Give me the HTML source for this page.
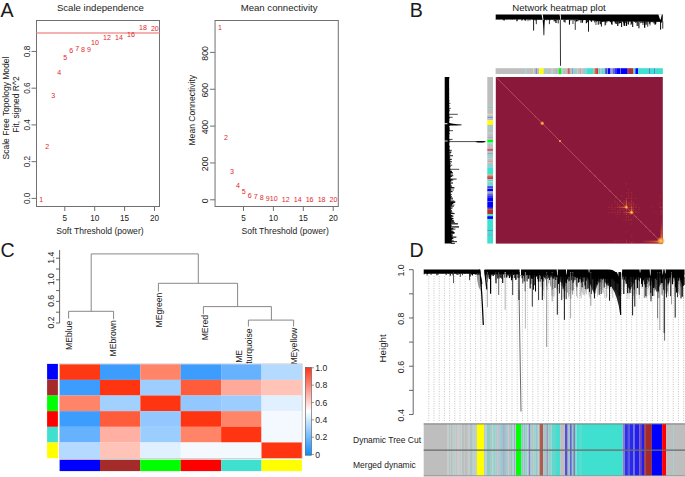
<!DOCTYPE html>
<html><head><meta charset="utf-8"><style>
html,body{margin:0;padding:0;background:#fff;width:685px;height:477px;overflow:hidden}
svg{display:block}
text{font-family:"Liberation Sans",sans-serif}
</style></head><body>
<svg width="685" height="477" viewBox="0 0 685 477">
<rect x="0" y="0" width="685" height="477" fill="#fff"/>
<text x="0.40" y="256.90" font-size="19.6" text-anchor="start" fill="#1a1a1a" >C</text>
<text x="0.40" y="17.00" font-size="19.6" text-anchor="start" fill="#1a1a1a" >A</text>
<text x="409.60" y="257.30" font-size="19.6" text-anchor="start" fill="#1a1a1a" >D</text>
<text x="409.70" y="17.00" font-size="19.6" text-anchor="start" fill="#1a1a1a" >B</text>
<rect x="36.5" y="20.5" width="123.0" height="186.0" fill="none" stroke="#707070" stroke-width="1"/>
<line x1="36.50" y1="33.00" x2="159.50" y2="33.00" stroke="#f09898" stroke-width="1.4" />
<text x="100.40" y="11.10" font-size="9.6" text-anchor="middle" fill="#222" >Scale independence</text>
<line x1="64.80" y1="206.50" x2="64.80" y2="211.00" stroke="#707070" stroke-width="1" />
<text x="64.80" y="220.60" font-size="8.2" text-anchor="middle" fill="#222" >5</text>
<line x1="94.70" y1="206.50" x2="94.70" y2="211.00" stroke="#707070" stroke-width="1" />
<text x="94.70" y="220.60" font-size="8.2" text-anchor="middle" fill="#222" >10</text>
<line x1="124.60" y1="206.50" x2="124.60" y2="211.00" stroke="#707070" stroke-width="1" />
<text x="124.60" y="220.60" font-size="8.2" text-anchor="middle" fill="#222" >15</text>
<line x1="154.50" y1="206.50" x2="154.50" y2="211.00" stroke="#707070" stroke-width="1" />
<text x="154.50" y="220.60" font-size="8.2" text-anchor="middle" fill="#222" >20</text>
<line x1="31.50" y1="198.40" x2="36.50" y2="198.40" stroke="#707070" stroke-width="1" />
<text transform="translate(30.20,198.40) rotate(-90)" font-size="8.2" text-anchor="middle" fill="#222" >0.0</text>
<line x1="31.50" y1="161.66" x2="36.50" y2="161.66" stroke="#707070" stroke-width="1" />
<text transform="translate(30.20,161.66) rotate(-90)" font-size="8.2" text-anchor="middle" fill="#222" >0.2</text>
<line x1="31.50" y1="124.92" x2="36.50" y2="124.92" stroke="#707070" stroke-width="1" />
<text transform="translate(30.20,124.92) rotate(-90)" font-size="8.2" text-anchor="middle" fill="#222" >0.4</text>
<line x1="31.50" y1="88.18" x2="36.50" y2="88.18" stroke="#707070" stroke-width="1" />
<text transform="translate(30.20,88.18) rotate(-90)" font-size="8.2" text-anchor="middle" fill="#222" >0.6</text>
<line x1="31.50" y1="51.44" x2="36.50" y2="51.44" stroke="#707070" stroke-width="1" />
<text transform="translate(30.20,51.44) rotate(-90)" font-size="8.2" text-anchor="middle" fill="#222" >0.8</text>
<text x="100.00" y="233.50" font-size="8.6" text-anchor="middle" fill="#222" >Soft Threshold (power)</text>
<text transform="translate(8.60,108.00) rotate(-90)" font-size="8.5" text-anchor="middle" fill="#222" >Scale Free Topology Model</text>
<text transform="translate(18.90,104.50) rotate(-90)" font-size="8.5" text-anchor="middle" fill="#222" >Fit, signed R^2</text>
<text x="41.23" y="202.20" font-size="7.1" text-anchor="middle" fill="#e0282d" >1</text>
<text x="47.21" y="149.10" font-size="7.1" text-anchor="middle" fill="#e0282d" >2</text>
<text x="53.19" y="98.00" font-size="7.1" text-anchor="middle" fill="#e0282d" >3</text>
<text x="59.17" y="74.70" font-size="7.1" text-anchor="middle" fill="#e0282d" >4</text>
<text x="65.15" y="59.80" font-size="7.1" text-anchor="middle" fill="#e0282d" >5</text>
<text x="71.13" y="53.00" font-size="7.1" text-anchor="middle" fill="#e0282d" >6</text>
<text x="77.11" y="51.00" font-size="7.1" text-anchor="middle" fill="#e0282d" >7</text>
<text x="83.09" y="51.50" font-size="7.1" text-anchor="middle" fill="#e0282d" >8</text>
<text x="89.07" y="51.50" font-size="7.1" text-anchor="middle" fill="#e0282d" >9</text>
<text x="95.05" y="44.50" font-size="7.1" text-anchor="middle" fill="#e0282d" >10</text>
<text x="107.01" y="39.90" font-size="7.1" text-anchor="middle" fill="#e0282d" >12</text>
<text x="118.97" y="40.10" font-size="7.1" text-anchor="middle" fill="#e0282d" >14</text>
<text x="130.93" y="36.80" font-size="7.1" text-anchor="middle" fill="#e0282d" >16</text>
<text x="142.89" y="30.30" font-size="7.1" text-anchor="middle" fill="#e0282d" >18</text>
<text x="154.85" y="30.50" font-size="7.1" text-anchor="middle" fill="#e0282d" >20</text>
<rect x="215.05" y="20.5" width="123.25" height="186.0" fill="none" stroke="#707070" stroke-width="1"/>
<text x="279.10" y="11.10" font-size="9.6" text-anchor="middle" fill="#222" >Mean connectivity</text>
<line x1="243.50" y1="206.50" x2="243.50" y2="211.00" stroke="#707070" stroke-width="1" />
<text x="243.50" y="220.60" font-size="8.2" text-anchor="middle" fill="#222" >5</text>
<line x1="273.40" y1="206.50" x2="273.40" y2="211.00" stroke="#707070" stroke-width="1" />
<text x="273.40" y="220.60" font-size="8.2" text-anchor="middle" fill="#222" >10</text>
<line x1="303.30" y1="206.50" x2="303.30" y2="211.00" stroke="#707070" stroke-width="1" />
<text x="303.30" y="220.60" font-size="8.2" text-anchor="middle" fill="#222" >15</text>
<line x1="333.20" y1="206.50" x2="333.20" y2="211.00" stroke="#707070" stroke-width="1" />
<text x="333.20" y="220.60" font-size="8.2" text-anchor="middle" fill="#222" >20</text>
<line x1="210.05" y1="199.80" x2="215.05" y2="199.80" stroke="#707070" stroke-width="1" />
<text transform="translate(207.70,200.80) rotate(-90)" font-size="8.7" text-anchor="middle" fill="#222" >0</text>
<line x1="210.05" y1="162.95" x2="215.05" y2="162.95" stroke="#707070" stroke-width="1" />
<text transform="translate(207.70,163.95) rotate(-90)" font-size="8.7" text-anchor="middle" fill="#222" >200</text>
<line x1="210.05" y1="126.10" x2="215.05" y2="126.10" stroke="#707070" stroke-width="1" />
<text transform="translate(207.70,127.10) rotate(-90)" font-size="8.7" text-anchor="middle" fill="#222" >400</text>
<line x1="210.05" y1="89.25" x2="215.05" y2="89.25" stroke="#707070" stroke-width="1" />
<text transform="translate(207.70,90.25) rotate(-90)" font-size="8.7" text-anchor="middle" fill="#222" >600</text>
<line x1="210.05" y1="52.40" x2="215.05" y2="52.40" stroke="#707070" stroke-width="1" />
<text transform="translate(207.70,53.40) rotate(-90)" font-size="8.7" text-anchor="middle" fill="#222" >800</text>
<text x="285.20" y="233.50" font-size="8.6" text-anchor="middle" fill="#222" >Soft Threshold (power)</text>
<text transform="translate(194.80,110.20) rotate(-90)" font-size="8.6" text-anchor="middle" fill="#222" >Mean Connectivity</text>
<text x="219.93" y="30.30" font-size="7.1" text-anchor="middle" fill="#e0282d" >1</text>
<text x="225.91" y="139.70" font-size="7.1" text-anchor="middle" fill="#e0282d" >2</text>
<text x="231.89" y="174.10" font-size="7.1" text-anchor="middle" fill="#e0282d" >3</text>
<text x="237.87" y="188.00" font-size="7.1" text-anchor="middle" fill="#e0282d" >4</text>
<text x="243.85" y="194.20" font-size="7.1" text-anchor="middle" fill="#e0282d" >5</text>
<text x="249.83" y="197.80" font-size="7.1" text-anchor="middle" fill="#e0282d" >6</text>
<text x="255.81" y="199.10" font-size="7.1" text-anchor="middle" fill="#e0282d" >7</text>
<text x="261.79" y="200.20" font-size="7.1" text-anchor="middle" fill="#e0282d" >8</text>
<text x="267.77" y="200.80" font-size="7.1" text-anchor="middle" fill="#e0282d" >9</text>
<text x="273.75" y="201.30" font-size="7.1" text-anchor="middle" fill="#e0282d" >10</text>
<text x="285.71" y="201.90" font-size="7.1" text-anchor="middle" fill="#e0282d" >12</text>
<text x="297.67" y="201.90" font-size="7.1" text-anchor="middle" fill="#e0282d" >14</text>
<text x="309.63" y="201.90" font-size="7.1" text-anchor="middle" fill="#e0282d" >16</text>
<text x="321.59" y="201.90" font-size="7.1" text-anchor="middle" fill="#e0282d" >18</text>
<text x="333.55" y="201.90" font-size="7.1" text-anchor="middle" fill="#e0282d" >20</text>
<rect x="495.60" y="68.20" width="30.05" height="5.80" fill="#bebebe" />
<rect x="525.60" y="68.20" width="1.25" height="5.80" fill="#7fcfc8" />
<rect x="526.80" y="68.20" width="6.25" height="5.80" fill="#bebebe" />
<rect x="533.00" y="68.20" width="0.85" height="5.80" fill="#d8d890" />
<rect x="533.80" y="68.20" width="1.75" height="5.80" fill="#bebebe" />
<rect x="535.50" y="68.20" width="1.55" height="5.80" fill="#8888d0" />
<rect x="537.00" y="68.20" width="2.25" height="5.80" fill="#bebebe" />
<rect x="539.20" y="68.20" width="4.45" height="5.80" fill="#ffff00" />
<rect x="543.60" y="68.20" width="1.45" height="5.80" fill="#bebebe" />
<rect x="545.00" y="68.20" width="0.85" height="5.80" fill="#80d0c8" />
<rect x="545.80" y="68.20" width="1.25" height="5.80" fill="#bebebe" />
<rect x="547.00" y="68.20" width="0.85" height="5.80" fill="#80d0c8" />
<rect x="547.80" y="68.20" width="3.75" height="5.80" fill="#bebebe" />
<rect x="551.50" y="68.20" width="0.95" height="5.80" fill="#90c8c8" />
<rect x="552.40" y="68.20" width="3.65" height="5.80" fill="#bebebe" />
<rect x="556.00" y="68.20" width="0.85" height="5.80" fill="#9a9ad0" />
<rect x="556.80" y="68.20" width="1.95" height="5.80" fill="#bebebe" />
<rect x="558.70" y="68.20" width="2.55" height="5.80" fill="#00ff00" />
<rect x="561.20" y="68.20" width="1.45" height="5.80" fill="#7ed6cc" />
<rect x="562.60" y="68.20" width="5.05" height="5.80" fill="#bebebe" />
<rect x="567.60" y="68.20" width="2.25" height="5.80" fill="#c06060" />
<rect x="569.80" y="68.20" width="2.45" height="5.80" fill="#bebebe" />
<rect x="572.20" y="68.20" width="1.25" height="5.80" fill="#8080d0" />
<rect x="573.40" y="68.20" width="1.65" height="5.80" fill="#80d8cc" />
<rect x="575.00" y="68.20" width="2.65" height="5.80" fill="#a8c8c4" />
<rect x="577.60" y="68.20" width="2.45" height="5.80" fill="#bebebe" />
<rect x="580.00" y="68.20" width="1.55" height="5.80" fill="#c4a4a4" />
<rect x="581.50" y="68.20" width="2.75" height="5.80" fill="#bebebe" />
<rect x="584.20" y="68.20" width="1.35" height="5.80" fill="#40e0d0" />
<rect x="585.50" y="68.20" width="0.85" height="5.80" fill="#a0a0d8" />
<rect x="586.30" y="68.20" width="7.15" height="5.80" fill="#40e0d0" />
<rect x="593.40" y="68.20" width="2.05" height="5.80" fill="#c8a080" />
<rect x="595.40" y="68.20" width="1.35" height="5.80" fill="#a52a2a" />
<rect x="596.70" y="68.20" width="1.35" height="5.80" fill="#e03030" />
<rect x="598.00" y="68.20" width="0.85" height="5.80" fill="#bebebe" />
<rect x="598.80" y="68.20" width="1.75" height="5.80" fill="#40e0d0" />
<rect x="600.50" y="68.20" width="1.55" height="5.80" fill="#a8c8c8" />
<rect x="602.00" y="68.20" width="3.25" height="5.80" fill="#70d8d0" />
<rect x="605.20" y="68.20" width="2.05" height="5.80" fill="#4040e0" />
<rect x="607.20" y="68.20" width="0.65" height="5.80" fill="#9090c8" />
<rect x="607.80" y="68.20" width="2.75" height="5.80" fill="#0000ff" />
<rect x="610.50" y="68.20" width="2.05" height="5.80" fill="#a0a0c8" />
<rect x="612.50" y="68.20" width="1.95" height="5.80" fill="#6060d0" />
<rect x="614.40" y="68.20" width="2.65" height="5.80" fill="#3030f0" />
<rect x="617.00" y="68.20" width="3.35" height="5.80" fill="#0000ff" />
<rect x="620.30" y="68.20" width="0.75" height="5.80" fill="#5050f0" />
<rect x="621.00" y="68.20" width="6.05" height="5.80" fill="#0000ff" />
<rect x="627.00" y="68.20" width="1.95" height="5.80" fill="#804080" />
<rect x="628.90" y="68.20" width="4.65" height="5.80" fill="#b03030" />
<rect x="633.50" y="68.20" width="1.95" height="5.80" fill="#40e0d0" />
<rect x="635.40" y="68.20" width="2.75" height="5.80" fill="#0000ff" />
<rect x="638.10" y="68.20" width="11.15" height="5.80" fill="#40e0d0" />
<rect x="649.20" y="68.20" width="0.85" height="5.80" fill="#4060d0" />
<rect x="650.00" y="68.20" width="4.05" height="5.80" fill="#40e0d0" />
<rect x="654.00" y="68.20" width="0.85" height="5.80" fill="#4060d0" />
<rect x="654.80" y="68.20" width="8.05" height="5.80" fill="#40e0d0" />
<rect x="487.30" y="77.00" width="5.70" height="29.92" fill="#bebebe" />
<rect x="487.30" y="106.87" width="5.70" height="1.24" fill="#7fcfc8" />
<rect x="487.30" y="108.07" width="5.70" height="6.22" fill="#bebebe" />
<rect x="487.30" y="114.24" width="5.70" height="0.85" fill="#d8d890" />
<rect x="487.30" y="115.04" width="5.70" height="1.74" fill="#bebebe" />
<rect x="487.30" y="116.73" width="5.70" height="1.54" fill="#8888d0" />
<rect x="487.30" y="118.23" width="5.70" height="2.24" fill="#bebebe" />
<rect x="487.30" y="120.42" width="5.70" height="4.43" fill="#ffff00" />
<rect x="487.30" y="124.80" width="5.70" height="1.44" fill="#bebebe" />
<rect x="487.30" y="126.19" width="5.70" height="0.85" fill="#80d0c8" />
<rect x="487.30" y="126.99" width="5.70" height="1.24" fill="#bebebe" />
<rect x="487.30" y="128.18" width="5.70" height="0.85" fill="#80d0c8" />
<rect x="487.30" y="128.98" width="5.70" height="3.73" fill="#bebebe" />
<rect x="487.30" y="132.67" width="5.70" height="0.95" fill="#90c8c8" />
<rect x="487.30" y="133.56" width="5.70" height="3.63" fill="#bebebe" />
<rect x="487.30" y="137.15" width="5.70" height="0.85" fill="#9a9ad0" />
<rect x="487.30" y="137.94" width="5.70" height="1.94" fill="#bebebe" />
<rect x="487.30" y="139.84" width="5.70" height="2.54" fill="#00ff00" />
<rect x="487.30" y="142.33" width="5.70" height="1.44" fill="#7ed6cc" />
<rect x="487.30" y="143.72" width="5.70" height="5.03" fill="#bebebe" />
<rect x="487.30" y="148.70" width="5.70" height="2.24" fill="#c06060" />
<rect x="487.30" y="150.89" width="5.70" height="2.44" fill="#bebebe" />
<rect x="487.30" y="153.28" width="5.70" height="1.24" fill="#8080d0" />
<rect x="487.30" y="154.47" width="5.70" height="1.64" fill="#80d8cc" />
<rect x="487.30" y="156.07" width="5.70" height="2.64" fill="#a8c8c4" />
<rect x="487.30" y="158.66" width="5.70" height="2.44" fill="#bebebe" />
<rect x="487.30" y="161.05" width="5.70" height="1.54" fill="#c4a4a4" />
<rect x="487.30" y="162.54" width="5.70" height="2.74" fill="#bebebe" />
<rect x="487.30" y="165.23" width="5.70" height="1.34" fill="#40e0d0" />
<rect x="487.30" y="166.52" width="5.70" height="0.85" fill="#a0a0d8" />
<rect x="487.30" y="167.32" width="5.70" height="7.12" fill="#40e0d0" />
<rect x="487.30" y="174.39" width="5.70" height="2.04" fill="#c8a080" />
<rect x="487.30" y="176.38" width="5.70" height="1.34" fill="#a52a2a" />
<rect x="487.30" y="177.68" width="5.70" height="1.34" fill="#e03030" />
<rect x="487.30" y="178.97" width="5.70" height="0.85" fill="#bebebe" />
<rect x="487.30" y="179.77" width="5.70" height="1.74" fill="#40e0d0" />
<rect x="487.30" y="181.46" width="5.70" height="1.54" fill="#a8c8c8" />
<rect x="487.30" y="182.95" width="5.70" height="3.24" fill="#70d8d0" />
<rect x="487.30" y="186.14" width="5.70" height="2.04" fill="#4040e0" />
<rect x="487.30" y="188.13" width="5.70" height="0.65" fill="#9090c8" />
<rect x="487.30" y="188.73" width="5.70" height="2.74" fill="#0000ff" />
<rect x="487.30" y="191.42" width="5.70" height="2.04" fill="#a0a0c8" />
<rect x="487.30" y="193.41" width="5.70" height="1.94" fill="#6060d0" />
<rect x="487.30" y="195.30" width="5.70" height="2.64" fill="#3030f0" />
<rect x="487.30" y="197.89" width="5.70" height="3.34" fill="#0000ff" />
<rect x="487.30" y="201.18" width="5.70" height="0.75" fill="#5050f0" />
<rect x="487.30" y="201.87" width="5.70" height="6.02" fill="#0000ff" />
<rect x="487.30" y="207.85" width="5.70" height="1.94" fill="#804080" />
<rect x="487.30" y="209.74" width="5.70" height="4.63" fill="#b03030" />
<rect x="487.30" y="214.32" width="5.70" height="1.94" fill="#40e0d0" />
<rect x="487.30" y="216.21" width="5.70" height="2.74" fill="#0000ff" />
<rect x="487.30" y="218.90" width="5.70" height="11.10" fill="#40e0d0" />
<rect x="487.30" y="229.96" width="5.70" height="0.85" fill="#4060d0" />
<rect x="487.30" y="230.75" width="5.70" height="4.03" fill="#40e0d0" />
<rect x="487.30" y="234.74" width="5.70" height="0.85" fill="#4060d0" />
<rect x="487.30" y="235.53" width="5.70" height="8.02" fill="#40e0d0" />
<rect x="495.80" y="77.00" width="167.00" height="166.60" fill="#8a183b" />
<text x="559.00" y="11.30" font-size="9.6" text-anchor="middle" fill="#222" >Network heatmap plot</text>
<line x1="496.10" y1="77.30" x2="662.50" y2="243.30" stroke="#e8b0a8" stroke-width="0.5" opacity="0.7"/>
<rect x="608.40" y="206.69" width="1.20" height="1.20" fill="#e8682a" opacity="0.30"/>
<rect x="608.40" y="211.87" width="1.20" height="1.20" fill="#e8682a" opacity="0.25"/>
<rect x="611.40" y="204.29" width="1.20" height="1.20" fill="#e8682a" opacity="0.26"/>
<rect x="611.40" y="206.69" width="1.20" height="1.20" fill="#e8682a" opacity="0.28"/>
<rect x="611.40" y="208.78" width="1.20" height="1.20" fill="#e8682a" opacity="0.28"/>
<rect x="611.40" y="211.87" width="1.20" height="1.20" fill="#e8682a" opacity="0.31"/>
<rect x="614.40" y="200.30" width="1.20" height="1.20" fill="#e8682a" opacity="0.25"/>
<rect x="614.40" y="202.30" width="1.20" height="1.20" fill="#e8682a" opacity="0.26"/>
<rect x="614.40" y="206.69" width="1.20" height="1.20" fill="#e8682a" opacity="0.26"/>
<rect x="614.40" y="208.78" width="1.20" height="1.20" fill="#e8682a" opacity="0.26"/>
<rect x="614.40" y="211.87" width="1.20" height="1.20" fill="#e8682a" opacity="0.28"/>
<rect x="616.90" y="202.30" width="1.20" height="1.20" fill="#e8682a" opacity="0.29"/>
<rect x="616.90" y="204.29" width="1.20" height="1.20" fill="#e8682a" opacity="0.32"/>
<rect x="616.90" y="206.69" width="1.20" height="1.20" fill="#e8682a" opacity="0.41"/>
<rect x="616.90" y="210.28" width="1.20" height="1.20" fill="#e8682a" opacity="0.25"/>
<rect x="616.90" y="211.87" width="1.20" height="1.20" fill="#e8682a" opacity="0.28"/>
<rect x="616.90" y="213.77" width="1.20" height="1.20" fill="#e8682a" opacity="0.29"/>
<rect x="616.90" y="216.26" width="1.20" height="1.20" fill="#e8682a" opacity="0.24"/>
<rect x="619.40" y="204.29" width="1.20" height="1.20" fill="#e8682a" opacity="0.27"/>
<rect x="619.40" y="206.69" width="1.20" height="1.20" fill="#e8682a" opacity="0.44"/>
<rect x="619.40" y="208.78" width="1.20" height="1.20" fill="#e8682a" opacity="0.29"/>
<rect x="619.40" y="210.28" width="1.20" height="1.20" fill="#e8682a" opacity="0.27"/>
<rect x="619.40" y="211.87" width="1.20" height="1.20" fill="#e8682a" opacity="0.35"/>
<rect x="619.40" y="213.77" width="1.20" height="1.20" fill="#e8682a" opacity="0.25"/>
<rect x="621.40" y="195.31" width="1.20" height="1.20" fill="#e8682a" opacity="0.23"/>
<rect x="621.40" y="206.69" width="1.20" height="1.20" fill="#e8682a" opacity="0.26"/>
<rect x="621.40" y="208.78" width="1.20" height="1.20" fill="#e8682a" opacity="0.25"/>
<rect x="623.40" y="200.30" width="1.20" height="1.20" fill="#e8682a" opacity="0.33"/>
<rect x="623.40" y="202.30" width="1.20" height="1.20" fill="#e8682a" opacity="0.42"/>
<rect x="623.40" y="206.69" width="1.20" height="1.20" fill="#e8682a" opacity="0.41"/>
<rect x="623.40" y="208.78" width="1.20" height="1.20" fill="#e8682a" opacity="0.33"/>
<rect x="623.40" y="210.28" width="1.20" height="1.20" fill="#e8682a" opacity="0.23"/>
<rect x="623.40" y="211.87" width="1.20" height="1.20" fill="#e8682a" opacity="0.28"/>
<rect x="623.40" y="213.77" width="1.20" height="1.20" fill="#e8682a" opacity="0.25"/>
<rect x="623.40" y="219.26" width="1.20" height="1.20" fill="#e8682a" opacity="0.24"/>
<rect x="625.80" y="183.34" width="1.20" height="1.20" fill="#e8682a" opacity="0.25"/>
<rect x="625.80" y="192.32" width="1.20" height="1.20" fill="#e8682a" opacity="0.27"/>
<rect x="625.80" y="197.81" width="1.20" height="1.20" fill="#e8682a" opacity="0.32"/>
<rect x="625.80" y="200.30" width="1.20" height="1.20" fill="#e8682a" opacity="0.44"/>
<rect x="625.80" y="202.30" width="1.20" height="1.20" fill="#e8682a" opacity="0.48"/>
<rect x="625.80" y="204.29" width="1.20" height="1.20" fill="#e8682a" opacity="0.49"/>
<rect x="625.80" y="208.78" width="1.20" height="1.20" fill="#e8682a" opacity="0.33"/>
<rect x="625.80" y="210.28" width="1.20" height="1.20" fill="#e8682a" opacity="0.40"/>
<rect x="625.80" y="211.87" width="1.20" height="1.20" fill="#e8682a" opacity="0.38"/>
<rect x="625.80" y="213.77" width="1.20" height="1.20" fill="#e8682a" opacity="0.45"/>
<rect x="625.80" y="216.26" width="1.20" height="1.20" fill="#e8682a" opacity="0.30"/>
<rect x="625.80" y="219.26" width="1.20" height="1.20" fill="#e8682a" opacity="0.29"/>
<rect x="627.90" y="189.33" width="1.20" height="1.20" fill="#e8682a" opacity="0.25"/>
<rect x="627.90" y="192.32" width="1.20" height="1.20" fill="#e8682a" opacity="0.27"/>
<rect x="627.90" y="195.31" width="1.20" height="1.20" fill="#e8682a" opacity="0.29"/>
<rect x="627.90" y="197.81" width="1.20" height="1.20" fill="#e8682a" opacity="0.30"/>
<rect x="627.90" y="202.30" width="1.20" height="1.20" fill="#e8682a" opacity="0.30"/>
<rect x="627.90" y="204.29" width="1.20" height="1.20" fill="#e8682a" opacity="0.29"/>
<rect x="627.90" y="206.69" width="1.20" height="1.20" fill="#e8682a" opacity="0.25"/>
<rect x="627.90" y="211.87" width="1.20" height="1.20" fill="#e8682a" opacity="0.34"/>
<rect x="627.90" y="213.77" width="1.20" height="1.20" fill="#e8682a" opacity="0.23"/>
<rect x="627.90" y="216.26" width="1.20" height="1.20" fill="#e8682a" opacity="0.27"/>
<rect x="627.90" y="219.26" width="1.20" height="1.20" fill="#e8682a" opacity="0.26"/>
<rect x="629.40" y="202.30" width="1.20" height="1.20" fill="#e8682a" opacity="0.35"/>
<rect x="629.40" y="204.29" width="1.20" height="1.20" fill="#e8682a" opacity="0.48"/>
<rect x="629.40" y="206.69" width="1.20" height="1.20" fill="#e8682a" opacity="0.58"/>
<rect x="629.40" y="208.78" width="1.20" height="1.20" fill="#e8682a" opacity="0.35"/>
<rect x="629.40" y="211.87" width="1.20" height="1.20" fill="#e8682a" opacity="0.50"/>
<rect x="629.40" y="213.77" width="1.20" height="1.20" fill="#e8682a" opacity="0.39"/>
<rect x="629.40" y="219.26" width="1.20" height="1.20" fill="#e8682a" opacity="0.23"/>
<rect x="631.00" y="192.32" width="1.20" height="1.20" fill="#e8682a" opacity="0.33"/>
<rect x="631.00" y="195.31" width="1.20" height="1.20" fill="#e8682a" opacity="0.25"/>
<rect x="631.00" y="197.81" width="1.20" height="1.20" fill="#e8682a" opacity="0.40"/>
<rect x="631.00" y="200.30" width="1.20" height="1.20" fill="#e8682a" opacity="0.44"/>
<rect x="631.00" y="202.30" width="1.20" height="1.20" fill="#e8682a" opacity="0.33"/>
<rect x="631.00" y="204.29" width="1.20" height="1.20" fill="#e8682a" opacity="0.38"/>
<rect x="631.00" y="206.69" width="1.20" height="1.20" fill="#e8682a" opacity="0.73"/>
<rect x="631.00" y="208.78" width="1.20" height="1.20" fill="#e8682a" opacity="0.50"/>
<rect x="631.00" y="210.28" width="1.20" height="1.20" fill="#e8682a" opacity="0.32"/>
<rect x="631.00" y="213.77" width="1.20" height="1.20" fill="#e8682a" opacity="0.25"/>
<rect x="631.00" y="219.26" width="1.20" height="1.20" fill="#e8682a" opacity="0.32"/>
<rect x="631.00" y="223.25" width="1.20" height="1.20" fill="#e8682a" opacity="0.23"/>
<rect x="632.90" y="202.30" width="1.20" height="1.20" fill="#e8682a" opacity="0.36"/>
<rect x="632.90" y="204.29" width="1.20" height="1.20" fill="#e8682a" opacity="0.33"/>
<rect x="632.90" y="206.69" width="1.20" height="1.20" fill="#e8682a" opacity="0.38"/>
<rect x="632.90" y="208.78" width="1.20" height="1.20" fill="#e8682a" opacity="0.40"/>
<rect x="632.90" y="210.28" width="1.20" height="1.20" fill="#e8682a" opacity="0.29"/>
<rect x="632.90" y="211.87" width="1.20" height="1.20" fill="#e8682a" opacity="0.48"/>
<rect x="632.90" y="216.26" width="1.20" height="1.20" fill="#e8682a" opacity="0.26"/>
<rect x="635.40" y="197.81" width="1.20" height="1.20" fill="#e8682a" opacity="0.23"/>
<rect x="635.40" y="204.29" width="1.20" height="1.20" fill="#e8682a" opacity="0.25"/>
<rect x="635.40" y="206.69" width="1.20" height="1.20" fill="#e8682a" opacity="0.39"/>
<rect x="635.40" y="210.28" width="1.20" height="1.20" fill="#e8682a" opacity="0.33"/>
<rect x="635.40" y="211.87" width="1.20" height="1.20" fill="#e8682a" opacity="0.29"/>
<rect x="638.40" y="206.69" width="1.20" height="1.20" fill="#e8682a" opacity="0.25"/>
<rect x="638.40" y="208.78" width="1.20" height="1.20" fill="#e8682a" opacity="0.24"/>
<rect x="638.40" y="211.87" width="1.20" height="1.20" fill="#e8682a" opacity="0.25"/>
<rect x="650.40" y="242.00" width="1.20" height="1.20" fill="#e8682a" opacity="0.29"/>
<rect x="653.40" y="240.81" width="1.20" height="1.20" fill="#e8682a" opacity="0.36"/>
<rect x="653.40" y="242.00" width="1.20" height="1.20" fill="#e8682a" opacity="0.26"/>
<rect x="655.40" y="240.81" width="1.20" height="1.20" fill="#e8682a" opacity="0.30"/>
<rect x="655.40" y="242.00" width="1.20" height="1.20" fill="#e8682a" opacity="0.35"/>
<rect x="657.40" y="240.81" width="1.20" height="1.20" fill="#e8682a" opacity="0.25"/>
<rect x="657.40" y="242.00" width="1.20" height="1.20" fill="#e8682a" opacity="0.26"/>
<rect x="658.90" y="240.81" width="1.20" height="1.20" fill="#e8682a" opacity="0.35"/>
<rect x="658.90" y="242.00" width="1.20" height="1.20" fill="#e8682a" opacity="0.23"/>
<rect x="660.00" y="231.23" width="1.20" height="1.20" fill="#e8682a" opacity="0.23"/>
<rect x="660.00" y="234.22" width="1.20" height="1.20" fill="#e8682a" opacity="0.36"/>
<rect x="660.00" y="238.21" width="1.20" height="1.20" fill="#e8682a" opacity="0.43"/>
<rect x="660.00" y="239.71" width="1.20" height="1.20" fill="#e8682a" opacity="0.42"/>
<rect x="660.00" y="242.00" width="1.20" height="1.20" fill="#e8682a" opacity="0.47"/>
<rect x="661.20" y="231.23" width="1.20" height="1.20" fill="#e8682a" opacity="0.25"/>
<rect x="661.20" y="234.22" width="1.20" height="1.20" fill="#e8682a" opacity="0.33"/>
<rect x="661.20" y="238.21" width="1.20" height="1.20" fill="#e8682a" opacity="0.39"/>
<rect x="661.20" y="239.71" width="1.20" height="1.20" fill="#e8682a" opacity="0.47"/>
<rect x="661.20" y="240.81" width="1.20" height="1.20" fill="#e8682a" opacity="0.53"/>
<rect x="614.40" y="240.81" width="1.20" height="1.20" fill="#e0602a" opacity="0.23"/>
<rect x="660.00" y="195.31" width="1.20" height="1.20" fill="#e0602a" opacity="0.23"/>
<rect x="616.90" y="239.71" width="1.20" height="1.20" fill="#e0602a" opacity="0.17"/>
<rect x="658.90" y="197.81" width="1.20" height="1.20" fill="#e0602a" opacity="0.17"/>
<rect x="619.40" y="239.71" width="1.20" height="1.20" fill="#e0602a" opacity="0.15"/>
<rect x="658.90" y="200.30" width="1.20" height="1.20" fill="#e0602a" opacity="0.15"/>
<rect x="621.40" y="239.71" width="1.20" height="1.20" fill="#e0602a" opacity="0.17"/>
<rect x="658.90" y="202.30" width="1.20" height="1.20" fill="#e0602a" opacity="0.17"/>
<rect x="621.40" y="240.81" width="1.20" height="1.20" fill="#e0602a" opacity="0.14"/>
<rect x="660.00" y="202.30" width="1.20" height="1.20" fill="#e0602a" opacity="0.14"/>
<rect x="623.40" y="238.21" width="1.20" height="1.20" fill="#e0602a" opacity="0.16"/>
<rect x="657.40" y="204.29" width="1.20" height="1.20" fill="#e0602a" opacity="0.16"/>
<rect x="625.80" y="231.23" width="1.20" height="1.20" fill="#e0602a" opacity="0.18"/>
<rect x="650.40" y="206.69" width="1.20" height="1.20" fill="#e0602a" opacity="0.18"/>
<rect x="625.80" y="239.71" width="1.20" height="1.20" fill="#e0602a" opacity="0.24"/>
<rect x="658.90" y="206.69" width="1.20" height="1.20" fill="#e0602a" opacity="0.24"/>
<rect x="625.80" y="240.81" width="1.20" height="1.20" fill="#e0602a" opacity="0.32"/>
<rect x="660.00" y="206.69" width="1.20" height="1.20" fill="#e0602a" opacity="0.32"/>
<rect x="625.80" y="242.00" width="1.20" height="1.20" fill="#e0602a" opacity="0.23"/>
<rect x="661.20" y="206.69" width="1.20" height="1.20" fill="#e0602a" opacity="0.23"/>
<rect x="629.40" y="240.81" width="1.20" height="1.20" fill="#e0602a" opacity="0.32"/>
<rect x="660.00" y="210.28" width="1.20" height="1.20" fill="#e0602a" opacity="0.32"/>
<rect x="631.00" y="234.22" width="1.20" height="1.20" fill="#e0602a" opacity="0.17"/>
<rect x="653.40" y="211.87" width="1.20" height="1.20" fill="#e0602a" opacity="0.17"/>
<rect x="631.00" y="236.22" width="1.20" height="1.20" fill="#e0602a" opacity="0.22"/>
<rect x="655.40" y="211.87" width="1.20" height="1.20" fill="#e0602a" opacity="0.22"/>
<rect x="631.00" y="242.00" width="1.20" height="1.20" fill="#e0602a" opacity="0.36"/>
<rect x="661.20" y="211.87" width="1.20" height="1.20" fill="#e0602a" opacity="0.36"/>
<rect x="632.90" y="234.22" width="1.20" height="1.20" fill="#e0602a" opacity="0.14"/>
<rect x="653.40" y="213.77" width="1.20" height="1.20" fill="#e0602a" opacity="0.14"/>
<rect x="632.90" y="238.21" width="1.20" height="1.20" fill="#e0602a" opacity="0.16"/>
<rect x="657.40" y="213.77" width="1.20" height="1.20" fill="#e0602a" opacity="0.16"/>
<rect x="632.90" y="240.81" width="1.20" height="1.20" fill="#e0602a" opacity="0.26"/>
<rect x="660.00" y="213.77" width="1.20" height="1.20" fill="#e0602a" opacity="0.26"/>
<rect x="632.90" y="242.00" width="1.20" height="1.20" fill="#e0602a" opacity="0.19"/>
<rect x="661.20" y="213.77" width="1.20" height="1.20" fill="#e0602a" opacity="0.19"/>
<rect x="638.40" y="240.81" width="1.20" height="1.20" fill="#e0602a" opacity="0.17"/>
<rect x="660.00" y="219.26" width="1.20" height="1.20" fill="#e0602a" opacity="0.17"/>
<defs><linearGradient id="gh" x1="0" y1="0" x2="1" y2="0"><stop offset="0" stop-color="#f07028" stop-opacity="0"/><stop offset="0.6" stop-color="#f07028" stop-opacity="0.55"/><stop offset="1" stop-color="#ffb040" stop-opacity="0.95"/></linearGradient><linearGradient id="gv" x1="0" y1="0" x2="0" y2="1"><stop offset="0" stop-color="#f07028" stop-opacity="0"/><stop offset="0.6" stop-color="#f07028" stop-opacity="0.55"/><stop offset="1" stop-color="#ffb040" stop-opacity="0.95"/></linearGradient><radialGradient id="gr"><stop offset="0" stop-color="#ffe060" stop-opacity="1"/><stop offset="0.5" stop-color="#f8a030" stop-opacity="0.8"/><stop offset="1" stop-color="#f07028" stop-opacity="0"/></radialGradient></defs>
<rect x="641.00" y="240.60" width="21.80" height="1.80" fill="url(#gh)" />
<rect x="660.60" y="221.00" width="1.80" height="21.60" fill="url(#gv)" />
<circle cx="660.8" cy="240.8" r="4.2" fill="url(#gr)"/>
<rect x="616.40" y="206.59" width="10.00" height="1.40" fill="url(#gh)" opacity="0.8"/>
<rect x="625.70" y="197.29" width="1.40" height="10.00" fill="url(#gv)" opacity="0.8"/>
<circle cx="626.4" cy="207.29" r="2.0" fill="url(#gr)"/>
<rect x="622.60" y="211.77" width="9.00" height="1.40" fill="url(#gh)" opacity="0.8"/>
<rect x="630.90" y="203.47" width="1.40" height="9.00" fill="url(#gv)" opacity="0.8"/>
<circle cx="631.6" cy="212.47" r="2.2" fill="url(#gr)"/>
<circle cx="542.2" cy="123.29" r="2.3" fill="url(#gr)"/>
<circle cx="560.0" cy="141.05" r="1.6" fill="url(#gr)"/>
<rect x="534.90" y="116.00" width="1.20" height="1.20" fill="#e07030" opacity="0.60"/>
<rect x="538.00" y="119.10" width="1.00" height="1.00" fill="#e07030" opacity="0.50"/>
<rect x="550.00" y="131.07" width="1.00" height="1.00" fill="#e07030" opacity="0.50"/>
<rect x="589.50" y="170.47" width="1.00" height="1.00" fill="#f09040" opacity="0.55"/>
<rect x="594.50" y="175.46" width="1.00" height="1.00" fill="#f09040" opacity="0.55"/>
<rect x="599.50" y="180.45" width="1.00" height="1.00" fill="#f09040" opacity="0.55"/>
<rect x="604.50" y="185.44" width="1.00" height="1.00" fill="#f09040" opacity="0.55"/>
<rect x="609.50" y="190.43" width="1.00" height="1.00" fill="#f09040" opacity="0.55"/>
<rect x="615.50" y="196.41" width="1.00" height="1.00" fill="#f09040" opacity="0.55"/>
<rect x="619.50" y="200.40" width="1.00" height="1.00" fill="#f09040" opacity="0.55"/>
<rect x="635.50" y="216.36" width="1.00" height="1.00" fill="#f09040" opacity="0.55"/>
<rect x="640.50" y="221.35" width="1.00" height="1.00" fill="#f09040" opacity="0.55"/>
<rect x="645.50" y="226.34" width="1.00" height="1.00" fill="#f09040" opacity="0.55"/>
<rect x="649.50" y="230.33" width="1.00" height="1.00" fill="#f09040" opacity="0.55"/>
<rect x="653.50" y="234.32" width="1.00" height="1.00" fill="#f09040" opacity="0.55"/>
<polygon points="495.70,14.50 495.70,19.40 496.20,19.40 496.70,19.40 497.20,19.40 497.70,19.40 498.20,19.40 498.70,19.40 499.20,19.40 499.70,19.40 500.20,19.40 500.70,19.40 501.20,19.40 501.70,19.40 502.20,19.40 502.70,19.40 503.20,19.40 503.70,19.40 504.20,19.40 504.70,19.40 505.20,19.40 505.70,19.40 506.20,19.40 506.70,19.40 507.20,19.40 507.70,19.40 508.20,19.40 508.70,19.40 509.20,19.40 509.70,19.40 510.20,19.40 510.70,19.40 511.20,19.40 511.70,19.40 512.20,19.40 512.70,19.40 513.20,19.40 513.70,19.40 514.20,19.40 514.70,19.40 515.20,19.40 515.70,19.40 516.20,19.40 516.70,19.40 517.20,19.40 517.70,19.40 518.20,19.40 518.70,19.40 519.20,19.40 519.70,19.40 520.20,19.40 520.70,19.40 521.20,19.40 521.70,19.40 522.20,19.40 522.70,19.40 523.20,19.40 523.70,19.40 524.20,19.40 524.70,19.40 525.20,19.40 525.70,19.40 526.20,19.40 526.70,19.40 527.20,19.40 527.70,19.40 528.20,19.40 528.70,19.40 529.20,19.40 529.70,19.40 530.20,19.42 530.70,19.47 531.20,19.52 531.70,19.57 532.20,19.62 532.70,19.67 533.20,19.70 533.70,19.70 534.20,19.70 534.70,19.71 535.20,19.71 535.70,19.71 536.20,19.71 536.70,19.71 537.20,19.72 537.70,19.72 538.20,19.72 538.70,19.72 539.20,19.72 539.70,19.73 540.20,19.73 540.70,19.73 541.20,19.73 541.70,19.73 542.20,19.74 542.70,19.74 543.20,19.74 543.70,19.74 544.20,19.74 544.70,19.75 545.20,19.75 545.70,19.75 546.20,19.75 546.70,19.75 547.20,19.75 547.70,19.76 548.20,19.76 548.70,19.76 549.20,19.76 549.70,19.76 550.20,19.77 550.70,19.77 551.20,19.77 551.70,19.77 552.20,19.77 552.70,19.78 553.20,19.78 553.70,19.78 554.20,19.78 554.70,19.78 555.20,19.79 555.70,19.79 556.20,19.79 556.70,19.79 557.20,19.79 557.70,19.80 558.20,19.80 558.70,19.80 559.20,19.80 559.70,19.80 560.20,19.80 560.70,19.81 561.20,19.81 561.70,19.81 562.20,19.81 562.70,19.81 563.20,19.82 563.70,19.82 564.20,19.82 564.70,19.82 565.20,19.82 565.70,19.83 566.20,19.83 566.70,19.83 567.20,19.83 567.70,19.83 568.20,19.84 568.70,19.84 569.20,19.84 569.70,19.84 570.20,19.84 570.70,19.84 571.20,19.85 571.70,19.85 572.20,19.85 572.70,19.85 573.20,19.85 573.70,19.86 574.20,19.86 574.70,19.86 575.20,19.86 575.70,19.86 576.20,19.87 576.70,19.87 577.20,19.87 577.70,19.87 578.20,19.87 578.70,19.88 579.20,19.88 579.70,19.88 580.20,19.88 580.70,19.88 581.20,19.89 581.70,19.89 582.20,19.89 582.70,19.89 583.20,19.89 583.70,19.89 584.20,19.90 584.70,19.90 585.20,19.92 585.70,19.96 586.20,20.00 586.70,20.04 587.20,20.08 587.70,20.12 588.20,20.16 588.70,20.20 589.20,20.24 589.70,20.28 590.20,20.32 590.70,20.36 591.20,20.40 591.70,20.44 592.20,20.48 592.70,20.52 593.20,20.56 593.70,20.60 594.20,20.64 594.70,20.68 595.20,20.72 595.70,20.76 596.20,20.80 596.70,20.84 597.20,20.88 597.70,20.92 598.20,20.96 598.70,21.00 599.20,21.04 599.70,21.08 600.20,21.10 600.70,21.11 601.20,21.12 601.70,21.13 602.20,21.14 602.70,21.15 603.20,21.16 603.70,21.17 604.20,21.18 604.70,21.19 605.20,21.20 605.70,21.21 606.20,21.22 606.70,21.23 607.20,21.24 607.70,21.25 608.20,21.26 608.70,21.27 609.20,21.28 609.70,21.29 610.20,21.30 610.70,21.31 611.20,21.32 611.70,21.33 612.20,21.34 612.70,21.35 613.20,21.36 613.70,21.37 614.20,21.38 614.70,21.39 615.20,21.40 615.70,21.41 616.20,21.42 616.70,21.43 617.20,21.44 617.70,21.45 618.20,21.46 618.70,21.47 619.20,21.48 619.70,21.49 620.20,21.50 620.70,21.50 621.20,21.51 621.70,21.51 622.20,21.51 622.70,21.51 623.20,21.51 623.70,21.52 624.20,21.52 624.70,21.52 625.20,21.52 625.70,21.53 626.20,21.53 626.70,21.53 627.20,21.53 627.70,21.54 628.20,21.54 628.70,21.54 629.20,21.54 629.70,21.55 630.20,21.55 630.70,21.55 631.20,21.55 631.70,21.55 632.20,21.56 632.70,21.56 633.20,21.56 633.70,21.56 634.20,21.57 634.70,21.57 635.20,21.57 635.70,21.57 636.20,21.58 636.70,21.58 637.20,21.58 637.70,21.58 638.20,21.59 638.70,21.59 639.20,21.59 639.70,21.59 640.20,21.59 640.70,21.60 641.20,21.60 641.70,21.60 642.20,21.60 642.70,21.61 643.20,21.61 643.70,21.61 644.20,21.61 644.70,21.62 645.20,21.62 645.70,21.62 646.20,21.62 646.70,21.62 647.20,21.63 647.70,21.63 648.20,21.63 648.70,21.63 649.20,21.64 649.70,21.64 650.20,21.64 650.70,21.64 651.20,21.65 651.70,21.65 652.20,21.65 652.70,21.65 653.20,21.66 653.70,21.66 654.20,21.66 654.70,21.66 655.20,21.66 655.70,21.67 656.20,21.67 656.70,21.67 657.20,21.67 657.70,21.68 658.20,21.68 658.70,21.68 659.20,21.68 659.70,21.69 660.20,21.69 660.70,21.69 661.20,21.69 661.70,21.69 662.20,21.70 662.70,21.70 662.80,14.50" fill="#000"/>
<line x1="496.15" y1="19.10" x2="496.15" y2="19.35" stroke="#000" stroke-width="1.26"/>
<line x1="498.08" y1="19.10" x2="498.08" y2="19.32" stroke="#000" stroke-width="1.07"/>
<line x1="499.43" y1="19.10" x2="499.43" y2="19.33" stroke="#000" stroke-width="1.10"/>
<line x1="501.96" y1="19.10" x2="501.96" y2="19.13" stroke="#000" stroke-width="0.92"/>
<line x1="503.10" y1="19.10" x2="503.10" y2="19.65" stroke="#000" stroke-width="1.13"/>
<line x1="504.13" y1="19.10" x2="504.13" y2="20.45" stroke="#000" stroke-width="1.28"/>
<line x1="506.33" y1="19.10" x2="506.33" y2="19.43" stroke="#000" stroke-width="0.84"/>
<line x1="507.29" y1="19.10" x2="507.29" y2="19.36" stroke="#000" stroke-width="0.78"/>
<line x1="508.58" y1="19.10" x2="508.58" y2="19.20" stroke="#000" stroke-width="0.77"/>
<line x1="510.36" y1="19.10" x2="510.36" y2="19.31" stroke="#000" stroke-width="1.21"/>
<line x1="512.23" y1="19.10" x2="512.23" y2="19.48" stroke="#000" stroke-width="1.02"/>
<line x1="514.33" y1="19.10" x2="514.33" y2="19.33" stroke="#000" stroke-width="0.90"/>
<line x1="517.00" y1="19.10" x2="517.00" y2="21.21" stroke="#000" stroke-width="1.21"/>
<line x1="519.11" y1="19.10" x2="519.11" y2="19.25" stroke="#000" stroke-width="0.88"/>
<line x1="520.48" y1="19.10" x2="520.48" y2="19.13" stroke="#000" stroke-width="1.17"/>
<line x1="522.02" y1="19.10" x2="522.02" y2="20.04" stroke="#000" stroke-width="0.96"/>
<line x1="524.49" y1="19.10" x2="524.49" y2="20.27" stroke="#000" stroke-width="0.75"/>
<line x1="525.67" y1="19.10" x2="525.67" y2="20.75" stroke="#000" stroke-width="1.01"/>
<line x1="528.11" y1="19.10" x2="528.11" y2="19.51" stroke="#000" stroke-width="0.79"/>
<line x1="529.94" y1="19.10" x2="529.94" y2="20.45" stroke="#000" stroke-width="0.90"/>
<line x1="530.88" y1="19.19" x2="530.88" y2="19.56" stroke="#000" stroke-width="1.28"/>
<line x1="532.88" y1="19.39" x2="532.88" y2="19.51" stroke="#000" stroke-width="0.89"/>
<line x1="533.83" y1="19.40" x2="533.83" y2="19.46" stroke="#000" stroke-width="1.19"/>
<line x1="534.89" y1="19.41" x2="534.89" y2="20.18" stroke="#000" stroke-width="1.00"/>
<line x1="535.96" y1="19.41" x2="535.96" y2="20.67" stroke="#000" stroke-width="0.82"/>
<line x1="537.72" y1="19.42" x2="537.72" y2="19.54" stroke="#000" stroke-width="0.98"/>
<line x1="538.81" y1="19.42" x2="538.81" y2="19.73" stroke="#000" stroke-width="1.28"/>
<line x1="540.78" y1="19.43" x2="540.78" y2="19.80" stroke="#000" stroke-width="1.24"/>
<line x1="541.84" y1="19.43" x2="541.84" y2="19.94" stroke="#000" stroke-width="1.22"/>
<line x1="543.53" y1="19.44" x2="543.53" y2="19.55" stroke="#000" stroke-width="1.29"/>
<line x1="544.57" y1="19.44" x2="544.57" y2="19.76" stroke="#000" stroke-width="1.17"/>
<line x1="545.78" y1="19.45" x2="545.78" y2="19.82" stroke="#000" stroke-width="0.79"/>
<line x1="546.63" y1="19.45" x2="546.63" y2="20.38" stroke="#000" stroke-width="0.88"/>
<line x1="548.21" y1="19.46" x2="548.21" y2="19.96" stroke="#000" stroke-width="1.00"/>
<line x1="550.28" y1="19.47" x2="550.28" y2="20.20" stroke="#000" stroke-width="1.07"/>
<line x1="552.19" y1="19.47" x2="552.19" y2="19.70" stroke="#000" stroke-width="0.83"/>
<line x1="554.13" y1="19.48" x2="554.13" y2="21.42" stroke="#000" stroke-width="0.89"/>
<line x1="555.07" y1="19.48" x2="555.07" y2="21.03" stroke="#000" stroke-width="1.27"/>
<line x1="556.01" y1="19.49" x2="556.01" y2="22.97" stroke="#000" stroke-width="1.24"/>
<line x1="557.48" y1="19.49" x2="557.48" y2="20.14" stroke="#000" stroke-width="0.81"/>
<line x1="558.20" y1="19.50" x2="558.20" y2="23.38" stroke="#000" stroke-width="0.88"/>
<line x1="559.79" y1="19.50" x2="559.79" y2="19.86" stroke="#000" stroke-width="1.20"/>
<line x1="561.21" y1="19.51" x2="561.21" y2="19.93" stroke="#000" stroke-width="0.85"/>
<line x1="562.79" y1="19.51" x2="562.79" y2="19.60" stroke="#000" stroke-width="0.88"/>
<line x1="564.13" y1="19.52" x2="564.13" y2="21.89" stroke="#000" stroke-width="1.09"/>
<line x1="565.12" y1="19.52" x2="565.12" y2="22.64" stroke="#000" stroke-width="0.86"/>
<line x1="565.76" y1="19.53" x2="565.76" y2="19.92" stroke="#000" stroke-width="1.00"/>
<line x1="566.46" y1="19.53" x2="566.46" y2="19.77" stroke="#000" stroke-width="0.95"/>
<line x1="567.78" y1="19.53" x2="567.78" y2="19.71" stroke="#000" stroke-width="0.95"/>
<line x1="569.48" y1="19.54" x2="569.48" y2="24.64" stroke="#000" stroke-width="1.11"/>
<line x1="570.92" y1="19.55" x2="570.92" y2="20.70" stroke="#000" stroke-width="0.83"/>
<line x1="571.55" y1="19.55" x2="571.55" y2="19.57" stroke="#000" stroke-width="1.25"/>
<line x1="572.98" y1="19.55" x2="572.98" y2="24.03" stroke="#000" stroke-width="0.76"/>
<line x1="574.31" y1="19.56" x2="574.31" y2="20.47" stroke="#000" stroke-width="1.15"/>
<line x1="575.25" y1="19.56" x2="575.25" y2="29.89" stroke="#000" stroke-width="0.79"/>
<line x1="576.45" y1="19.57" x2="576.45" y2="21.48" stroke="#000" stroke-width="1.25"/>
<line x1="577.86" y1="19.57" x2="577.86" y2="21.34" stroke="#000" stroke-width="1.19"/>
<line x1="579.45" y1="19.58" x2="579.45" y2="20.22" stroke="#000" stroke-width="1.13"/>
<line x1="580.99" y1="19.58" x2="580.99" y2="22.70" stroke="#000" stroke-width="0.98"/>
<line x1="582.40" y1="19.59" x2="582.40" y2="22.67" stroke="#000" stroke-width="1.07"/>
<line x1="583.61" y1="19.59" x2="583.61" y2="20.35" stroke="#000" stroke-width="1.07"/>
<line x1="584.79" y1="19.60" x2="584.79" y2="19.73" stroke="#000" stroke-width="1.10"/>
<line x1="586.36" y1="19.71" x2="586.36" y2="23.19" stroke="#000" stroke-width="1.15"/>
<line x1="587.28" y1="19.78" x2="587.28" y2="22.00" stroke="#000" stroke-width="1.07"/>
<line x1="588.25" y1="19.86" x2="588.25" y2="22.95" stroke="#000" stroke-width="0.80"/>
<line x1="589.52" y1="19.96" x2="589.52" y2="20.01" stroke="#000" stroke-width="1.08"/>
<line x1="590.51" y1="20.04" x2="590.51" y2="20.50" stroke="#000" stroke-width="1.13"/>
<line x1="591.50" y1="20.12" x2="591.50" y2="21.83" stroke="#000" stroke-width="1.26"/>
<line x1="592.25" y1="20.18" x2="592.25" y2="20.20" stroke="#000" stroke-width="0.92"/>
<line x1="593.42" y1="20.27" x2="593.42" y2="20.69" stroke="#000" stroke-width="0.84"/>
<line x1="594.81" y1="20.38" x2="594.81" y2="22.43" stroke="#000" stroke-width="0.99"/>
<line x1="596.18" y1="20.49" x2="596.18" y2="21.25" stroke="#000" stroke-width="1.12"/>
<line x1="596.86" y1="20.55" x2="596.86" y2="21.62" stroke="#000" stroke-width="1.19"/>
<line x1="598.25" y1="20.66" x2="598.25" y2="24.71" stroke="#000" stroke-width="0.96"/>
<line x1="599.30" y1="20.74" x2="599.30" y2="21.47" stroke="#000" stroke-width="0.82"/>
<line x1="600.26" y1="20.81" x2="600.26" y2="24.28" stroke="#000" stroke-width="1.22"/>
<line x1="601.43" y1="20.83" x2="601.43" y2="26.58" stroke="#000" stroke-width="0.90"/>
<line x1="602.07" y1="20.84" x2="602.07" y2="21.99" stroke="#000" stroke-width="0.90"/>
<line x1="602.76" y1="20.86" x2="602.76" y2="21.88" stroke="#000" stroke-width="1.09"/>
<line x1="603.71" y1="20.87" x2="603.71" y2="21.60" stroke="#000" stroke-width="1.21"/>
<line x1="605.12" y1="20.90" x2="605.12" y2="22.06" stroke="#000" stroke-width="0.79"/>
<line x1="605.63" y1="20.91" x2="605.63" y2="24.90" stroke="#000" stroke-width="0.77"/>
<line x1="606.77" y1="20.94" x2="606.77" y2="22.57" stroke="#000" stroke-width="0.92"/>
<line x1="607.99" y1="20.96" x2="607.99" y2="21.00" stroke="#000" stroke-width="0.82"/>
<line x1="608.88" y1="20.98" x2="608.88" y2="21.03" stroke="#000" stroke-width="1.21"/>
<line x1="609.57" y1="20.99" x2="609.57" y2="21.29" stroke="#000" stroke-width="0.78"/>
<line x1="610.62" y1="21.01" x2="610.62" y2="22.16" stroke="#000" stroke-width="1.10"/>
<line x1="611.70" y1="21.03" x2="611.70" y2="24.24" stroke="#000" stroke-width="1.28"/>
<line x1="612.79" y1="21.06" x2="612.79" y2="21.49" stroke="#000" stroke-width="1.01"/>
<line x1="613.42" y1="21.07" x2="613.42" y2="21.09" stroke="#000" stroke-width="1.01"/>
<line x1="614.54" y1="21.09" x2="614.54" y2="21.48" stroke="#000" stroke-width="0.90"/>
<line x1="615.31" y1="21.11" x2="615.31" y2="23.45" stroke="#000" stroke-width="1.04"/>
<line x1="616.33" y1="21.13" x2="616.33" y2="23.90" stroke="#000" stroke-width="0.97"/>
<line x1="617.50" y1="21.15" x2="617.50" y2="25.80" stroke="#000" stroke-width="0.80"/>
<line x1="618.80" y1="21.18" x2="618.80" y2="23.70" stroke="#000" stroke-width="0.82"/>
<line x1="619.66" y1="21.19" x2="619.66" y2="23.13" stroke="#000" stroke-width="1.25"/>
<line x1="620.45" y1="21.20" x2="620.45" y2="22.86" stroke="#000" stroke-width="1.23"/>
<line x1="621.61" y1="21.21" x2="621.61" y2="26.92" stroke="#000" stroke-width="1.01"/>
<line x1="622.63" y1="21.21" x2="622.63" y2="21.67" stroke="#000" stroke-width="1.15"/>
<line x1="623.81" y1="21.22" x2="623.81" y2="23.25" stroke="#000" stroke-width="1.14"/>
<line x1="624.44" y1="21.22" x2="624.44" y2="25.80" stroke="#000" stroke-width="1.29"/>
<line x1="625.74" y1="21.23" x2="625.74" y2="22.76" stroke="#000" stroke-width="1.18"/>
<line x1="626.46" y1="21.23" x2="626.46" y2="26.03" stroke="#000" stroke-width="1.22"/>
<line x1="627.20" y1="21.23" x2="627.20" y2="21.41" stroke="#000" stroke-width="0.99"/>
<line x1="628.12" y1="21.24" x2="628.12" y2="24.16" stroke="#000" stroke-width="1.02"/>
<line x1="628.58" y1="21.24" x2="628.58" y2="24.55" stroke="#000" stroke-width="0.79"/>
<line x1="629.70" y1="21.25" x2="629.70" y2="21.63" stroke="#000" stroke-width="0.93"/>
<line x1="630.82" y1="21.25" x2="630.82" y2="21.55" stroke="#000" stroke-width="0.83"/>
<line x1="631.69" y1="21.25" x2="631.69" y2="23.84" stroke="#000" stroke-width="1.21"/>
<line x1="632.71" y1="21.26" x2="632.71" y2="27.12" stroke="#000" stroke-width="1.02"/>
<line x1="633.95" y1="21.27" x2="633.95" y2="21.45" stroke="#000" stroke-width="0.87"/>
<line x1="634.82" y1="21.27" x2="634.82" y2="21.96" stroke="#000" stroke-width="1.15"/>
<line x1="635.78" y1="21.27" x2="635.78" y2="22.77" stroke="#000" stroke-width="1.21"/>
<line x1="636.67" y1="21.28" x2="636.67" y2="22.03" stroke="#000" stroke-width="0.96"/>
<line x1="637.80" y1="21.28" x2="637.80" y2="25.96" stroke="#000" stroke-width="0.86"/>
<line x1="638.93" y1="21.29" x2="638.93" y2="28.30" stroke="#000" stroke-width="1.04"/>
<line x1="639.83" y1="21.29" x2="639.83" y2="21.75" stroke="#000" stroke-width="1.04"/>
<line x1="640.66" y1="21.30" x2="640.66" y2="23.19" stroke="#000" stroke-width="0.77"/>
<line x1="641.87" y1="21.30" x2="641.87" y2="22.78" stroke="#000" stroke-width="0.97"/>
<line x1="642.94" y1="21.31" x2="642.94" y2="23.00" stroke="#000" stroke-width="1.02"/>
<line x1="643.91" y1="21.31" x2="643.91" y2="21.45" stroke="#000" stroke-width="1.05"/>
<line x1="644.66" y1="21.32" x2="644.66" y2="27.75" stroke="#000" stroke-width="1.26"/>
<line x1="645.28" y1="21.32" x2="645.28" y2="22.63" stroke="#000" stroke-width="0.82"/>
<line x1="646.04" y1="21.32" x2="646.04" y2="24.79" stroke="#000" stroke-width="1.25"/>
<line x1="646.83" y1="21.33" x2="646.83" y2="22.11" stroke="#000" stroke-width="0.86"/>
<line x1="647.73" y1="21.33" x2="647.73" y2="26.66" stroke="#000" stroke-width="0.82"/>
<line x1="648.75" y1="21.33" x2="648.75" y2="21.38" stroke="#000" stroke-width="0.86"/>
<line x1="649.34" y1="21.34" x2="649.34" y2="23.73" stroke="#000" stroke-width="0.93"/>
<line x1="650.02" y1="21.34" x2="650.02" y2="23.33" stroke="#000" stroke-width="0.81"/>
<line x1="650.99" y1="21.34" x2="650.99" y2="21.62" stroke="#000" stroke-width="1.03"/>
<line x1="651.59" y1="21.35" x2="651.59" y2="21.80" stroke="#000" stroke-width="1.04"/>
<line x1="652.33" y1="21.35" x2="652.33" y2="22.33" stroke="#000" stroke-width="0.98"/>
<line x1="653.13" y1="21.35" x2="653.13" y2="21.72" stroke="#000" stroke-width="0.86"/>
<line x1="654.02" y1="21.36" x2="654.02" y2="23.47" stroke="#000" stroke-width="1.04"/>
<line x1="655.07" y1="21.36" x2="655.07" y2="23.33" stroke="#000" stroke-width="1.22"/>
<line x1="655.64" y1="21.37" x2="655.64" y2="24.17" stroke="#000" stroke-width="1.20"/>
<line x1="656.73" y1="21.37" x2="656.73" y2="22.16" stroke="#000" stroke-width="0.92"/>
<line x1="657.83" y1="21.38" x2="657.83" y2="21.89" stroke="#000" stroke-width="1.30"/>
<line x1="658.89" y1="21.38" x2="658.89" y2="21.68" stroke="#000" stroke-width="0.88"/>
<line x1="659.83" y1="21.39" x2="659.83" y2="22.01" stroke="#000" stroke-width="0.80"/>
<line x1="660.84" y1="21.39" x2="660.84" y2="22.54" stroke="#000" stroke-width="1.18"/>
<line x1="661.31" y1="21.39" x2="661.31" y2="22.47" stroke="#000" stroke-width="1.13"/>
<line x1="661.71" y1="21.39" x2="661.71" y2="21.87" stroke="#000" stroke-width="1.13"/>
<line x1="662.77" y1="21.40" x2="662.77" y2="28.65" stroke="#000" stroke-width="0.81"/>
<line x1="522.00" y1="19.00" x2="522.00" y2="21.00" stroke="#000" stroke-width="0.6" />
<line x1="528.00" y1="19.00" x2="528.00" y2="21.20" stroke="#000" stroke-width="0.6" />
<line x1="533.60" y1="19.00" x2="533.60" y2="30.60" stroke="#000" stroke-width="0.9" />
<line x1="536.30" y1="19.00" x2="536.30" y2="24.20" stroke="#000" stroke-width="0.8" />
<line x1="549.40" y1="19.00" x2="549.40" y2="24.20" stroke="#000" stroke-width="0.8" />
<line x1="588.50" y1="19.00" x2="588.50" y2="31.70" stroke="#000" stroke-width="0.9" />
<line x1="660.60" y1="19.00" x2="660.60" y2="29.70" stroke="#000" stroke-width="1.0" />
<line x1="596.00" y1="19.00" x2="596.00" y2="25.00" stroke="#000" stroke-width="0.7" />
<line x1="605.00" y1="19.00" x2="605.00" y2="25.50" stroke="#000" stroke-width="0.7" />
<line x1="612.00" y1="19.00" x2="612.00" y2="25.00" stroke="#000" stroke-width="0.7" />
<line x1="618.00" y1="19.00" x2="618.00" y2="26.00" stroke="#000" stroke-width="0.7" />
<line x1="624.00" y1="19.00" x2="624.00" y2="25.50" stroke="#000" stroke-width="0.7" />
<line x1="631.00" y1="19.00" x2="631.00" y2="25.00" stroke="#000" stroke-width="0.7" />
<line x1="637.00" y1="19.00" x2="637.00" y2="26.00" stroke="#000" stroke-width="0.7" />
<line x1="643.00" y1="19.00" x2="643.00" y2="25.00" stroke="#000" stroke-width="0.7" />
<line x1="650.00" y1="19.00" x2="650.00" y2="25.50" stroke="#000" stroke-width="0.7" />
<line x1="655.00" y1="19.00" x2="655.00" y2="25.00" stroke="#000" stroke-width="0.7" />
<path d="M542.2,16.5 Q543.3,23 543.5,35.2 L544.3,35.2 Q544.4,24 545.0,19 Z" fill="#000"/>
<polygon points="541.5,14.2 542.7,14.2 543.5,20.2 542.7,20.2" fill="#fff"/>
<line x1="560.30" y1="18.00" x2="560.50" y2="65.80" stroke="#000" stroke-width="0.8" />
<polygon points="559.5,14.2 560.6,14.2 561.1,20.0 560.5,20.0" fill="#fff"/>
<polygon points="658.3,14.2 661.9,14.2 660.7,19.6 660.1,19.6" fill="#fff"/>
<polygon points="444.70,77.00 449.10,77.00 449.10,77.50 449.10,78.00 449.10,78.50 449.11,79.00 449.11,79.50 449.11,80.00 449.11,80.50 449.11,81.00 449.11,81.50 449.11,82.00 449.12,82.50 449.12,83.00 449.12,83.50 449.12,84.00 449.12,84.50 449.12,85.00 449.12,85.50 449.12,86.00 449.13,86.50 449.13,87.00 449.13,87.50 449.13,88.00 449.13,88.50 449.13,89.00 449.13,89.50 449.14,90.00 449.14,90.50 449.14,91.00 449.14,91.50 449.14,92.00 449.14,92.50 449.14,93.00 449.15,93.50 449.15,94.00 449.15,94.50 449.15,95.00 449.15,95.50 449.15,96.00 449.15,96.50 449.15,97.00 449.16,97.50 449.16,98.00 449.16,98.50 449.16,99.00 449.16,99.50 449.16,100.00 449.16,100.50 449.17,101.00 449.17,101.50 449.17,102.00 449.17,102.50 449.17,103.00 449.17,103.50 449.17,104.00 449.18,104.50 449.18,105.00 449.18,105.50 449.18,106.00 449.18,106.50 449.18,107.00 449.18,107.50 449.18,108.00 449.19,108.50 449.19,109.00 449.19,109.50 449.19,110.00 449.19,110.50 449.19,111.00 449.19,111.50 449.20,112.00 449.20,112.50 449.20,113.00 449.20,113.50 449.20,114.00 449.20,114.50 449.20,115.00 449.21,115.50 449.21,116.00 449.21,116.50 449.21,117.00 449.21,117.50 449.21,118.00 449.21,118.50 449.22,119.00 449.22,119.50 449.22,120.00 449.22,120.50 449.22,121.00 449.22,121.50 449.22,122.00 449.22,122.50 449.23,123.00 449.23,123.50 449.23,124.00 449.23,124.50 449.23,125.00 449.23,125.50 449.23,126.00 449.24,126.50 449.24,127.00 449.24,127.50 449.24,128.00 449.24,128.50 449.24,129.00 449.24,129.50 449.25,130.00 449.25,130.50 449.25,131.00 449.25,131.50 449.25,132.00 449.25,132.50 449.25,133.00 449.25,133.50 449.26,134.00 449.26,134.50 449.26,135.00 449.26,135.50 449.26,136.00 449.26,136.50 449.26,137.00 449.27,137.50 449.27,138.00 449.27,138.50 449.27,139.00 449.27,139.50 449.27,140.00 449.27,140.50 449.28,141.00 449.28,141.50 449.28,142.00 449.28,142.50 449.28,143.00 449.28,143.50 449.28,144.00 449.28,144.50 449.29,145.00 449.29,145.50 449.29,146.00 449.29,146.50 449.29,147.00 449.29,147.50 449.29,148.00 449.30,148.50 449.30,149.00 449.30,149.50 449.30,150.00 449.32,150.50 449.35,151.00 449.38,151.50 449.40,152.00 449.43,152.50 449.45,153.00 449.47,153.50 449.50,154.00 449.52,154.50 449.55,155.00 449.57,155.50 449.60,156.00 449.62,156.50 449.65,157.00 449.68,157.50 449.70,158.00 449.72,158.50 449.75,159.00 449.77,159.50 449.80,160.00 449.82,160.50 449.85,161.00 449.88,161.50 449.90,162.00 449.93,162.50 449.95,163.00 449.97,163.50 450.00,164.00 450.02,164.50 450.05,165.00 450.07,165.50 450.10,166.00 450.12,166.50 450.15,167.00 450.18,167.50 450.20,168.00 450.22,168.50 450.25,169.00 450.27,169.50 450.30,170.00 450.31,170.50 450.31,171.00 450.32,171.50 450.33,172.00 450.33,172.50 450.34,173.00 450.35,173.50 450.35,174.00 450.36,174.50 450.37,175.00 450.37,175.50 450.38,176.00 450.39,176.50 450.40,177.00 450.40,177.50 450.41,178.00 450.42,178.50 450.42,179.00 450.43,179.50 450.44,180.00 450.44,180.50 450.45,181.00 450.46,181.50 450.46,182.00 450.47,182.50 450.48,183.00 450.48,183.50 450.49,184.00 450.50,184.50 450.50,185.00 450.51,185.50 450.52,186.00 450.52,186.50 450.53,187.00 450.54,187.50 450.54,188.00 450.55,188.50 450.56,189.00 450.56,189.50 450.57,190.00 450.58,190.50 450.59,191.00 450.59,191.50 450.60,192.00 450.61,192.50 450.61,193.00 450.62,193.50 450.63,194.00 450.63,194.50 450.64,195.00 450.65,195.50 450.65,196.00 450.66,196.50 450.67,197.00 450.67,197.50 450.68,198.00 450.69,198.50 450.69,199.00 450.70,199.50 450.71,200.00 450.71,200.50 450.72,201.00 450.73,201.50 450.73,202.00 450.74,202.50 450.75,203.00 450.76,203.50 450.76,204.00 450.77,204.50 450.78,205.00 450.78,205.50 450.79,206.00 450.80,206.50 450.80,207.00 450.81,207.50 450.82,208.00 450.82,208.50 450.83,209.00 450.84,209.50 450.84,210.00 450.85,210.50 450.86,211.00 450.86,211.50 450.87,212.00 450.88,212.50 450.88,213.00 450.89,213.50 450.90,214.00 450.90,214.50 450.91,215.00 450.92,215.50 450.93,216.00 450.93,216.50 450.94,217.00 450.95,217.50 450.95,218.00 450.96,218.50 450.97,219.00 450.97,219.50 450.98,220.00 450.99,220.50 450.99,221.00 451.00,221.50 451.01,222.00 451.01,222.50 451.02,223.00 451.03,223.50 451.03,224.00 451.04,224.50 451.05,225.00 451.05,225.50 451.06,226.00 451.07,226.50 451.07,227.00 451.08,227.50 451.09,228.00 451.09,228.50 451.10,229.00 451.11,229.50 451.12,230.00 451.12,230.50 451.13,231.00 451.14,231.50 451.14,232.00 451.15,232.50 451.16,233.00 451.16,233.50 451.17,234.00 451.18,234.50 451.18,235.00 451.19,235.50 451.20,236.00 451.20,236.50 451.21,237.00 451.22,237.50 451.22,238.00 451.23,238.50 451.24,239.00 451.24,239.50 451.25,240.00 451.26,240.50 451.26,241.00 451.27,241.50 451.28,242.00 451.29,242.50 451.29,243.00 451.30,243.50 444.70,243.60" fill="#000"/>
<line x1="448.80" y1="77.92" x2="449.41" y2="77.92" stroke="#000" stroke-width="1.24"/>
<line x1="448.81" y1="79.09" x2="448.99" y2="79.09" stroke="#000" stroke-width="0.98"/>
<line x1="448.81" y1="81.12" x2="448.84" y2="81.12" stroke="#000" stroke-width="0.86"/>
<line x1="448.82" y1="82.96" x2="448.87" y2="82.96" stroke="#000" stroke-width="1.00"/>
<line x1="448.82" y1="83.97" x2="448.84" y2="83.97" stroke="#000" stroke-width="1.14"/>
<line x1="448.82" y1="85.74" x2="448.99" y2="85.74" stroke="#000" stroke-width="1.15"/>
<line x1="448.83" y1="87.36" x2="448.84" y2="87.36" stroke="#000" stroke-width="1.18"/>
<line x1="448.83" y1="89.41" x2="449.11" y2="89.41" stroke="#000" stroke-width="1.09"/>
<line x1="448.84" y1="92.13" x2="448.96" y2="92.13" stroke="#000" stroke-width="1.17"/>
<line x1="448.85" y1="93.70" x2="449.08" y2="93.70" stroke="#000" stroke-width="1.11"/>
<line x1="448.85" y1="95.17" x2="448.87" y2="95.17" stroke="#000" stroke-width="1.01"/>
<line x1="448.86" y1="97.34" x2="449.11" y2="97.34" stroke="#000" stroke-width="1.00"/>
<line x1="448.86" y1="99.34" x2="448.92" y2="99.34" stroke="#000" stroke-width="0.85"/>
<line x1="448.87" y1="100.76" x2="449.38" y2="100.76" stroke="#000" stroke-width="0.86"/>
<line x1="448.87" y1="101.81" x2="448.90" y2="101.81" stroke="#000" stroke-width="0.77"/>
<line x1="448.87" y1="103.13" x2="449.13" y2="103.13" stroke="#000" stroke-width="1.20"/>
<line x1="448.88" y1="104.53" x2="449.02" y2="104.53" stroke="#000" stroke-width="0.91"/>
<line x1="448.88" y1="105.87" x2="449.35" y2="105.87" stroke="#000" stroke-width="1.05"/>
<line x1="448.88" y1="107.12" x2="448.92" y2="107.12" stroke="#000" stroke-width="1.18"/>
<line x1="448.89" y1="109.10" x2="449.46" y2="109.10" stroke="#000" stroke-width="0.88"/>
<line x1="448.89" y1="110.78" x2="449.71" y2="110.78" stroke="#000" stroke-width="1.08"/>
<line x1="448.90" y1="113.08" x2="448.96" y2="113.08" stroke="#000" stroke-width="1.29"/>
<line x1="448.90" y1="113.95" x2="449.08" y2="113.95" stroke="#000" stroke-width="0.76"/>
<line x1="448.91" y1="115.99" x2="449.30" y2="115.99" stroke="#000" stroke-width="1.29"/>
<line x1="448.91" y1="117.98" x2="449.94" y2="117.98" stroke="#000" stroke-width="1.05"/>
<line x1="448.92" y1="120.22" x2="449.40" y2="120.22" stroke="#000" stroke-width="0.94"/>
<line x1="448.92" y1="122.41" x2="449.09" y2="122.41" stroke="#000" stroke-width="0.86"/>
<line x1="448.93" y1="123.25" x2="449.15" y2="123.25" stroke="#000" stroke-width="0.86"/>
<line x1="448.93" y1="125.32" x2="450.02" y2="125.32" stroke="#000" stroke-width="0.87"/>
<line x1="448.93" y1="126.18" x2="449.21" y2="126.18" stroke="#000" stroke-width="0.84"/>
<line x1="448.94" y1="127.65" x2="449.56" y2="127.65" stroke="#000" stroke-width="0.89"/>
<line x1="448.94" y1="128.93" x2="449.80" y2="128.93" stroke="#000" stroke-width="0.99"/>
<line x1="448.95" y1="130.10" x2="449.78" y2="130.10" stroke="#000" stroke-width="1.20"/>
<line x1="448.95" y1="132.00" x2="449.39" y2="132.00" stroke="#000" stroke-width="0.98"/>
<line x1="448.96" y1="133.60" x2="449.64" y2="133.60" stroke="#000" stroke-width="1.10"/>
<line x1="448.96" y1="134.58" x2="449.09" y2="134.58" stroke="#000" stroke-width="0.98"/>
<line x1="448.96" y1="136.25" x2="449.28" y2="136.25" stroke="#000" stroke-width="1.05"/>
<line x1="448.97" y1="137.97" x2="449.01" y2="137.97" stroke="#000" stroke-width="1.10"/>
<line x1="448.97" y1="139.03" x2="449.30" y2="139.03" stroke="#000" stroke-width="1.21"/>
<line x1="448.97" y1="139.97" x2="450.18" y2="139.97" stroke="#000" stroke-width="0.79"/>
<line x1="448.98" y1="141.30" x2="449.35" y2="141.30" stroke="#000" stroke-width="0.88"/>
<line x1="448.98" y1="142.61" x2="449.33" y2="142.61" stroke="#000" stroke-width="1.00"/>
<line x1="448.98" y1="144.10" x2="448.99" y2="144.10" stroke="#000" stroke-width="0.96"/>
<line x1="448.99" y1="145.64" x2="449.10" y2="145.64" stroke="#000" stroke-width="1.23"/>
<line x1="448.99" y1="146.47" x2="449.89" y2="146.47" stroke="#000" stroke-width="0.85"/>
<line x1="448.99" y1="147.59" x2="449.46" y2="147.59" stroke="#000" stroke-width="0.79"/>
<line x1="449.00" y1="148.98" x2="449.61" y2="148.98" stroke="#000" stroke-width="1.13"/>
<line x1="449.01" y1="150.17" x2="449.82" y2="150.17" stroke="#000" stroke-width="1.04"/>
<line x1="449.05" y1="151.08" x2="451.40" y2="151.08" stroke="#000" stroke-width="0.80"/>
<line x1="449.13" y1="152.62" x2="451.25" y2="152.62" stroke="#000" stroke-width="1.02"/>
<line x1="449.20" y1="154.03" x2="450.43" y2="154.03" stroke="#000" stroke-width="1.08"/>
<line x1="449.24" y1="154.89" x2="449.67" y2="154.89" stroke="#000" stroke-width="0.94"/>
<line x1="449.29" y1="155.75" x2="452.94" y2="155.75" stroke="#000" stroke-width="0.94"/>
<line x1="449.33" y1="156.70" x2="449.97" y2="156.70" stroke="#000" stroke-width="1.20"/>
<line x1="449.39" y1="157.73" x2="450.34" y2="157.73" stroke="#000" stroke-width="0.89"/>
<line x1="449.43" y1="158.54" x2="449.54" y2="158.54" stroke="#000" stroke-width="0.87"/>
<line x1="449.47" y1="159.33" x2="451.81" y2="159.33" stroke="#000" stroke-width="1.03"/>
<line x1="449.50" y1="159.95" x2="450.27" y2="159.95" stroke="#000" stroke-width="0.82"/>
<line x1="449.55" y1="161.04" x2="450.29" y2="161.04" stroke="#000" stroke-width="1.22"/>
<line x1="449.59" y1="161.80" x2="452.03" y2="161.80" stroke="#000" stroke-width="0.89"/>
<line x1="449.66" y1="163.28" x2="450.99" y2="163.28" stroke="#000" stroke-width="0.77"/>
<line x1="449.73" y1="164.56" x2="450.16" y2="164.56" stroke="#000" stroke-width="0.95"/>
<line x1="449.76" y1="165.18" x2="452.24" y2="165.18" stroke="#000" stroke-width="0.80"/>
<line x1="449.82" y1="166.36" x2="450.52" y2="166.36" stroke="#000" stroke-width="1.12"/>
<line x1="449.86" y1="167.11" x2="449.97" y2="167.11" stroke="#000" stroke-width="1.25"/>
<line x1="449.91" y1="168.19" x2="450.18" y2="168.19" stroke="#000" stroke-width="1.29"/>
<line x1="449.97" y1="169.49" x2="450.27" y2="169.49" stroke="#000" stroke-width="0.76"/>
<line x1="450.01" y1="170.50" x2="450.23" y2="170.50" stroke="#000" stroke-width="1.15"/>
<line x1="450.02" y1="171.37" x2="451.89" y2="171.37" stroke="#000" stroke-width="1.06"/>
<line x1="450.03" y1="172.51" x2="452.69" y2="172.51" stroke="#000" stroke-width="1.08"/>
<line x1="450.05" y1="173.48" x2="450.67" y2="173.48" stroke="#000" stroke-width="0.82"/>
<line x1="450.05" y1="174.01" x2="453.12" y2="174.01" stroke="#000" stroke-width="0.86"/>
<line x1="450.07" y1="174.83" x2="450.67" y2="174.83" stroke="#000" stroke-width="1.09"/>
<line x1="450.08" y1="175.75" x2="453.22" y2="175.75" stroke="#000" stroke-width="0.99"/>
<line x1="450.09" y1="176.51" x2="451.78" y2="176.51" stroke="#000" stroke-width="1.16"/>
<line x1="450.11" y1="177.77" x2="450.71" y2="177.77" stroke="#000" stroke-width="1.24"/>
<line x1="450.12" y1="179.07" x2="456.63" y2="179.07" stroke="#000" stroke-width="0.82"/>
<line x1="450.13" y1="179.84" x2="452.53" y2="179.84" stroke="#000" stroke-width="1.21"/>
<line x1="450.14" y1="180.31" x2="450.95" y2="180.31" stroke="#000" stroke-width="1.15"/>
<line x1="450.16" y1="181.41" x2="451.39" y2="181.41" stroke="#000" stroke-width="0.87"/>
<line x1="450.17" y1="182.20" x2="450.26" y2="182.20" stroke="#000" stroke-width="0.92"/>
<line x1="450.18" y1="183.00" x2="452.99" y2="183.00" stroke="#000" stroke-width="1.07"/>
<line x1="450.19" y1="183.79" x2="450.65" y2="183.79" stroke="#000" stroke-width="0.92"/>
<line x1="450.20" y1="184.80" x2="451.16" y2="184.80" stroke="#000" stroke-width="0.85"/>
<line x1="450.22" y1="185.94" x2="451.62" y2="185.94" stroke="#000" stroke-width="1.28"/>
<line x1="450.23" y1="186.83" x2="451.82" y2="186.83" stroke="#000" stroke-width="0.99"/>
<line x1="450.24" y1="187.77" x2="454.35" y2="187.77" stroke="#000" stroke-width="1.29"/>
<line x1="450.25" y1="188.76" x2="451.18" y2="188.76" stroke="#000" stroke-width="0.78"/>
<line x1="450.27" y1="189.90" x2="451.09" y2="189.90" stroke="#000" stroke-width="0.96"/>
<line x1="450.28" y1="190.37" x2="450.33" y2="190.37" stroke="#000" stroke-width="0.96"/>
<line x1="450.29" y1="191.62" x2="452.52" y2="191.62" stroke="#000" stroke-width="1.14"/>
<line x1="450.31" y1="192.60" x2="450.83" y2="192.60" stroke="#000" stroke-width="0.84"/>
<line x1="450.32" y1="193.52" x2="450.43" y2="193.52" stroke="#000" stroke-width="1.07"/>
<line x1="450.33" y1="194.37" x2="451.63" y2="194.37" stroke="#000" stroke-width="0.82"/>
<line x1="450.34" y1="194.85" x2="451.40" y2="194.85" stroke="#000" stroke-width="0.83"/>
<line x1="450.35" y1="195.80" x2="450.97" y2="195.80" stroke="#000" stroke-width="1.09"/>
<line x1="450.36" y1="196.83" x2="451.92" y2="196.83" stroke="#000" stroke-width="1.04"/>
<line x1="450.37" y1="197.41" x2="451.08" y2="197.41" stroke="#000" stroke-width="1.29"/>
<line x1="450.38" y1="198.04" x2="450.94" y2="198.04" stroke="#000" stroke-width="1.02"/>
<line x1="450.39" y1="198.91" x2="453.00" y2="198.91" stroke="#000" stroke-width="0.91"/>
<line x1="450.41" y1="200.11" x2="450.45" y2="200.11" stroke="#000" stroke-width="1.18"/>
<line x1="450.42" y1="200.98" x2="454.30" y2="200.98" stroke="#000" stroke-width="0.83"/>
<line x1="450.43" y1="201.95" x2="455.37" y2="201.95" stroke="#000" stroke-width="1.12"/>
<line x1="450.44" y1="202.45" x2="454.70" y2="202.45" stroke="#000" stroke-width="1.28"/>
<line x1="450.45" y1="202.95" x2="453.40" y2="202.95" stroke="#000" stroke-width="0.79"/>
<line x1="450.45" y1="203.42" x2="453.12" y2="203.42" stroke="#000" stroke-width="1.15"/>
<line x1="450.47" y1="204.60" x2="452.16" y2="204.60" stroke="#000" stroke-width="1.03"/>
<line x1="450.48" y1="205.22" x2="451.91" y2="205.22" stroke="#000" stroke-width="1.30"/>
<line x1="450.49" y1="206.14" x2="454.01" y2="206.14" stroke="#000" stroke-width="0.86"/>
<line x1="450.50" y1="207.13" x2="452.73" y2="207.13" stroke="#000" stroke-width="0.79"/>
<line x1="450.52" y1="208.19" x2="450.85" y2="208.19" stroke="#000" stroke-width="0.87"/>
<line x1="450.52" y1="208.63" x2="452.37" y2="208.63" stroke="#000" stroke-width="0.83"/>
<line x1="450.54" y1="209.81" x2="450.54" y2="209.81" stroke="#000" stroke-width="1.20"/>
<line x1="450.55" y1="210.80" x2="451.99" y2="210.80" stroke="#000" stroke-width="1.06"/>
<line x1="450.57" y1="211.83" x2="452.30" y2="211.83" stroke="#000" stroke-width="0.83"/>
<line x1="450.58" y1="212.85" x2="451.33" y2="212.85" stroke="#000" stroke-width="1.07"/>
<line x1="450.59" y1="213.64" x2="454.61" y2="213.64" stroke="#000" stroke-width="0.98"/>
<line x1="450.61" y1="214.70" x2="450.75" y2="214.70" stroke="#000" stroke-width="0.93"/>
<line x1="450.62" y1="215.61" x2="452.25" y2="215.61" stroke="#000" stroke-width="1.21"/>
<line x1="450.63" y1="216.16" x2="453.43" y2="216.16" stroke="#000" stroke-width="1.19"/>
<line x1="450.63" y1="216.66" x2="450.89" y2="216.66" stroke="#000" stroke-width="1.07"/>
<line x1="450.65" y1="217.80" x2="452.29" y2="217.80" stroke="#000" stroke-width="0.99"/>
<line x1="450.66" y1="218.57" x2="453.52" y2="218.57" stroke="#000" stroke-width="1.04"/>
<line x1="450.67" y1="219.37" x2="452.23" y2="219.37" stroke="#000" stroke-width="1.26"/>
<line x1="450.68" y1="220.37" x2="453.85" y2="220.37" stroke="#000" stroke-width="0.90"/>
<line x1="450.70" y1="221.21" x2="453.70" y2="221.21" stroke="#000" stroke-width="1.14"/>
<line x1="450.71" y1="222.31" x2="455.00" y2="222.31" stroke="#000" stroke-width="0.82"/>
<line x1="450.72" y1="223.07" x2="451.49" y2="223.07" stroke="#000" stroke-width="0.86"/>
<line x1="450.73" y1="223.83" x2="457.89" y2="223.83" stroke="#000" stroke-width="1.17"/>
<line x1="450.74" y1="224.28" x2="451.23" y2="224.28" stroke="#000" stroke-width="0.95"/>
<line x1="450.75" y1="225.32" x2="451.83" y2="225.32" stroke="#000" stroke-width="0.84"/>
<line x1="450.76" y1="226.11" x2="451.26" y2="226.11" stroke="#000" stroke-width="0.77"/>
<line x1="450.77" y1="226.93" x2="459.00" y2="226.93" stroke="#000" stroke-width="1.18"/>
<line x1="450.79" y1="227.85" x2="451.08" y2="227.85" stroke="#000" stroke-width="1.06"/>
<line x1="450.80" y1="228.69" x2="453.30" y2="228.69" stroke="#000" stroke-width="1.00"/>
<line x1="450.80" y1="229.10" x2="455.42" y2="229.10" stroke="#000" stroke-width="0.90"/>
<line x1="450.82" y1="230.02" x2="451.91" y2="230.02" stroke="#000" stroke-width="1.18"/>
<line x1="450.82" y1="230.64" x2="450.99" y2="230.64" stroke="#000" stroke-width="0.99"/>
<line x1="450.83" y1="231.36" x2="453.61" y2="231.36" stroke="#000" stroke-width="0.97"/>
<line x1="450.85" y1="232.21" x2="451.68" y2="232.21" stroke="#000" stroke-width="1.15"/>
<line x1="450.85" y1="232.71" x2="454.60" y2="232.71" stroke="#000" stroke-width="1.27"/>
<line x1="450.86" y1="233.09" x2="454.32" y2="233.09" stroke="#000" stroke-width="1.18"/>
<line x1="450.87" y1="233.96" x2="451.07" y2="233.96" stroke="#000" stroke-width="1.15"/>
<line x1="450.88" y1="234.88" x2="452.63" y2="234.88" stroke="#000" stroke-width="1.28"/>
<line x1="450.90" y1="235.93" x2="452.68" y2="235.93" stroke="#000" stroke-width="1.26"/>
<line x1="450.90" y1="236.39" x2="451.53" y2="236.39" stroke="#000" stroke-width="1.04"/>
<line x1="450.91" y1="237.13" x2="456.35" y2="237.13" stroke="#000" stroke-width="1.10"/>
<line x1="450.92" y1="237.93" x2="452.65" y2="237.93" stroke="#000" stroke-width="1.27"/>
<line x1="450.93" y1="238.58" x2="453.33" y2="238.58" stroke="#000" stroke-width="1.08"/>
<line x1="450.94" y1="239.22" x2="451.68" y2="239.22" stroke="#000" stroke-width="0.83"/>
<line x1="450.95" y1="239.58" x2="451.68" y2="239.58" stroke="#000" stroke-width="0.92"/>
<line x1="450.95" y1="240.00" x2="452.14" y2="240.00" stroke="#000" stroke-width="0.94"/>
<line x1="450.96" y1="241.01" x2="453.68" y2="241.01" stroke="#000" stroke-width="1.12"/>
<line x1="450.98" y1="241.96" x2="451.55" y2="241.96" stroke="#000" stroke-width="0.81"/>
<line x1="450.99" y1="242.74" x2="451.45" y2="242.74" stroke="#000" stroke-width="1.29"/>
<line x1="451.00" y1="243.39" x2="454.91" y2="243.39" stroke="#000" stroke-width="0.89"/>
<line x1="448.50" y1="103.40" x2="450.50" y2="103.40" stroke="#000" stroke-width="0.6" />
<line x1="448.50" y1="108.40" x2="451.00" y2="108.40" stroke="#000" stroke-width="0.6" />
<line x1="448.50" y1="114.30" x2="457.80" y2="114.30" stroke="#000" stroke-width="0.7" />
<line x1="448.50" y1="117.30" x2="452.60" y2="117.30" stroke="#000" stroke-width="0.7" />
<line x1="448.50" y1="130.70" x2="453.00" y2="130.70" stroke="#000" stroke-width="0.7" />
<line x1="448.50" y1="139.40" x2="452.60" y2="139.40" stroke="#000" stroke-width="0.7" />
<line x1="448.50" y1="150.30" x2="452.00" y2="150.30" stroke="#000" stroke-width="0.6" />
<line x1="448.50" y1="169.30" x2="459.20" y2="169.30" stroke="#000" stroke-width="0.7" />
<line x1="448.50" y1="241.70" x2="457.00" y2="241.70" stroke="#000" stroke-width="0.9" />
<line x1="448.50" y1="180.00" x2="453.50" y2="180.00" stroke="#000" stroke-width="0.6" />
<line x1="448.50" y1="190.00" x2="454.00" y2="190.00" stroke="#000" stroke-width="0.6" />
<line x1="448.50" y1="198.00" x2="453.00" y2="198.00" stroke="#000" stroke-width="0.6" />
<line x1="448.50" y1="205.00" x2="454.50" y2="205.00" stroke="#000" stroke-width="0.6" />
<line x1="448.50" y1="213.00" x2="453.50" y2="213.00" stroke="#000" stroke-width="0.6" />
<line x1="448.50" y1="222.00" x2="454.00" y2="222.00" stroke="#000" stroke-width="0.6" />
<line x1="448.50" y1="230.00" x2="453.00" y2="230.00" stroke="#000" stroke-width="0.6" />
<path d="M448,122.8 Q452,124 461.6,124.6 L461.6,125.2 Q452,125.6 448,125.6 Z" fill="#000"/>
<rect x="444.40" y="123.20" width="3.00" height="1.00" fill="#fff" />
<line x1="448.00" y1="141.60" x2="485.40" y2="141.60" stroke="#000" stroke-width="0.7" />
<ellipse cx="480.5" cy="141.7" rx="5" ry="0.75" fill="#000"/>
<rect x="444.40" y="140.60" width="3.20" height="0.80" fill="#fff" />
<line x1="59.60" y1="250.00" x2="59.60" y2="323.00" stroke="#555" stroke-width="0.9" />
<line x1="56.00" y1="258.20" x2="59.60" y2="258.20" stroke="#555" stroke-width="0.9" />
<line x1="56.00" y1="269.00" x2="59.60" y2="269.00" stroke="#555" stroke-width="0.9" />
<line x1="56.00" y1="279.80" x2="59.60" y2="279.80" stroke="#555" stroke-width="0.9" />
<line x1="56.00" y1="290.60" x2="59.60" y2="290.60" stroke="#555" stroke-width="0.9" />
<line x1="56.00" y1="301.40" x2="59.60" y2="301.40" stroke="#555" stroke-width="0.9" />
<line x1="56.00" y1="312.20" x2="59.60" y2="312.20" stroke="#555" stroke-width="0.9" />
<line x1="56.00" y1="323.00" x2="59.60" y2="323.00" stroke="#555" stroke-width="0.9" />
<text transform="translate(53.60,257.70) rotate(-90)" font-size="8.6" text-anchor="middle" fill="#222" >1.4</text>
<text transform="translate(53.60,279.30) rotate(-90)" font-size="8.6" text-anchor="middle" fill="#222" >1.0</text>
<text transform="translate(53.60,300.90) rotate(-90)" font-size="8.6" text-anchor="middle" fill="#222" >0.6</text>
<text transform="translate(53.60,322.50) rotate(-90)" font-size="8.6" text-anchor="middle" fill="#222" >0.2</text>
<line x1="68.60" y1="311.30" x2="113.60" y2="311.30" stroke="#7a7a7a" stroke-width="0.9" />
<line x1="68.60" y1="311.30" x2="68.60" y2="318.60" stroke="#7a7a7a" stroke-width="0.9" />
<line x1="113.60" y1="311.30" x2="113.60" y2="319.20" stroke="#7a7a7a" stroke-width="0.9" />
<line x1="91.20" y1="311.30" x2="91.20" y2="253.90" stroke="#7a7a7a" stroke-width="0.9" />
<line x1="91.20" y1="253.90" x2="198.30" y2="253.90" stroke="#7a7a7a" stroke-width="0.9" />
<line x1="198.30" y1="253.90" x2="198.30" y2="283.30" stroke="#7a7a7a" stroke-width="0.9" />
<line x1="158.40" y1="283.30" x2="237.60" y2="283.30" stroke="#7a7a7a" stroke-width="0.9" />
<line x1="158.40" y1="283.30" x2="158.40" y2="291.60" stroke="#7a7a7a" stroke-width="0.9" />
<line x1="237.60" y1="283.30" x2="237.60" y2="306.60" stroke="#7a7a7a" stroke-width="0.9" />
<line x1="203.40" y1="306.60" x2="271.40" y2="306.60" stroke="#7a7a7a" stroke-width="0.9" />
<line x1="203.40" y1="306.60" x2="203.40" y2="314.20" stroke="#7a7a7a" stroke-width="0.9" />
<line x1="271.40" y1="306.60" x2="271.40" y2="320.10" stroke="#7a7a7a" stroke-width="0.9" />
<line x1="248.40" y1="320.10" x2="293.60" y2="320.10" stroke="#7a7a7a" stroke-width="0.9" />
<line x1="248.40" y1="320.10" x2="248.40" y2="326.50" stroke="#7a7a7a" stroke-width="0.9" />
<line x1="293.60" y1="320.10" x2="293.60" y2="326.50" stroke="#7a7a7a" stroke-width="0.9" />
<text transform="translate(72.00,320.80) rotate(-90)" font-size="8.6" text-anchor="end" fill="#222" >MEblue</text>
<text transform="translate(116.40,320.20) rotate(-90)" font-size="8.6" text-anchor="end" fill="#222" >MEbrown</text>
<text transform="translate(162.30,292.60) rotate(-90)" font-size="8.6" text-anchor="end" fill="#222" >MEgreen</text>
<text transform="translate(207.80,315.00) rotate(-90)" font-size="8.6" text-anchor="end" fill="#222" >MEred</text>
<text transform="translate(252.20,328.40) rotate(-90)" font-size="8.6" text-anchor="end" fill="#222" >turquoise</text>
<text transform="translate(242.00,362.80) rotate(-90)" font-size="8.6" text-anchor="start" fill="#222" >ME</text>
<text transform="translate(297.30,327.80) rotate(-90)" font-size="8.6" text-anchor="end" fill="#222" >MEyellow</text>
<rect x="59.60" y="364.20" width="40.43" height="15.70" fill="#ff3814" />
<rect x="99.98" y="364.20" width="40.43" height="15.70" fill="#3d9dff" />
<rect x="140.36" y="364.20" width="40.43" height="15.70" fill="#ff8468" />
<rect x="180.74" y="364.20" width="40.43" height="15.70" fill="#3d9dff" />
<rect x="221.12" y="364.20" width="40.43" height="15.70" fill="#66b2ff" />
<rect x="261.50" y="364.20" width="40.43" height="15.70" fill="#b5daff" />
<rect x="59.60" y="379.85" width="40.43" height="15.70" fill="#3d9dff" />
<rect x="99.98" y="379.85" width="40.43" height="15.70" fill="#ff3410" />
<rect x="140.36" y="379.85" width="40.43" height="15.70" fill="#9dceff" />
<rect x="180.74" y="379.85" width="40.43" height="15.70" fill="#ff5c3c" />
<rect x="221.12" y="379.85" width="40.43" height="15.70" fill="#ffa99a" />
<rect x="261.50" y="379.85" width="40.43" height="15.70" fill="#ffc3b7" />
<rect x="59.60" y="395.50" width="40.43" height="15.70" fill="#ff8468" />
<rect x="99.98" y="395.50" width="40.43" height="15.70" fill="#a3d1ff" />
<rect x="140.36" y="395.50" width="40.43" height="15.70" fill="#ff3410" />
<rect x="180.74" y="395.50" width="40.43" height="15.70" fill="#92c8ff" />
<rect x="221.12" y="395.50" width="40.43" height="15.70" fill="#9bcdff" />
<rect x="261.50" y="395.50" width="40.43" height="15.70" fill="#e1f0ff" />
<rect x="59.60" y="411.15" width="40.43" height="15.70" fill="#3d9dff" />
<rect x="99.98" y="411.15" width="40.43" height="15.70" fill="#ff5c3c" />
<rect x="140.36" y="411.15" width="40.43" height="15.70" fill="#92c8ff" />
<rect x="180.74" y="411.15" width="40.43" height="15.70" fill="#ff3410" />
<rect x="221.12" y="411.15" width="40.43" height="15.70" fill="#ff8468" />
<rect x="261.50" y="411.15" width="40.43" height="15.70" fill="#f4f9ff" />
<rect x="59.60" y="426.80" width="40.43" height="15.70" fill="#66b2ff" />
<rect x="99.98" y="426.80" width="40.43" height="15.70" fill="#ffb0a2" />
<rect x="140.36" y="426.80" width="40.43" height="15.70" fill="#9bcdff" />
<rect x="180.74" y="426.80" width="40.43" height="15.70" fill="#ff8468" />
<rect x="221.12" y="426.80" width="40.43" height="15.70" fill="#ff3410" />
<rect x="261.50" y="426.80" width="40.43" height="15.70" fill="#f4f9ff" />
<rect x="59.60" y="442.45" width="40.43" height="15.70" fill="#b5daff" />
<rect x="99.98" y="442.45" width="40.43" height="15.70" fill="#ffc3b7" />
<rect x="140.36" y="442.45" width="40.43" height="15.70" fill="#e1f0ff" />
<rect x="180.74" y="442.45" width="40.43" height="15.70" fill="#f4f9ff" />
<rect x="221.12" y="442.45" width="40.43" height="15.70" fill="#f4f9ff" />
<rect x="261.50" y="442.45" width="40.43" height="15.70" fill="#ff3410" />
<rect x="59.30" y="363.90" width="242.88" height="94.50" fill="none" stroke="#c8c8c8" stroke-width="0.8"/>
<rect x="47.10" y="363.90" width="10.80" height="15.70" fill="#0000ff" />
<rect x="47.10" y="379.85" width="10.80" height="15.70" fill="#a52a2a" />
<rect x="47.10" y="395.50" width="10.80" height="15.70" fill="#00ff00" />
<rect x="47.10" y="411.15" width="10.80" height="15.70" fill="#ff0000" />
<rect x="47.10" y="426.80" width="10.80" height="15.70" fill="#40e0d0" />
<rect x="47.10" y="442.45" width="10.80" height="15.70" fill="#ffff00" />
<rect x="59.60" y="459.70" width="40.43" height="11.40" fill="#0000ff" />
<rect x="99.98" y="459.70" width="40.43" height="11.40" fill="#a52a2a" />
<rect x="140.36" y="459.70" width="40.43" height="11.40" fill="#00ff00" />
<rect x="180.74" y="459.70" width="40.43" height="11.40" fill="#ff0000" />
<rect x="221.12" y="459.70" width="40.43" height="11.40" fill="#40e0d0" />
<rect x="261.50" y="459.70" width="40.43" height="11.40" fill="#ffff00" />
<defs><linearGradient id="bwr" x1="0" y1="1" x2="0" y2="0"><stop offset="0" stop-color="#0d8cff"/><stop offset="0.5" stop-color="#ffffff"/><stop offset="1" stop-color="#ff331a"/></linearGradient></defs>
<rect x="305.3" y="367.4" width="6.2" height="87.8" fill="url(#bwr)" stroke="#555" stroke-width="0.6"/>
<line x1="311.50" y1="367.80" x2="314.00" y2="367.80" stroke="#555" stroke-width="0.6" />
<text x="315.30" y="370.80" font-size="8.6" text-anchor="start" fill="#222" >1.0</text>
<line x1="311.50" y1="385.15" x2="314.00" y2="385.15" stroke="#555" stroke-width="0.6" />
<text x="315.30" y="388.15" font-size="8.6" text-anchor="start" fill="#222" >0.8</text>
<line x1="311.50" y1="402.50" x2="314.00" y2="402.50" stroke="#555" stroke-width="0.6" />
<text x="315.30" y="405.50" font-size="8.6" text-anchor="start" fill="#222" >0.6</text>
<line x1="311.50" y1="419.85" x2="314.00" y2="419.85" stroke="#555" stroke-width="0.6" />
<text x="315.30" y="422.85" font-size="8.6" text-anchor="start" fill="#222" >0.4</text>
<line x1="311.50" y1="437.20" x2="314.00" y2="437.20" stroke="#555" stroke-width="0.6" />
<text x="315.30" y="440.20" font-size="8.6" text-anchor="start" fill="#222" >0.2</text>
<line x1="311.50" y1="454.55" x2="314.00" y2="454.55" stroke="#555" stroke-width="0.6" />
<text x="315.30" y="457.55" font-size="8.6" text-anchor="start" fill="#222" >0</text>
<line x1="413.20" y1="269.70" x2="413.20" y2="414.48" stroke="#555" stroke-width="0.9" />
<line x1="409.00" y1="269.70" x2="413.20" y2="269.70" stroke="#555" stroke-width="0.9" />
<line x1="409.00" y1="293.83" x2="413.20" y2="293.83" stroke="#555" stroke-width="0.9" />
<line x1="409.00" y1="317.96" x2="413.20" y2="317.96" stroke="#555" stroke-width="0.9" />
<line x1="409.00" y1="342.09" x2="413.20" y2="342.09" stroke="#555" stroke-width="0.9" />
<line x1="409.00" y1="366.22" x2="413.20" y2="366.22" stroke="#555" stroke-width="0.9" />
<line x1="409.00" y1="390.35" x2="413.20" y2="390.35" stroke="#555" stroke-width="0.9" />
<line x1="409.00" y1="414.48" x2="413.20" y2="414.48" stroke="#555" stroke-width="0.9" />
<text transform="translate(403.80,270.50) rotate(-90)" font-size="8.8" text-anchor="middle" fill="#222" >1.0</text>
<text transform="translate(403.80,318.76) rotate(-90)" font-size="8.8" text-anchor="middle" fill="#222" >0.8</text>
<text transform="translate(403.80,367.02) rotate(-90)" font-size="8.8" text-anchor="middle" fill="#222" >0.6</text>
<text transform="translate(403.80,415.28) rotate(-90)" font-size="8.8" text-anchor="middle" fill="#222" >0.4</text>
<text transform="translate(386.40,348.40) rotate(-90)" font-size="9.8" text-anchor="middle" fill="#222" >Height</text>
<line x1="428.80" y1="276.00" x2="428.80" y2="422.50" stroke="#b4b4b4" stroke-width="0.8" stroke-dasharray="1 1.4"/>
<line x1="434.00" y1="276.00" x2="434.00" y2="422.50" stroke="#b4b4b4" stroke-width="0.8" stroke-dasharray="1 1.4"/>
<line x1="439.20" y1="276.00" x2="439.20" y2="422.50" stroke="#b4b4b4" stroke-width="0.8" stroke-dasharray="1 1.4"/>
<line x1="444.40" y1="276.00" x2="444.40" y2="422.50" stroke="#b4b4b4" stroke-width="0.8" stroke-dasharray="1 1.4"/>
<line x1="449.60" y1="276.00" x2="449.60" y2="422.50" stroke="#b4b4b4" stroke-width="0.8" stroke-dasharray="1 1.4"/>
<line x1="454.80" y1="276.00" x2="454.80" y2="422.50" stroke="#b4b4b4" stroke-width="0.8" stroke-dasharray="1 1.4"/>
<line x1="460.00" y1="276.00" x2="460.00" y2="422.50" stroke="#b4b4b4" stroke-width="0.8" stroke-dasharray="1 1.4"/>
<line x1="465.20" y1="276.00" x2="465.20" y2="422.50" stroke="#b4b4b4" stroke-width="0.8" stroke-dasharray="1 1.4"/>
<line x1="470.40" y1="276.00" x2="470.40" y2="422.50" stroke="#b4b4b4" stroke-width="0.8" stroke-dasharray="1 1.4"/>
<line x1="475.60" y1="276.00" x2="475.60" y2="422.50" stroke="#b4b4b4" stroke-width="0.8" stroke-dasharray="1 1.4"/>
<line x1="480.80" y1="276.00" x2="480.80" y2="422.50" stroke="#b4b4b4" stroke-width="0.8" stroke-dasharray="1 1.4"/>
<line x1="486.00" y1="276.00" x2="486.00" y2="422.50" stroke="#b4b4b4" stroke-width="0.8" stroke-dasharray="1 1.4"/>
<line x1="491.20" y1="276.00" x2="491.20" y2="422.50" stroke="#b4b4b4" stroke-width="0.8" stroke-dasharray="1 1.4"/>
<line x1="496.40" y1="276.00" x2="496.40" y2="422.50" stroke="#b4b4b4" stroke-width="0.8" stroke-dasharray="1 1.4"/>
<line x1="501.60" y1="276.00" x2="501.60" y2="422.50" stroke="#b4b4b4" stroke-width="0.8" stroke-dasharray="1 1.4"/>
<line x1="506.80" y1="276.00" x2="506.80" y2="422.50" stroke="#b4b4b4" stroke-width="0.8" stroke-dasharray="1 1.4"/>
<line x1="512.00" y1="276.00" x2="512.00" y2="422.50" stroke="#b4b4b4" stroke-width="0.8" stroke-dasharray="1 1.4"/>
<line x1="517.20" y1="276.00" x2="517.20" y2="422.50" stroke="#b4b4b4" stroke-width="0.8" stroke-dasharray="1 1.4"/>
<line x1="522.40" y1="276.00" x2="522.40" y2="422.50" stroke="#b4b4b4" stroke-width="0.8" stroke-dasharray="1 1.4"/>
<line x1="527.60" y1="276.00" x2="527.60" y2="422.50" stroke="#b4b4b4" stroke-width="0.8" stroke-dasharray="1 1.4"/>
<line x1="532.80" y1="276.00" x2="532.80" y2="422.50" stroke="#b4b4b4" stroke-width="0.8" stroke-dasharray="1 1.4"/>
<line x1="538.00" y1="276.00" x2="538.00" y2="422.50" stroke="#b4b4b4" stroke-width="0.8" stroke-dasharray="1 1.4"/>
<line x1="543.20" y1="276.00" x2="543.20" y2="422.50" stroke="#b4b4b4" stroke-width="0.8" stroke-dasharray="1 1.4"/>
<line x1="548.40" y1="276.00" x2="548.40" y2="422.50" stroke="#b4b4b4" stroke-width="0.8" stroke-dasharray="1 1.4"/>
<line x1="553.60" y1="276.00" x2="553.60" y2="422.50" stroke="#b4b4b4" stroke-width="0.8" stroke-dasharray="1 1.4"/>
<line x1="558.80" y1="276.00" x2="558.80" y2="422.50" stroke="#b4b4b4" stroke-width="0.8" stroke-dasharray="1 1.4"/>
<line x1="564.00" y1="276.00" x2="564.00" y2="422.50" stroke="#b4b4b4" stroke-width="0.8" stroke-dasharray="1 1.4"/>
<line x1="569.20" y1="276.00" x2="569.20" y2="422.50" stroke="#b4b4b4" stroke-width="0.8" stroke-dasharray="1 1.4"/>
<line x1="574.40" y1="276.00" x2="574.40" y2="422.50" stroke="#b4b4b4" stroke-width="0.8" stroke-dasharray="1 1.4"/>
<line x1="579.60" y1="276.00" x2="579.60" y2="422.50" stroke="#b4b4b4" stroke-width="0.8" stroke-dasharray="1 1.4"/>
<line x1="584.80" y1="276.00" x2="584.80" y2="422.50" stroke="#b4b4b4" stroke-width="0.8" stroke-dasharray="1 1.4"/>
<line x1="590.00" y1="276.00" x2="590.00" y2="422.50" stroke="#b4b4b4" stroke-width="0.8" stroke-dasharray="1 1.4"/>
<line x1="595.20" y1="276.00" x2="595.20" y2="422.50" stroke="#b4b4b4" stroke-width="0.8" stroke-dasharray="1 1.4"/>
<line x1="600.40" y1="276.00" x2="600.40" y2="422.50" stroke="#b4b4b4" stroke-width="0.8" stroke-dasharray="1 1.4"/>
<line x1="605.60" y1="276.00" x2="605.60" y2="422.50" stroke="#b4b4b4" stroke-width="0.8" stroke-dasharray="1 1.4"/>
<line x1="610.80" y1="276.00" x2="610.80" y2="422.50" stroke="#b4b4b4" stroke-width="0.8" stroke-dasharray="1 1.4"/>
<line x1="616.00" y1="276.00" x2="616.00" y2="422.50" stroke="#b4b4b4" stroke-width="0.8" stroke-dasharray="1 1.4"/>
<line x1="621.20" y1="276.00" x2="621.20" y2="422.50" stroke="#b4b4b4" stroke-width="0.8" stroke-dasharray="1 1.4"/>
<line x1="626.40" y1="276.00" x2="626.40" y2="422.50" stroke="#b4b4b4" stroke-width="0.8" stroke-dasharray="1 1.4"/>
<line x1="631.60" y1="276.00" x2="631.60" y2="422.50" stroke="#b4b4b4" stroke-width="0.8" stroke-dasharray="1 1.4"/>
<line x1="636.80" y1="276.00" x2="636.80" y2="422.50" stroke="#b4b4b4" stroke-width="0.8" stroke-dasharray="1 1.4"/>
<line x1="642.00" y1="276.00" x2="642.00" y2="422.50" stroke="#b4b4b4" stroke-width="0.8" stroke-dasharray="1 1.4"/>
<line x1="647.20" y1="276.00" x2="647.20" y2="422.50" stroke="#b4b4b4" stroke-width="0.8" stroke-dasharray="1 1.4"/>
<line x1="652.40" y1="276.00" x2="652.40" y2="422.50" stroke="#b4b4b4" stroke-width="0.8" stroke-dasharray="1 1.4"/>
<line x1="657.60" y1="276.00" x2="657.60" y2="422.50" stroke="#b4b4b4" stroke-width="0.8" stroke-dasharray="1 1.4"/>
<line x1="662.80" y1="276.00" x2="662.80" y2="422.50" stroke="#b4b4b4" stroke-width="0.8" stroke-dasharray="1 1.4"/>
<line x1="668.00" y1="276.00" x2="668.00" y2="422.50" stroke="#b4b4b4" stroke-width="0.8" stroke-dasharray="1 1.4"/>
<line x1="673.20" y1="276.00" x2="673.20" y2="422.50" stroke="#b4b4b4" stroke-width="0.8" stroke-dasharray="1 1.4"/>
<line x1="678.40" y1="276.00" x2="678.40" y2="422.50" stroke="#b4b4b4" stroke-width="0.8" stroke-dasharray="1 1.4"/>
<line x1="683.60" y1="276.00" x2="683.60" y2="422.50" stroke="#b4b4b4" stroke-width="0.8" stroke-dasharray="1 1.4"/>
<polygon points="423.70,269.40 423.70,273.70 424.20,273.70 424.70,273.70 425.20,273.70 425.70,273.70 426.20,273.71 426.70,273.71 427.20,273.71 427.70,273.71 428.20,273.71 428.70,273.71 429.20,273.71 429.70,273.71 430.20,273.71 430.70,273.72 431.20,273.72 431.70,273.72 432.20,273.72 432.70,273.72 433.20,273.72 433.70,273.72 434.20,273.72 434.70,273.72 435.20,273.72 435.70,273.73 436.20,273.73 436.70,273.73 437.20,273.73 437.70,273.73 438.20,273.73 438.70,273.73 439.20,273.73 439.70,273.73 440.20,273.74 440.70,273.74 441.20,273.74 441.70,273.74 442.20,273.74 442.70,273.74 443.20,273.74 443.70,273.74 444.20,273.74 444.70,273.75 445.20,273.75 445.70,273.75 446.20,273.75 446.70,273.75 447.20,273.75 447.70,273.75 448.20,273.75 448.70,273.75 449.20,273.76 449.70,273.76 450.20,273.76 450.70,273.76 451.20,273.76 451.70,273.76 452.20,273.76 452.70,273.76 453.20,273.76 453.70,273.76 454.20,273.77 454.70,273.77 455.20,273.77 455.70,273.77 456.20,273.77 456.70,273.77 457.20,273.77 457.70,273.77 458.20,273.77 458.70,273.78 459.20,273.78 459.70,273.78 460.20,273.78 460.70,273.78 461.20,273.78 461.70,273.78 462.20,273.78 462.70,273.78 463.20,273.79 463.70,273.79 464.20,273.79 464.70,273.79 465.20,273.79 465.70,273.79 466.20,273.79 466.70,273.79 467.20,273.79 467.70,273.80 468.20,273.80 468.70,273.80 469.20,273.80 469.70,273.80 470.20,273.81 470.70,273.85 471.20,273.89 471.70,273.93 472.20,273.96 472.70,274.00 473.20,274.04 473.70,274.08 474.20,274.11 474.70,274.15 475.20,274.19 475.70,274.23 476.20,274.26 476.70,274.30 477.20,274.34 477.70,274.38 478.20,274.40 478.70,274.40 479.20,274.40 479.70,274.40 480.20,274.40 480.70,274.40 481.20,274.40 481.70,274.40 482.20,274.40 482.70,274.40 483.20,274.40 483.70,274.40 484.20,274.40 484.70,274.40 485.20,274.41 485.70,274.41 486.20,274.41 486.70,274.42 487.20,274.42 487.70,274.42 488.20,274.42 488.70,274.43 489.20,274.43 489.70,274.43 490.20,274.44 490.70,274.44 491.20,274.44 491.70,274.45 492.20,274.45 492.70,274.45 493.20,274.45 493.70,274.46 494.20,274.46 494.70,274.46 495.20,274.47 495.70,274.47 496.20,274.47 496.70,274.47 497.20,274.48 497.70,274.48 498.20,274.48 498.70,274.49 499.20,274.49 499.70,274.49 500.20,274.50 500.70,274.50 501.20,274.50 501.70,274.50 502.20,274.51 502.70,274.51 503.20,274.51 503.70,274.52 504.20,274.52 504.70,274.52 505.20,274.52 505.70,274.53 506.20,274.53 506.70,274.53 507.20,274.54 507.70,274.54 508.20,274.54 508.70,274.55 509.20,274.55 509.70,274.55 510.20,274.55 510.70,274.56 511.20,274.56 511.70,274.56 512.20,274.57 512.70,274.57 513.20,274.57 513.70,274.57 514.20,274.58 514.70,274.58 515.20,274.58 515.70,274.59 516.20,274.59 516.70,274.59 517.20,274.60 517.70,274.60 518.20,274.64 518.70,274.74 519.20,274.84 519.70,274.94 520.20,275.00 520.70,275.01 521.20,275.02 521.70,275.02 522.20,275.03 522.70,275.04 523.20,275.04 523.70,275.05 524.20,275.06 524.70,275.06 525.20,275.07 525.70,275.08 526.20,275.08 526.70,275.09 527.20,275.10 527.70,275.10 528.20,275.11 528.70,275.12 529.20,275.12 529.70,275.13 530.20,275.14 530.70,275.14 531.20,275.15 531.70,275.16 532.20,275.16 532.70,275.17 533.20,275.18 533.70,275.18 534.20,275.19 534.70,275.20 535.20,275.20 535.70,275.21 536.20,275.22 536.70,275.22 537.20,275.23 537.70,275.24 538.20,275.24 538.70,275.25 539.20,275.26 539.70,275.26 540.20,275.27 540.70,275.28 541.20,275.28 541.70,275.29 542.20,275.30 542.70,275.30 543.20,275.31 543.70,275.32 544.20,275.32 544.70,275.33 545.20,275.34 545.70,275.34 546.20,275.35 546.70,275.36 547.20,275.36 547.70,275.37 548.20,275.38 548.70,275.38 549.20,275.39 549.70,275.40 550.20,275.43 550.70,275.52 551.20,275.60 551.70,275.68 552.20,275.77 552.70,275.85 553.20,275.93 553.70,276.02 554.20,276.10 554.70,276.18 555.20,276.27 555.70,276.35 556.20,276.40 556.70,276.40 557.20,276.40 557.70,276.40 558.20,276.40 558.70,276.40 559.20,276.40 559.70,276.40 560.20,276.40 560.70,276.40 561.20,276.40 561.70,276.40 562.20,276.40 562.70,276.40 563.20,276.40 563.70,276.40 564.20,276.40 564.70,276.40 565.20,276.40 565.70,276.40 566.20,276.40 566.70,276.40 567.20,276.40 567.70,276.40 568.20,276.40 568.70,276.40 569.20,276.40 569.70,276.40 570.20,276.41 570.70,276.45 571.20,276.48 571.70,276.51 572.20,276.55 572.70,276.58 573.20,276.61 573.70,276.65 574.20,276.68 574.70,276.71 575.20,276.75 575.70,276.78 576.20,276.81 576.70,276.85 577.20,276.88 577.70,276.91 578.20,276.95 578.70,276.98 579.20,277.01 579.70,277.05 580.20,277.08 580.70,277.11 581.20,277.15 581.70,277.18 582.20,277.21 582.70,277.25 583.20,277.28 583.70,277.31 584.20,277.35 584.70,277.38 585.20,277.41 585.70,277.45 586.20,277.48 586.70,277.51 587.20,277.55 587.70,277.58 588.20,277.61 588.70,277.65 589.20,277.68 589.70,277.71 590.20,277.75 590.70,277.78 591.20,277.81 591.70,277.85 592.20,277.88 592.70,277.91 593.20,277.95 593.70,277.98 594.20,278.01 594.70,278.05 595.20,278.08 595.70,278.11 596.20,278.15 596.70,278.18 597.20,278.21 597.70,278.25 598.20,278.28 598.70,278.31 599.20,278.35 599.70,278.38 600.20,278.40 600.70,278.40 601.20,278.40 601.70,278.40 602.20,278.40 602.70,278.40 603.20,278.40 603.70,278.40 604.20,278.40 604.70,278.40 605.20,278.40 605.70,278.40 606.20,278.40 606.70,278.40 607.20,278.40 607.70,278.40 608.20,278.40 608.70,278.40 609.20,278.40 609.70,278.40 610.20,278.40 610.70,278.40 611.20,278.45 611.70,278.57 612.20,278.70 612.70,278.82 613.20,278.95 613.70,279.07 614.20,279.20 614.70,279.32 615.20,279.40 615.70,279.40 616.20,279.40 616.70,279.40 617.20,279.40 617.70,279.40 618.20,279.40 618.70,279.40 619.20,279.40 619.70,279.40 620.20,278.60 620.70,276.60 621.20,274.60 621.70,274.00 622.20,275.50 622.70,276.41 623.20,276.44 623.70,276.47 624.20,276.50 624.70,276.53 625.20,276.55 625.70,276.58 626.20,276.61 626.70,276.64 627.20,276.67 627.70,276.70 628.20,276.73 628.70,276.75 629.20,276.78 629.70,276.81 630.20,276.84 630.70,276.87 631.20,276.90 631.70,276.93 632.20,276.95 632.70,276.98 633.20,277.01 633.70,277.04 634.20,277.07 634.70,277.10 635.20,277.13 635.70,277.15 636.20,277.18 636.70,277.21 637.20,277.24 637.70,277.27 638.20,277.30 638.70,277.33 639.20,277.35 639.70,277.38 640.20,277.40 640.70,277.40 641.20,277.40 641.70,277.40 642.20,277.40 642.70,277.40 643.20,277.40 643.70,277.40 644.20,277.40 644.70,277.40 645.20,277.40 645.70,277.40 646.20,277.40 646.70,277.40 647.20,277.40 647.70,277.40 648.20,277.40 648.70,277.40 649.20,277.40 649.70,277.40 650.20,277.40 650.70,277.40 651.20,277.40 651.70,277.40 652.20,277.40 652.70,277.40 653.20,277.40 653.70,277.40 654.20,277.40 654.70,277.40 655.20,277.40 655.70,277.40 656.20,277.40 656.70,277.40 657.20,277.40 657.70,277.40 658.20,277.40 658.70,277.40 659.20,277.40 659.70,277.40 660.20,277.40 660.70,277.40 661.20,277.40 661.70,277.40 662.20,277.40 662.70,277.40 663.20,277.40 663.70,277.40 664.20,277.40 664.70,277.40 665.20,277.40 665.70,277.40 666.20,277.40 666.70,277.40 667.20,277.40 667.70,277.40 668.20,277.40 668.70,277.40 669.20,277.40 669.70,277.40 670.20,277.40 670.70,277.40 671.20,277.40 671.70,277.40 672.20,277.40 672.70,277.40 673.20,277.40 673.70,277.40 674.20,277.40 674.70,277.40 675.20,277.40 675.70,277.40 676.20,277.40 676.70,277.40 677.20,277.40 677.70,277.40 678.20,277.40 678.70,277.40 679.20,277.40 679.70,277.40 680.20,277.40 680.70,277.40 681.20,277.40 681.70,277.40 682.20,277.40 682.70,277.40 683.20,277.40 683.70,277.40 684.20,277.40 684.60,269.40" fill="#000"/>
<line x1="424.32" y1="273.40" x2="424.32" y2="274.22" stroke="#000" stroke-width="1.19"/>
<line x1="427.48" y1="273.41" x2="427.48" y2="274.26" stroke="#000" stroke-width="1.26"/>
<line x1="428.62" y1="273.41" x2="428.62" y2="273.81" stroke="#000" stroke-width="1.27"/>
<line x1="431.08" y1="273.42" x2="431.08" y2="274.95" stroke="#000" stroke-width="0.81"/>
<line x1="433.12" y1="273.42" x2="433.12" y2="273.61" stroke="#000" stroke-width="1.05"/>
<line x1="435.35" y1="273.43" x2="435.35" y2="273.43" stroke="#000" stroke-width="0.87"/>
<line x1="436.95" y1="273.43" x2="436.95" y2="275.20" stroke="#000" stroke-width="1.17"/>
<line x1="438.28" y1="273.43" x2="438.28" y2="274.59" stroke="#000" stroke-width="0.83"/>
<line x1="440.53" y1="273.44" x2="440.53" y2="273.54" stroke="#000" stroke-width="0.75"/>
<line x1="443.25" y1="273.44" x2="443.25" y2="273.62" stroke="#000" stroke-width="0.87"/>
<line x1="446.13" y1="273.45" x2="446.13" y2="275.08" stroke="#000" stroke-width="0.91"/>
<line x1="448.92" y1="273.45" x2="448.92" y2="274.09" stroke="#000" stroke-width="1.12"/>
<line x1="450.24" y1="273.46" x2="450.24" y2="275.80" stroke="#000" stroke-width="1.13"/>
<line x1="452.97" y1="273.46" x2="452.97" y2="275.38" stroke="#000" stroke-width="0.91"/>
<line x1="454.53" y1="273.47" x2="454.53" y2="273.62" stroke="#000" stroke-width="0.83"/>
<line x1="455.55" y1="273.47" x2="455.55" y2="273.78" stroke="#000" stroke-width="1.08"/>
<line x1="456.45" y1="273.47" x2="456.45" y2="274.47" stroke="#000" stroke-width="0.94"/>
<line x1="457.89" y1="273.47" x2="457.89" y2="275.00" stroke="#000" stroke-width="1.01"/>
<line x1="459.32" y1="273.48" x2="459.32" y2="274.07" stroke="#000" stroke-width="1.14"/>
<line x1="460.29" y1="273.48" x2="460.29" y2="276.86" stroke="#000" stroke-width="0.76"/>
<line x1="462.45" y1="273.48" x2="462.45" y2="275.23" stroke="#000" stroke-width="0.76"/>
<line x1="464.63" y1="273.49" x2="464.63" y2="273.92" stroke="#000" stroke-width="1.07"/>
<line x1="465.48" y1="273.49" x2="465.48" y2="273.54" stroke="#000" stroke-width="0.85"/>
<line x1="467.90" y1="273.50" x2="467.90" y2="273.71" stroke="#000" stroke-width="1.17"/>
<line x1="470.22" y1="273.52" x2="470.22" y2="276.43" stroke="#000" stroke-width="0.94"/>
<line x1="471.59" y1="273.62" x2="471.59" y2="274.49" stroke="#000" stroke-width="1.18"/>
<line x1="472.52" y1="273.69" x2="472.52" y2="275.44" stroke="#000" stroke-width="1.19"/>
<line x1="474.58" y1="273.84" x2="474.58" y2="273.90" stroke="#000" stroke-width="1.27"/>
<line x1="475.43" y1="273.91" x2="475.43" y2="274.57" stroke="#000" stroke-width="1.09"/>
<line x1="477.42" y1="274.06" x2="477.42" y2="274.80" stroke="#000" stroke-width="1.26"/>
<line x1="478.82" y1="274.10" x2="478.82" y2="274.83" stroke="#000" stroke-width="0.92"/>
<line x1="479.69" y1="274.10" x2="479.69" y2="274.27" stroke="#000" stroke-width="0.83"/>
<line x1="481.18" y1="274.10" x2="481.18" y2="286.67" stroke="#000" stroke-width="0.84"/>
<line x1="481.84" y1="274.10" x2="481.84" y2="283.90" stroke="#000" stroke-width="1.04"/>
<line x1="482.90" y1="274.10" x2="482.90" y2="274.75" stroke="#000" stroke-width="1.08"/>
<line x1="484.41" y1="274.10" x2="484.41" y2="275.63" stroke="#000" stroke-width="0.98"/>
<line x1="485.02" y1="274.11" x2="485.02" y2="280.38" stroke="#000" stroke-width="0.77"/>
<line x1="486.11" y1="274.11" x2="486.11" y2="278.78" stroke="#000" stroke-width="0.82"/>
<line x1="487.46" y1="274.12" x2="487.46" y2="281.90" stroke="#000" stroke-width="1.10"/>
<line x1="488.85" y1="274.13" x2="488.85" y2="274.43" stroke="#000" stroke-width="0.99"/>
<line x1="489.56" y1="274.13" x2="489.56" y2="279.09" stroke="#000" stroke-width="0.91"/>
<line x1="490.58" y1="274.14" x2="490.58" y2="293.71" stroke="#000" stroke-width="1.22"/>
<line x1="492.16" y1="274.15" x2="492.16" y2="275.80" stroke="#000" stroke-width="1.02"/>
<line x1="493.47" y1="274.16" x2="493.47" y2="275.97" stroke="#000" stroke-width="0.91"/>
<line x1="494.43" y1="274.16" x2="494.43" y2="274.61" stroke="#000" stroke-width="0.96"/>
<line x1="496.00" y1="274.17" x2="496.00" y2="283.34" stroke="#000" stroke-width="1.09"/>
<line x1="497.05" y1="274.18" x2="497.05" y2="275.37" stroke="#000" stroke-width="0.80"/>
<line x1="497.86" y1="274.18" x2="497.86" y2="278.61" stroke="#000" stroke-width="1.23"/>
<line x1="498.76" y1="274.19" x2="498.76" y2="278.71" stroke="#000" stroke-width="1.18"/>
<line x1="500.00" y1="274.19" x2="500.00" y2="277.43" stroke="#000" stroke-width="1.17"/>
<line x1="500.89" y1="274.20" x2="500.89" y2="277.85" stroke="#000" stroke-width="0.90"/>
<line x1="501.90" y1="274.21" x2="501.90" y2="278.65" stroke="#000" stroke-width="1.13"/>
<line x1="502.71" y1="274.21" x2="502.71" y2="283.09" stroke="#000" stroke-width="1.11"/>
<line x1="503.82" y1="274.22" x2="503.82" y2="274.25" stroke="#000" stroke-width="1.05"/>
<line x1="504.58" y1="274.22" x2="504.58" y2="277.68" stroke="#000" stroke-width="1.00"/>
<line x1="505.91" y1="274.23" x2="505.91" y2="277.51" stroke="#000" stroke-width="1.19"/>
<line x1="506.77" y1="274.23" x2="506.77" y2="277.51" stroke="#000" stroke-width="1.16"/>
<line x1="508.10" y1="274.24" x2="508.10" y2="275.62" stroke="#000" stroke-width="1.21"/>
<line x1="509.47" y1="274.25" x2="509.47" y2="278.04" stroke="#000" stroke-width="1.29"/>
<line x1="510.91" y1="274.26" x2="510.91" y2="276.66" stroke="#000" stroke-width="1.04"/>
<line x1="511.57" y1="274.26" x2="511.57" y2="280.26" stroke="#000" stroke-width="1.27"/>
<line x1="512.53" y1="274.27" x2="512.53" y2="278.19" stroke="#000" stroke-width="1.15"/>
<line x1="513.74" y1="274.27" x2="513.74" y2="274.91" stroke="#000" stroke-width="1.18"/>
<line x1="514.79" y1="274.28" x2="514.79" y2="278.01" stroke="#000" stroke-width="0.98"/>
<line x1="515.88" y1="274.29" x2="515.88" y2="279.41" stroke="#000" stroke-width="1.10"/>
<line x1="517.06" y1="274.29" x2="517.06" y2="274.39" stroke="#000" stroke-width="0.84"/>
<line x1="517.96" y1="274.30" x2="517.96" y2="277.97" stroke="#000" stroke-width="0.87"/>
<line x1="519.10" y1="274.52" x2="519.10" y2="278.05" stroke="#000" stroke-width="0.77"/>
<line x1="520.02" y1="274.70" x2="520.02" y2="275.62" stroke="#000" stroke-width="0.78"/>
<line x1="520.62" y1="274.71" x2="520.62" y2="276.09" stroke="#000" stroke-width="0.85"/>
<line x1="521.28" y1="274.72" x2="521.28" y2="274.85" stroke="#000" stroke-width="1.01"/>
<line x1="522.11" y1="274.73" x2="522.11" y2="278.20" stroke="#000" stroke-width="1.07"/>
<line x1="522.80" y1="274.74" x2="522.80" y2="283.36" stroke="#000" stroke-width="0.75"/>
<line x1="523.65" y1="274.75" x2="523.65" y2="275.97" stroke="#000" stroke-width="0.98"/>
<line x1="524.22" y1="274.76" x2="524.22" y2="281.44" stroke="#000" stroke-width="0.96"/>
<line x1="524.72" y1="274.76" x2="524.72" y2="278.35" stroke="#000" stroke-width="0.80"/>
<line x1="525.69" y1="274.78" x2="525.69" y2="276.36" stroke="#000" stroke-width="1.07"/>
<line x1="527.04" y1="274.79" x2="527.04" y2="281.39" stroke="#000" stroke-width="0.98"/>
<line x1="528.24" y1="274.81" x2="528.24" y2="278.83" stroke="#000" stroke-width="0.95"/>
<line x1="528.83" y1="274.82" x2="528.83" y2="278.39" stroke="#000" stroke-width="1.06"/>
<line x1="530.16" y1="274.84" x2="530.16" y2="288.58" stroke="#000" stroke-width="1.08"/>
<line x1="530.93" y1="274.85" x2="530.93" y2="283.86" stroke="#000" stroke-width="0.75"/>
<line x1="531.47" y1="274.85" x2="531.47" y2="278.23" stroke="#000" stroke-width="1.09"/>
<line x1="532.05" y1="274.86" x2="532.05" y2="278.90" stroke="#000" stroke-width="1.24"/>
<line x1="532.84" y1="274.87" x2="532.84" y2="277.19" stroke="#000" stroke-width="0.87"/>
<line x1="533.54" y1="274.88" x2="533.54" y2="289.72" stroke="#000" stroke-width="0.96"/>
<line x1="534.84" y1="274.90" x2="534.84" y2="285.15" stroke="#000" stroke-width="1.08"/>
<line x1="535.52" y1="274.91" x2="535.52" y2="291.59" stroke="#000" stroke-width="1.02"/>
<line x1="536.32" y1="274.92" x2="536.32" y2="276.55" stroke="#000" stroke-width="1.29"/>
<line x1="537.20" y1="274.93" x2="537.20" y2="276.37" stroke="#000" stroke-width="1.01"/>
<line x1="537.74" y1="274.94" x2="537.74" y2="279.12" stroke="#000" stroke-width="0.99"/>
<line x1="538.43" y1="274.95" x2="538.43" y2="281.53" stroke="#000" stroke-width="1.20"/>
<line x1="538.88" y1="274.95" x2="538.88" y2="278.26" stroke="#000" stroke-width="0.90"/>
<line x1="540.13" y1="274.97" x2="540.13" y2="281.66" stroke="#000" stroke-width="0.89"/>
<line x1="540.79" y1="274.98" x2="540.79" y2="275.72" stroke="#000" stroke-width="1.29"/>
<line x1="541.47" y1="274.99" x2="541.47" y2="279.16" stroke="#000" stroke-width="1.01"/>
<line x1="542.45" y1="275.00" x2="542.45" y2="279.16" stroke="#000" stroke-width="1.16"/>
<line x1="542.98" y1="275.01" x2="542.98" y2="281.45" stroke="#000" stroke-width="0.92"/>
<line x1="543.86" y1="275.02" x2="543.86" y2="276.88" stroke="#000" stroke-width="0.91"/>
<line x1="544.73" y1="275.03" x2="544.73" y2="277.89" stroke="#000" stroke-width="0.95"/>
<line x1="545.78" y1="275.04" x2="545.78" y2="279.18" stroke="#000" stroke-width="0.77"/>
<line x1="546.41" y1="275.05" x2="546.41" y2="277.88" stroke="#000" stroke-width="1.25"/>
<line x1="547.57" y1="275.07" x2="547.57" y2="278.77" stroke="#000" stroke-width="0.76"/>
<line x1="548.63" y1="275.08" x2="548.63" y2="277.73" stroke="#000" stroke-width="1.07"/>
<line x1="549.63" y1="275.10" x2="549.63" y2="279.88" stroke="#000" stroke-width="1.02"/>
<line x1="550.80" y1="275.23" x2="550.80" y2="277.58" stroke="#000" stroke-width="0.97"/>
<line x1="551.90" y1="275.42" x2="551.90" y2="276.48" stroke="#000" stroke-width="0.91"/>
<line x1="552.98" y1="275.60" x2="552.98" y2="275.93" stroke="#000" stroke-width="1.21"/>
<line x1="553.95" y1="275.76" x2="553.95" y2="278.57" stroke="#000" stroke-width="0.91"/>
<line x1="554.98" y1="275.93" x2="554.98" y2="288.01" stroke="#000" stroke-width="0.83"/>
<line x1="555.76" y1="276.06" x2="555.76" y2="280.05" stroke="#000" stroke-width="1.02"/>
<line x1="556.43" y1="276.10" x2="556.43" y2="276.94" stroke="#000" stroke-width="1.07"/>
<line x1="557.48" y1="276.10" x2="557.48" y2="276.46" stroke="#000" stroke-width="0.88"/>
<line x1="558.53" y1="276.10" x2="558.53" y2="284.04" stroke="#000" stroke-width="1.11"/>
<line x1="558.95" y1="276.10" x2="558.95" y2="282.60" stroke="#000" stroke-width="1.29"/>
<line x1="560.15" y1="276.10" x2="560.15" y2="282.25" stroke="#000" stroke-width="0.78"/>
<line x1="561.22" y1="276.10" x2="561.22" y2="277.36" stroke="#000" stroke-width="1.11"/>
<line x1="562.39" y1="276.10" x2="562.39" y2="282.49" stroke="#000" stroke-width="0.82"/>
<line x1="563.02" y1="276.10" x2="563.02" y2="288.96" stroke="#000" stroke-width="0.83"/>
<line x1="563.91" y1="276.10" x2="563.91" y2="278.86" stroke="#000" stroke-width="0.84"/>
<line x1="564.81" y1="276.10" x2="564.81" y2="276.33" stroke="#000" stroke-width="0.81"/>
<line x1="565.51" y1="276.10" x2="565.51" y2="276.49" stroke="#000" stroke-width="0.78"/>
<line x1="566.37" y1="276.10" x2="566.37" y2="283.15" stroke="#000" stroke-width="1.23"/>
<line x1="566.88" y1="276.10" x2="566.88" y2="279.04" stroke="#000" stroke-width="0.92"/>
<line x1="567.76" y1="276.10" x2="567.76" y2="279.61" stroke="#000" stroke-width="1.27"/>
<line x1="568.46" y1="276.10" x2="568.46" y2="276.40" stroke="#000" stroke-width="1.13"/>
<line x1="568.98" y1="276.10" x2="568.98" y2="281.33" stroke="#000" stroke-width="1.03"/>
<line x1="570.11" y1="276.11" x2="570.11" y2="280.37" stroke="#000" stroke-width="1.09"/>
<line x1="570.72" y1="276.15" x2="570.72" y2="280.38" stroke="#000" stroke-width="0.89"/>
<line x1="571.72" y1="276.21" x2="571.72" y2="280.07" stroke="#000" stroke-width="0.82"/>
<line x1="572.30" y1="276.25" x2="572.30" y2="278.71" stroke="#000" stroke-width="1.16"/>
<line x1="572.85" y1="276.29" x2="572.85" y2="282.93" stroke="#000" stroke-width="1.11"/>
<line x1="573.32" y1="276.32" x2="573.32" y2="282.19" stroke="#000" stroke-width="0.80"/>
<line x1="573.82" y1="276.35" x2="573.82" y2="281.16" stroke="#000" stroke-width="0.88"/>
<line x1="574.92" y1="276.43" x2="574.92" y2="279.93" stroke="#000" stroke-width="0.93"/>
<line x1="575.95" y1="276.50" x2="575.95" y2="276.66" stroke="#000" stroke-width="1.15"/>
<line x1="576.40" y1="276.53" x2="576.40" y2="277.41" stroke="#000" stroke-width="1.27"/>
<line x1="577.34" y1="276.59" x2="577.34" y2="277.95" stroke="#000" stroke-width="0.81"/>
<line x1="578.52" y1="276.67" x2="578.52" y2="282.59" stroke="#000" stroke-width="1.20"/>
<line x1="579.03" y1="276.70" x2="579.03" y2="282.02" stroke="#000" stroke-width="0.94"/>
<line x1="579.62" y1="276.74" x2="579.62" y2="278.94" stroke="#000" stroke-width="1.09"/>
<line x1="580.30" y1="276.79" x2="580.30" y2="279.44" stroke="#000" stroke-width="0.83"/>
<line x1="581.36" y1="276.86" x2="581.36" y2="282.56" stroke="#000" stroke-width="1.19"/>
<line x1="582.11" y1="276.91" x2="582.11" y2="287.35" stroke="#000" stroke-width="1.03"/>
<line x1="582.99" y1="276.97" x2="582.99" y2="281.64" stroke="#000" stroke-width="1.16"/>
<line x1="583.70" y1="277.01" x2="583.70" y2="277.57" stroke="#000" stroke-width="0.77"/>
<line x1="584.26" y1="277.05" x2="584.26" y2="277.27" stroke="#000" stroke-width="1.24"/>
<line x1="585.05" y1="277.10" x2="585.05" y2="285.00" stroke="#000" stroke-width="0.75"/>
<line x1="585.82" y1="277.15" x2="585.82" y2="289.37" stroke="#000" stroke-width="1.09"/>
<line x1="586.57" y1="277.20" x2="586.57" y2="280.68" stroke="#000" stroke-width="0.80"/>
<line x1="587.09" y1="277.24" x2="587.09" y2="278.20" stroke="#000" stroke-width="0.96"/>
<line x1="587.80" y1="277.29" x2="587.80" y2="289.12" stroke="#000" stroke-width="0.83"/>
<line x1="588.40" y1="277.33" x2="588.40" y2="279.14" stroke="#000" stroke-width="0.84"/>
<line x1="589.03" y1="277.37" x2="589.03" y2="278.87" stroke="#000" stroke-width="1.02"/>
<line x1="589.46" y1="277.40" x2="589.46" y2="291.88" stroke="#000" stroke-width="0.95"/>
<line x1="590.61" y1="277.47" x2="590.61" y2="284.02" stroke="#000" stroke-width="1.12"/>
<line x1="591.39" y1="277.53" x2="591.39" y2="293.92" stroke="#000" stroke-width="0.81"/>
<line x1="592.32" y1="277.59" x2="592.32" y2="279.53" stroke="#000" stroke-width="1.12"/>
<line x1="593.30" y1="277.65" x2="593.30" y2="278.66" stroke="#000" stroke-width="0.86"/>
<line x1="593.72" y1="277.68" x2="593.72" y2="279.17" stroke="#000" stroke-width="0.79"/>
<line x1="594.44" y1="277.73" x2="594.44" y2="298.42" stroke="#000" stroke-width="0.95"/>
<line x1="595.09" y1="277.77" x2="595.09" y2="281.37" stroke="#000" stroke-width="0.91"/>
<line x1="596.08" y1="277.84" x2="596.08" y2="285.08" stroke="#000" stroke-width="0.84"/>
<line x1="596.67" y1="277.88" x2="596.67" y2="284.27" stroke="#000" stroke-width="1.27"/>
<line x1="597.59" y1="277.94" x2="597.59" y2="281.18" stroke="#000" stroke-width="1.29"/>
<line x1="597.99" y1="277.97" x2="597.99" y2="278.33" stroke="#000" stroke-width="1.18"/>
<line x1="598.72" y1="278.01" x2="598.72" y2="278.28" stroke="#000" stroke-width="1.05"/>
<line x1="599.91" y1="278.09" x2="599.91" y2="282.33" stroke="#000" stroke-width="0.94"/>
<line x1="600.39" y1="278.10" x2="600.39" y2="278.53" stroke="#000" stroke-width="1.24"/>
<line x1="601.18" y1="278.10" x2="601.18" y2="294.05" stroke="#000" stroke-width="0.78"/>
<line x1="601.78" y1="278.10" x2="601.78" y2="278.40" stroke="#000" stroke-width="0.97"/>
<line x1="602.23" y1="278.10" x2="602.23" y2="279.82" stroke="#000" stroke-width="0.97"/>
<line x1="602.87" y1="278.10" x2="602.87" y2="278.41" stroke="#000" stroke-width="0.77"/>
<line x1="604.05" y1="278.10" x2="604.05" y2="279.26" stroke="#000" stroke-width="1.03"/>
<line x1="604.77" y1="278.10" x2="604.77" y2="282.55" stroke="#000" stroke-width="0.80"/>
<line x1="605.42" y1="278.10" x2="605.42" y2="278.77" stroke="#000" stroke-width="1.05"/>
<line x1="606.56" y1="278.10" x2="606.56" y2="283.49" stroke="#000" stroke-width="1.22"/>
<line x1="607.13" y1="278.10" x2="607.13" y2="278.20" stroke="#000" stroke-width="1.05"/>
<line x1="607.92" y1="278.10" x2="607.92" y2="283.12" stroke="#000" stroke-width="0.96"/>
<line x1="608.82" y1="278.10" x2="608.82" y2="285.79" stroke="#000" stroke-width="1.25"/>
<line x1="609.46" y1="278.10" x2="609.46" y2="281.65" stroke="#000" stroke-width="1.20"/>
<line x1="610.04" y1="278.10" x2="610.04" y2="278.83" stroke="#000" stroke-width="0.92"/>
<line x1="610.51" y1="278.10" x2="610.51" y2="286.94" stroke="#000" stroke-width="1.20"/>
<line x1="611.16" y1="278.14" x2="611.16" y2="278.97" stroke="#000" stroke-width="0.80"/>
<line x1="611.76" y1="278.29" x2="611.76" y2="278.82" stroke="#000" stroke-width="0.99"/>
<line x1="612.62" y1="278.51" x2="612.62" y2="280.14" stroke="#000" stroke-width="0.78"/>
<line x1="613.58" y1="278.75" x2="613.58" y2="279.01" stroke="#000" stroke-width="0.86"/>
<line x1="614.21" y1="278.90" x2="614.21" y2="281.37" stroke="#000" stroke-width="0.80"/>
<line x1="614.95" y1="279.09" x2="614.95" y2="280.98" stroke="#000" stroke-width="1.16"/>
<line x1="615.79" y1="279.10" x2="615.79" y2="289.82" stroke="#000" stroke-width="1.11"/>
<line x1="616.80" y1="279.10" x2="616.80" y2="282.86" stroke="#000" stroke-width="0.99"/>
<line x1="617.85" y1="279.10" x2="617.85" y2="283.41" stroke="#000" stroke-width="1.28"/>
<line x1="618.84" y1="279.10" x2="618.84" y2="283.60" stroke="#000" stroke-width="0.90"/>
<line x1="619.89" y1="279.10" x2="619.89" y2="280.72" stroke="#000" stroke-width="0.82"/>
<line x1="620.34" y1="277.75" x2="620.34" y2="278.35" stroke="#000" stroke-width="0.89"/>
<line x1="621.28" y1="273.99" x2="621.28" y2="275.14" stroke="#000" stroke-width="0.78"/>
<line x1="622.29" y1="275.47" x2="622.29" y2="279.49" stroke="#000" stroke-width="0.77"/>
<line x1="622.73" y1="276.11" x2="622.73" y2="276.89" stroke="#000" stroke-width="0.95"/>
<line x1="623.82" y1="276.18" x2="623.82" y2="294.06" stroke="#000" stroke-width="1.09"/>
<line x1="624.40" y1="276.21" x2="624.40" y2="279.57" stroke="#000" stroke-width="0.95"/>
<line x1="625.07" y1="276.25" x2="625.07" y2="276.32" stroke="#000" stroke-width="1.07"/>
<line x1="626.13" y1="276.31" x2="626.13" y2="284.09" stroke="#000" stroke-width="0.80"/>
<line x1="626.95" y1="276.35" x2="626.95" y2="277.48" stroke="#000" stroke-width="1.14"/>
<line x1="627.71" y1="276.40" x2="627.71" y2="293.13" stroke="#000" stroke-width="1.19"/>
<line x1="628.20" y1="276.43" x2="628.20" y2="278.71" stroke="#000" stroke-width="1.25"/>
<line x1="628.97" y1="276.47" x2="628.97" y2="279.89" stroke="#000" stroke-width="0.99"/>
<line x1="629.99" y1="276.53" x2="629.99" y2="293.05" stroke="#000" stroke-width="1.04"/>
<line x1="631.16" y1="276.60" x2="631.16" y2="282.03" stroke="#000" stroke-width="0.81"/>
<line x1="632.21" y1="276.66" x2="632.21" y2="279.92" stroke="#000" stroke-width="0.78"/>
<line x1="633.40" y1="276.72" x2="633.40" y2="276.92" stroke="#000" stroke-width="1.07"/>
<line x1="634.18" y1="276.77" x2="634.18" y2="289.58" stroke="#000" stroke-width="0.97"/>
<line x1="634.75" y1="276.80" x2="634.75" y2="278.75" stroke="#000" stroke-width="0.86"/>
<line x1="635.60" y1="276.85" x2="635.60" y2="279.50" stroke="#000" stroke-width="1.16"/>
<line x1="636.20" y1="276.88" x2="636.20" y2="279.48" stroke="#000" stroke-width="0.89"/>
<line x1="637.38" y1="276.95" x2="637.38" y2="287.95" stroke="#000" stroke-width="1.22"/>
<line x1="638.28" y1="277.00" x2="638.28" y2="280.08" stroke="#000" stroke-width="0.83"/>
<line x1="639.34" y1="277.06" x2="639.34" y2="281.10" stroke="#000" stroke-width="0.77"/>
<line x1="639.88" y1="277.09" x2="639.88" y2="277.72" stroke="#000" stroke-width="1.14"/>
<line x1="641.00" y1="277.10" x2="641.00" y2="278.43" stroke="#000" stroke-width="1.19"/>
<line x1="641.66" y1="277.10" x2="641.66" y2="283.99" stroke="#000" stroke-width="1.22"/>
<line x1="642.56" y1="277.10" x2="642.56" y2="286.77" stroke="#000" stroke-width="0.96"/>
<line x1="642.97" y1="277.10" x2="642.97" y2="281.40" stroke="#000" stroke-width="1.07"/>
<line x1="643.51" y1="277.10" x2="643.51" y2="280.06" stroke="#000" stroke-width="0.92"/>
<line x1="643.93" y1="277.10" x2="643.93" y2="279.34" stroke="#000" stroke-width="0.96"/>
<line x1="644.72" y1="277.10" x2="644.72" y2="284.39" stroke="#000" stroke-width="0.97"/>
<line x1="645.90" y1="277.10" x2="645.90" y2="287.24" stroke="#000" stroke-width="1.26"/>
<line x1="646.86" y1="277.10" x2="646.86" y2="283.76" stroke="#000" stroke-width="1.05"/>
<line x1="647.89" y1="277.10" x2="647.89" y2="279.80" stroke="#000" stroke-width="1.08"/>
<line x1="648.84" y1="277.10" x2="648.84" y2="281.53" stroke="#000" stroke-width="0.91"/>
<line x1="649.30" y1="277.10" x2="649.30" y2="277.65" stroke="#000" stroke-width="0.95"/>
<line x1="650.16" y1="277.10" x2="650.16" y2="285.65" stroke="#000" stroke-width="1.14"/>
<line x1="650.81" y1="277.10" x2="650.81" y2="292.99" stroke="#000" stroke-width="0.90"/>
<line x1="651.78" y1="277.10" x2="651.78" y2="277.55" stroke="#000" stroke-width="1.16"/>
<line x1="652.72" y1="277.10" x2="652.72" y2="295.97" stroke="#000" stroke-width="1.24"/>
<line x1="653.67" y1="277.10" x2="653.67" y2="288.03" stroke="#000" stroke-width="1.16"/>
<line x1="654.56" y1="277.10" x2="654.56" y2="278.50" stroke="#000" stroke-width="1.03"/>
<line x1="655.67" y1="277.10" x2="655.67" y2="278.74" stroke="#000" stroke-width="1.29"/>
<line x1="656.51" y1="277.10" x2="656.51" y2="280.10" stroke="#000" stroke-width="0.75"/>
<line x1="657.22" y1="277.10" x2="657.22" y2="278.28" stroke="#000" stroke-width="1.11"/>
<line x1="658.34" y1="277.10" x2="658.34" y2="291.56" stroke="#000" stroke-width="1.09"/>
<line x1="659.05" y1="277.10" x2="659.05" y2="277.79" stroke="#000" stroke-width="1.13"/>
<line x1="659.89" y1="277.10" x2="659.89" y2="284.64" stroke="#000" stroke-width="0.96"/>
<line x1="661.00" y1="277.10" x2="661.00" y2="278.53" stroke="#000" stroke-width="0.92"/>
<line x1="661.62" y1="277.10" x2="661.62" y2="282.94" stroke="#000" stroke-width="1.24"/>
<line x1="662.15" y1="277.10" x2="662.15" y2="283.11" stroke="#000" stroke-width="1.17"/>
<line x1="662.73" y1="277.10" x2="662.73" y2="277.49" stroke="#000" stroke-width="1.06"/>
<line x1="663.80" y1="277.10" x2="663.80" y2="289.75" stroke="#000" stroke-width="1.15"/>
<line x1="664.53" y1="277.10" x2="664.53" y2="280.42" stroke="#000" stroke-width="1.04"/>
<line x1="665.65" y1="277.10" x2="665.65" y2="279.26" stroke="#000" stroke-width="0.90"/>
<line x1="666.54" y1="277.10" x2="666.54" y2="297.49" stroke="#000" stroke-width="0.85"/>
<line x1="666.96" y1="277.10" x2="666.96" y2="277.84" stroke="#000" stroke-width="1.06"/>
<line x1="667.84" y1="277.10" x2="667.84" y2="278.32" stroke="#000" stroke-width="0.85"/>
<line x1="668.72" y1="277.10" x2="668.72" y2="283.34" stroke="#000" stroke-width="1.13"/>
<line x1="669.70" y1="277.10" x2="669.70" y2="277.48" stroke="#000" stroke-width="1.02"/>
<line x1="670.77" y1="277.10" x2="670.77" y2="296.01" stroke="#000" stroke-width="0.93"/>
<line x1="671.85" y1="277.10" x2="671.85" y2="283.32" stroke="#000" stroke-width="1.26"/>
<line x1="672.43" y1="277.10" x2="672.43" y2="284.26" stroke="#000" stroke-width="1.21"/>
<line x1="673.22" y1="277.10" x2="673.22" y2="277.74" stroke="#000" stroke-width="0.86"/>
<line x1="673.74" y1="277.10" x2="673.74" y2="277.68" stroke="#000" stroke-width="0.83"/>
<line x1="674.63" y1="277.10" x2="674.63" y2="277.76" stroke="#000" stroke-width="1.17"/>
<line x1="675.62" y1="277.10" x2="675.62" y2="287.27" stroke="#000" stroke-width="1.19"/>
<line x1="676.59" y1="277.10" x2="676.59" y2="292.57" stroke="#000" stroke-width="1.28"/>
<line x1="677.49" y1="277.10" x2="677.49" y2="297.23" stroke="#000" stroke-width="0.81"/>
<line x1="677.98" y1="277.10" x2="677.98" y2="277.50" stroke="#000" stroke-width="0.86"/>
<line x1="678.67" y1="277.10" x2="678.67" y2="280.78" stroke="#000" stroke-width="1.12"/>
<line x1="679.67" y1="277.10" x2="679.67" y2="277.63" stroke="#000" stroke-width="0.97"/>
<line x1="680.50" y1="277.10" x2="680.50" y2="279.92" stroke="#000" stroke-width="0.81"/>
<line x1="681.38" y1="277.10" x2="681.38" y2="279.91" stroke="#000" stroke-width="1.13"/>
<line x1="682.18" y1="277.10" x2="682.18" y2="296.83" stroke="#000" stroke-width="1.27"/>
<line x1="682.64" y1="277.10" x2="682.64" y2="285.66" stroke="#000" stroke-width="1.15"/>
<line x1="683.27" y1="277.10" x2="683.27" y2="277.85" stroke="#000" stroke-width="1.01"/>
<line x1="683.96" y1="277.10" x2="683.96" y2="285.12" stroke="#000" stroke-width="1.26"/>
<path d="M607.7,269.1 Q619,269.6 621.5,285 L622.2,269.1 Z" fill="#fff"/>
<path d="M480.0,269.0 L484.6,269.0 Q485.4,279 484.5,291 Q482.6,283 481.0,276 Z" fill="#fff"/>
<path d="M479.7,269.5 Q481.9,290 483.3,325" fill="none" stroke="#000" stroke-width="1.25"/>
<path d="M484.8,270 Q485.9,280 486.9,289.5" fill="none" stroke="#000" stroke-width="1.4"/>
<rect x="519.60" y="269.00" width="1.40" height="6.50" fill="#fff" />
<line x1="427.00" y1="272.00" x2="427.00" y2="275.70" stroke="#000" stroke-width="0.6" />
<line x1="453.50" y1="272.00" x2="453.50" y2="283.10" stroke="#333" stroke-width="0.8" />
<line x1="469.60" y1="272.00" x2="469.60" y2="280.20" stroke="#000" stroke-width="0.8" />
<line x1="487.40" y1="272.00" x2="487.40" y2="307.30" stroke="#999" stroke-width="0.8" />
<line x1="489.00" y1="272.00" x2="489.00" y2="278.70" stroke="#000" stroke-width="0.7" />
<line x1="495.80" y1="272.00" x2="495.80" y2="280.00" stroke="#444" stroke-width="0.8" />
<line x1="498.70" y1="272.00" x2="498.70" y2="295.00" stroke="#555" stroke-width="0.9" />
<line x1="505.20" y1="272.00" x2="505.20" y2="309.70" stroke="#c4c4c4" stroke-width="1.3" />
<line x1="512.70" y1="272.00" x2="512.70" y2="295.00" stroke="#222" stroke-width="0.9" />
<line x1="515.80" y1="272.00" x2="515.80" y2="280.00" stroke="#000" stroke-width="0.8" />
<line x1="519.00" y1="272.00" x2="519.00" y2="300.00" stroke="#000" stroke-width="1.1" />
<line x1="525.30" y1="272.00" x2="525.30" y2="291.40" stroke="#000" stroke-width="1.0" />
<line x1="525.40" y1="272.00" x2="525.40" y2="328.60" stroke="#aaa" stroke-width="0.8" />
<line x1="532.30" y1="272.00" x2="532.30" y2="306.60" stroke="#000" stroke-width="0.8" />
<line x1="538.60" y1="272.00" x2="538.60" y2="300.00" stroke="#000" stroke-width="0.8" />
<line x1="542.30" y1="272.00" x2="542.30" y2="300.00" stroke="#000" stroke-width="1.0" />
<line x1="546.70" y1="272.00" x2="546.70" y2="347.00" stroke="#888" stroke-width="0.9" />
<line x1="552.20" y1="272.00" x2="552.20" y2="301.40" stroke="#999" stroke-width="0.9" />
<line x1="557.30" y1="272.00" x2="557.30" y2="314.70" stroke="#000" stroke-width="0.9" />
<line x1="559.50" y1="272.00" x2="559.50" y2="293.40" stroke="#000" stroke-width="0.8" />
<line x1="561.70" y1="272.00" x2="561.70" y2="300.00" stroke="#000" stroke-width="0.8" />
<line x1="564.40" y1="272.00" x2="564.40" y2="319.80" stroke="#000" stroke-width="0.9" />
<line x1="566.20" y1="272.00" x2="566.20" y2="299.20" stroke="#000" stroke-width="0.8" />
<line x1="570.60" y1="272.00" x2="570.60" y2="318.30" stroke="#aaa" stroke-width="1.0" />
<line x1="572.80" y1="272.00" x2="572.80" y2="290.40" stroke="#999" stroke-width="0.9" />
<line x1="585.20" y1="272.00" x2="585.20" y2="286.00" stroke="#000" stroke-width="0.8" />
<line x1="588.20" y1="272.00" x2="588.20" y2="288.20" stroke="#000" stroke-width="0.8" />
<line x1="590.80" y1="272.00" x2="590.80" y2="305.80" stroke="#999" stroke-width="1.0" />
<line x1="594.00" y1="272.00" x2="594.00" y2="289.70" stroke="#000" stroke-width="0.8" />
<line x1="599.20" y1="272.00" x2="599.20" y2="294.80" stroke="#000" stroke-width="0.8" />
<line x1="604.30" y1="272.00" x2="604.30" y2="287.50" stroke="#000" stroke-width="0.8" />
<line x1="609.50" y1="272.00" x2="609.50" y2="300.70" stroke="#000" stroke-width="0.9" />
<line x1="619.20" y1="272.00" x2="619.20" y2="295.60" stroke="#000" stroke-width="1.5" />
<line x1="620.60" y1="272.00" x2="620.60" y2="314.70" stroke="#000" stroke-width="1.0" />
<line x1="629.00" y1="272.00" x2="629.00" y2="288.00" stroke="#000" stroke-width="0.8" />
<line x1="632.60" y1="272.00" x2="632.60" y2="315.40" stroke="#000" stroke-width="0.9" />
<line x1="634.80" y1="272.00" x2="634.80" y2="306.60" stroke="#000" stroke-width="0.9" />
<line x1="639.20" y1="272.00" x2="639.20" y2="294.80" stroke="#000" stroke-width="0.8" />
<line x1="645.80" y1="272.00" x2="645.80" y2="296.30" stroke="#000" stroke-width="0.9" />
<line x1="651.00" y1="272.00" x2="651.00" y2="301.40" stroke="#000" stroke-width="0.8" />
<line x1="657.60" y1="272.00" x2="657.60" y2="318.30" stroke="#666" stroke-width="0.9" />
<line x1="659.80" y1="272.00" x2="659.80" y2="330.00" stroke="#999" stroke-width="0.9" />
<line x1="664.20" y1="272.00" x2="664.20" y2="333.00" stroke="#000" stroke-width="0.9" />
<line x1="664.60" y1="272.00" x2="664.60" y2="340.70" stroke="#333" stroke-width="0.7" />
<line x1="671.50" y1="272.00" x2="671.50" y2="304.40" stroke="#999" stroke-width="0.9" />
<line x1="675.20" y1="272.00" x2="675.20" y2="317.60" stroke="#000" stroke-width="0.9" />
<line x1="681.00" y1="272.00" x2="681.00" y2="298.50" stroke="#000" stroke-width="0.9" />
<line x1="683.30" y1="272.00" x2="683.30" y2="286.00" stroke="#000" stroke-width="0.8" />
<path d="M519.0,290 L521.0,411.5" stroke="#444" stroke-width="0.8" fill="none"/>
<polygon points="476.5,273 479.6,273 480.6,291 478.6,287 477.2,280" fill="#444" opacity="0.55"/>
<path d="M611,272 L617,272 Q620.5,285 621.2,315 L620.2,315 Q618,296 611,286 Z" fill="#000" opacity="0.85"/>
<path d="M550,272.4 Q551.0,275.4 553,279.4 Q555.5,275.4 557,272.4 Z" fill="#000" opacity="0.72"/>
<path d="M558,272.4 Q560.25,280.79999999999995 563.5,288.4 Q566.25,280.79999999999995 568,272.4 Z" fill="#000" opacity="0.68"/>
<path d="M568,272.4 Q572.0,274.79999999999995 577,278.4 Q582.0,274.79999999999995 586,272.4 Z" fill="#000" opacity="0.44"/>
<path d="M586,272.4 Q589.5,283.79999999999995 594,293.4 Q598.5,283.79999999999995 602,272.4 Z" fill="#000" opacity="0.72"/>
<path d="M602,272.4 Q604.0,279.59999999999997 607,286.4 Q610.0,279.59999999999997 612,272.4 Z" fill="#000" opacity="0.68"/>
<path d="M622,272.4 Q625.5,282.0 630,290.4 Q634.5,282.0 638,272.4 Z" fill="#000" opacity="0.72"/>
<path d="M638,272.4 Q640.0,275.4 643,279.4 Q646.0,275.4 648,272.4 Z" fill="#000" opacity="0.48"/>
<path d="M648,272.4 Q652.0,283.2 657,292.4 Q661.0,283.2 664,272.4 Z" fill="#000" opacity="0.68"/>
<path d="M664,272.4 Q665.5,279.0 668,285.4 Q670.5,279.0 672,272.4 Z" fill="#000" opacity="0.68"/>
<path d="M672,272.4 Q673.0,276.59999999999997 675,281.4 Q677.0,276.59999999999997 678,272.4 Z" fill="#000" opacity="0.56"/>
<path d="M678,272.4 Q679.25,278.4 681.5,284.4 Q683.55,278.4 684.6,272.4 Z" fill="#000" opacity="0.68"/>
<path d="M484,272.4 Q485.5,274.2 488,277.4 Q492.5,274.2 496,272.4 Z" fill="#000" opacity="0.40"/>
<path d="M500,272.4 Q504.5,273.59999999999997 510,276.4 Q514.5,273.59999999999997 518,272.4 Z" fill="#000" opacity="0.36"/>
<path d="M526,272.4 Q529.0,274.79999999999995 533,278.4 Q537.0,274.79999999999995 540,272.4 Z" fill="#000" opacity="0.48"/>
<path d="M540,272.4 Q542.0,274.2 545,277.4 Q548.0,274.2 550,272.4 Z" fill="#000" opacity="0.48"/>
<line x1="598.17" y1="273.40" x2="597.79" y2="283.40" stroke="#000" stroke-width="0.37" opacity="0.52"/>
<line x1="576.17" y1="273.40" x2="576.39" y2="287.06" stroke="#000" stroke-width="0.46" opacity="0.58"/>
<line x1="610.46" y1="273.40" x2="610.59" y2="287.83" stroke="#000" stroke-width="0.37" opacity="0.57"/>
<line x1="593.85" y1="273.40" x2="594.07" y2="287.16" stroke="#000" stroke-width="0.35" opacity="0.48"/>
<line x1="662.40" y1="273.40" x2="662.93" y2="286.18" stroke="#000" stroke-width="0.46" opacity="0.52"/>
<line x1="607.54" y1="273.40" x2="607.26" y2="287.45" stroke="#000" stroke-width="0.30" opacity="0.32"/>
<line x1="682.50" y1="273.40" x2="682.45" y2="290.09" stroke="#000" stroke-width="0.57" opacity="0.46"/>
<line x1="680.65" y1="273.40" x2="680.31" y2="286.55" stroke="#000" stroke-width="0.58" opacity="0.31"/>
<line x1="654.02" y1="273.40" x2="654.60" y2="291.31" stroke="#000" stroke-width="0.58" opacity="0.48"/>
<line x1="545.34" y1="273.40" x2="545.31" y2="279.87" stroke="#000" stroke-width="0.55" opacity="0.28"/>
<line x1="601.26" y1="273.40" x2="601.03" y2="281.12" stroke="#000" stroke-width="0.30" opacity="0.37"/>
<line x1="615.37" y1="273.40" x2="615.71" y2="283.42" stroke="#000" stroke-width="0.32" opacity="0.32"/>
<line x1="577.09" y1="273.40" x2="577.41" y2="287.48" stroke="#000" stroke-width="0.41" opacity="0.49"/>
<line x1="672.80" y1="273.40" x2="673.23" y2="282.02" stroke="#000" stroke-width="0.48" opacity="0.51"/>
<line x1="627.56" y1="273.40" x2="627.07" y2="287.57" stroke="#000" stroke-width="0.34" opacity="0.31"/>
<line x1="565.58" y1="273.40" x2="565.23" y2="282.31" stroke="#000" stroke-width="0.47" opacity="0.52"/>
<line x1="654.91" y1="273.40" x2="654.45" y2="296.32" stroke="#000" stroke-width="0.55" opacity="0.32"/>
<line x1="550.42" y1="273.40" x2="550.53" y2="285.15" stroke="#000" stroke-width="0.31" opacity="0.33"/>
<line x1="597.47" y1="273.40" x2="597.35" y2="295.85" stroke="#000" stroke-width="0.42" opacity="0.38"/>
<line x1="553.34" y1="273.40" x2="553.85" y2="296.99" stroke="#000" stroke-width="0.52" opacity="0.39"/>
<line x1="603.93" y1="273.40" x2="604.12" y2="285.63" stroke="#000" stroke-width="0.50" opacity="0.36"/>
<line x1="665.89" y1="273.40" x2="665.55" y2="293.81" stroke="#000" stroke-width="0.54" opacity="0.49"/>
<line x1="575.96" y1="273.40" x2="576.26" y2="285.33" stroke="#000" stroke-width="0.32" opacity="0.40"/>
<line x1="678.79" y1="273.40" x2="678.79" y2="284.52" stroke="#000" stroke-width="0.57" opacity="0.56"/>
<line x1="653.50" y1="273.40" x2="654.02" y2="290.06" stroke="#000" stroke-width="0.38" opacity="0.56"/>
<line x1="598.94" y1="273.40" x2="599.08" y2="292.56" stroke="#000" stroke-width="0.38" opacity="0.49"/>
<line x1="627.02" y1="273.40" x2="627.22" y2="299.15" stroke="#000" stroke-width="0.43" opacity="0.38"/>
<line x1="667.80" y1="273.40" x2="668.00" y2="286.31" stroke="#000" stroke-width="0.51" opacity="0.59"/>
<line x1="567.83" y1="273.40" x2="567.44" y2="292.70" stroke="#000" stroke-width="0.49" opacity="0.48"/>
<line x1="646.99" y1="273.40" x2="646.67" y2="296.73" stroke="#000" stroke-width="0.56" opacity="0.37"/>
<line x1="597.59" y1="273.40" x2="597.62" y2="281.65" stroke="#000" stroke-width="0.30" opacity="0.36"/>
<line x1="636.81" y1="273.40" x2="636.41" y2="294.35" stroke="#000" stroke-width="0.54" opacity="0.41"/>
<line x1="569.56" y1="273.40" x2="569.85" y2="294.37" stroke="#000" stroke-width="0.44" opacity="0.44"/>
<line x1="629.25" y1="273.40" x2="629.57" y2="292.03" stroke="#000" stroke-width="0.53" opacity="0.32"/>
<line x1="542.97" y1="273.40" x2="542.74" y2="281.50" stroke="#000" stroke-width="0.47" opacity="0.59"/>
<line x1="600.02" y1="273.40" x2="600.08" y2="286.78" stroke="#000" stroke-width="0.58" opacity="0.46"/>
<line x1="582.50" y1="273.40" x2="583.10" y2="294.53" stroke="#000" stroke-width="0.54" opacity="0.39"/>
<line x1="564.80" y1="273.40" x2="564.36" y2="288.62" stroke="#000" stroke-width="0.34" opacity="0.41"/>
<line x1="662.43" y1="273.40" x2="662.33" y2="293.44" stroke="#000" stroke-width="0.59" opacity="0.31"/>
<line x1="576.02" y1="273.40" x2="576.11" y2="284.87" stroke="#000" stroke-width="0.57" opacity="0.38"/>
<line x1="659.04" y1="273.40" x2="659.01" y2="298.14" stroke="#000" stroke-width="0.57" opacity="0.56"/>
<line x1="608.59" y1="273.40" x2="608.08" y2="282.79" stroke="#000" stroke-width="0.37" opacity="0.41"/>
<line x1="542.22" y1="273.40" x2="542.21" y2="285.99" stroke="#000" stroke-width="0.40" opacity="0.51"/>
<line x1="622.02" y1="273.40" x2="622.19" y2="290.06" stroke="#000" stroke-width="0.47" opacity="0.39"/>
<line x1="563.90" y1="273.40" x2="563.36" y2="291.16" stroke="#000" stroke-width="0.31" opacity="0.37"/>
<line x1="573.11" y1="273.40" x2="572.70" y2="294.51" stroke="#000" stroke-width="0.43" opacity="0.49"/>
<line x1="600.15" y1="273.40" x2="599.69" y2="295.51" stroke="#000" stroke-width="0.35" opacity="0.35"/>
<line x1="592.58" y1="273.40" x2="592.22" y2="290.59" stroke="#000" stroke-width="0.47" opacity="0.50"/>
<line x1="633.97" y1="273.40" x2="633.47" y2="295.70" stroke="#000" stroke-width="0.50" opacity="0.50"/>
<line x1="658.81" y1="273.40" x2="658.31" y2="282.40" stroke="#000" stroke-width="0.53" opacity="0.48"/>
<line x1="563.99" y1="273.40" x2="564.25" y2="296.82" stroke="#000" stroke-width="0.48" opacity="0.52"/>
<line x1="628.00" y1="273.40" x2="627.46" y2="286.20" stroke="#000" stroke-width="0.40" opacity="0.47"/>
<line x1="567.07" y1="273.40" x2="566.60" y2="282.99" stroke="#000" stroke-width="0.45" opacity="0.59"/>
<line x1="645.22" y1="273.40" x2="645.07" y2="279.65" stroke="#000" stroke-width="0.50" opacity="0.28"/>
<line x1="654.46" y1="273.40" x2="654.39" y2="284.11" stroke="#000" stroke-width="0.54" opacity="0.56"/>
<line x1="551.55" y1="273.40" x2="552.00" y2="295.75" stroke="#000" stroke-width="0.55" opacity="0.52"/>
<line x1="593.73" y1="273.40" x2="593.18" y2="285.67" stroke="#000" stroke-width="0.42" opacity="0.36"/>
<line x1="562.87" y1="273.40" x2="563.33" y2="298.27" stroke="#000" stroke-width="0.54" opacity="0.35"/>
<line x1="557.80" y1="273.40" x2="557.29" y2="287.95" stroke="#000" stroke-width="0.41" opacity="0.46"/>
<line x1="585.69" y1="273.40" x2="585.49" y2="286.09" stroke="#000" stroke-width="0.55" opacity="0.26"/>
<line x1="657.20" y1="273.40" x2="657.26" y2="291.61" stroke="#000" stroke-width="0.51" opacity="0.26"/>
<line x1="664.29" y1="273.40" x2="664.17" y2="285.18" stroke="#000" stroke-width="0.45" opacity="0.57"/>
<line x1="572.81" y1="273.40" x2="573.40" y2="289.88" stroke="#000" stroke-width="0.36" opacity="0.48"/>
<line x1="563.59" y1="273.40" x2="563.51" y2="290.74" stroke="#000" stroke-width="0.47" opacity="0.26"/>
<line x1="569.09" y1="273.40" x2="568.71" y2="297.41" stroke="#000" stroke-width="0.39" opacity="0.60"/>
<line x1="576.66" y1="273.40" x2="576.58" y2="291.00" stroke="#000" stroke-width="0.30" opacity="0.48"/>
<line x1="612.43" y1="273.40" x2="613.00" y2="298.14" stroke="#000" stroke-width="0.32" opacity="0.46"/>
<line x1="589.15" y1="273.40" x2="589.65" y2="282.04" stroke="#000" stroke-width="0.33" opacity="0.43"/>
<line x1="573.50" y1="273.40" x2="573.15" y2="290.86" stroke="#000" stroke-width="0.56" opacity="0.40"/>
<line x1="569.04" y1="273.40" x2="568.60" y2="295.41" stroke="#000" stroke-width="0.52" opacity="0.34"/>
<line x1="661.09" y1="273.40" x2="661.27" y2="284.53" stroke="#000" stroke-width="0.50" opacity="0.43"/>
<line x1="665.38" y1="273.40" x2="665.06" y2="290.26" stroke="#000" stroke-width="0.46" opacity="0.49"/>
<line x1="600.62" y1="273.40" x2="600.11" y2="289.89" stroke="#000" stroke-width="0.38" opacity="0.52"/>
<line x1="588.12" y1="273.40" x2="588.48" y2="283.18" stroke="#000" stroke-width="0.31" opacity="0.26"/>
<line x1="548.95" y1="273.40" x2="548.41" y2="283.19" stroke="#000" stroke-width="0.39" opacity="0.34"/>
<line x1="672.93" y1="273.40" x2="673.02" y2="284.50" stroke="#000" stroke-width="0.39" opacity="0.50"/>
<line x1="556.43" y1="273.40" x2="556.00" y2="286.29" stroke="#000" stroke-width="0.39" opacity="0.34"/>
<line x1="605.14" y1="273.40" x2="604.58" y2="298.27" stroke="#000" stroke-width="0.37" opacity="0.46"/>
<line x1="660.21" y1="273.40" x2="660.05" y2="286.99" stroke="#000" stroke-width="0.40" opacity="0.38"/>
<line x1="617.52" y1="273.40" x2="616.94" y2="295.00" stroke="#000" stroke-width="0.35" opacity="0.33"/>
<line x1="629.39" y1="273.40" x2="628.87" y2="294.61" stroke="#000" stroke-width="0.30" opacity="0.29"/>
<line x1="602.76" y1="273.40" x2="603.33" y2="293.24" stroke="#000" stroke-width="0.41" opacity="0.40"/>
<line x1="666.16" y1="273.40" x2="666.64" y2="294.75" stroke="#000" stroke-width="0.38" opacity="0.50"/>
<line x1="656.41" y1="273.40" x2="656.10" y2="284.87" stroke="#000" stroke-width="0.58" opacity="0.33"/>
<line x1="586.95" y1="273.40" x2="587.40" y2="281.45" stroke="#000" stroke-width="0.49" opacity="0.34"/>
<line x1="603.69" y1="273.40" x2="603.11" y2="288.29" stroke="#000" stroke-width="0.52" opacity="0.28"/>
<line x1="595.21" y1="273.40" x2="594.95" y2="294.15" stroke="#000" stroke-width="0.53" opacity="0.57"/>
<line x1="641.37" y1="273.40" x2="641.88" y2="287.92" stroke="#000" stroke-width="0.40" opacity="0.60"/>
<line x1="627.12" y1="273.40" x2="627.56" y2="290.09" stroke="#000" stroke-width="0.33" opacity="0.35"/>
<line x1="651.62" y1="273.40" x2="652.13" y2="280.76" stroke="#000" stroke-width="0.44" opacity="0.42"/>
<line x1="683.44" y1="273.40" x2="682.86" y2="281.10" stroke="#000" stroke-width="0.47" opacity="0.47"/>
<line x1="664.19" y1="273.40" x2="664.65" y2="283.25" stroke="#000" stroke-width="0.50" opacity="0.45"/>
<line x1="542.82" y1="273.40" x2="542.48" y2="295.39" stroke="#000" stroke-width="0.50" opacity="0.60"/>
<line x1="541.83" y1="273.40" x2="542.36" y2="287.99" stroke="#000" stroke-width="0.39" opacity="0.54"/>
<line x1="657.93" y1="273.40" x2="658.53" y2="293.21" stroke="#000" stroke-width="0.51" opacity="0.29"/>
<line x1="661.23" y1="273.40" x2="661.10" y2="294.44" stroke="#000" stroke-width="0.33" opacity="0.34"/>
<line x1="615.80" y1="273.40" x2="616.38" y2="284.40" stroke="#000" stroke-width="0.35" opacity="0.35"/>
<line x1="557.80" y1="273.40" x2="558.20" y2="294.37" stroke="#000" stroke-width="0.38" opacity="0.39"/>
<line x1="667.93" y1="273.40" x2="667.59" y2="291.35" stroke="#000" stroke-width="0.60" opacity="0.52"/>
<line x1="584.15" y1="273.40" x2="584.16" y2="288.36" stroke="#000" stroke-width="0.49" opacity="0.41"/>
<line x1="561.46" y1="273.40" x2="561.01" y2="285.98" stroke="#000" stroke-width="0.45" opacity="0.46"/>
<line x1="626.67" y1="273.40" x2="626.74" y2="280.81" stroke="#000" stroke-width="0.53" opacity="0.45"/>
<line x1="588.64" y1="273.40" x2="588.52" y2="295.11" stroke="#000" stroke-width="0.54" opacity="0.25"/>
<line x1="552.73" y1="273.40" x2="552.23" y2="288.56" stroke="#000" stroke-width="0.36" opacity="0.58"/>
<line x1="651.84" y1="273.40" x2="651.38" y2="285.37" stroke="#000" stroke-width="0.52" opacity="0.50"/>
<line x1="564.95" y1="273.40" x2="565.11" y2="290.50" stroke="#000" stroke-width="0.33" opacity="0.29"/>
<line x1="543.62" y1="273.40" x2="543.38" y2="296.15" stroke="#000" stroke-width="0.40" opacity="0.26"/>
<line x1="633.42" y1="273.40" x2="633.47" y2="284.40" stroke="#000" stroke-width="0.40" opacity="0.37"/>
<line x1="546.19" y1="273.40" x2="546.69" y2="285.90" stroke="#000" stroke-width="0.58" opacity="0.57"/>
<line x1="662.52" y1="273.40" x2="662.67" y2="295.62" stroke="#000" stroke-width="0.48" opacity="0.50"/>
<line x1="678.32" y1="273.40" x2="678.39" y2="291.47" stroke="#000" stroke-width="0.52" opacity="0.55"/>
<line x1="616.88" y1="273.40" x2="617.01" y2="279.81" stroke="#000" stroke-width="0.40" opacity="0.29"/>
<line x1="546.59" y1="273.40" x2="547.14" y2="290.08" stroke="#000" stroke-width="0.47" opacity="0.54"/>
<line x1="564.91" y1="273.40" x2="565.46" y2="285.98" stroke="#000" stroke-width="0.51" opacity="0.50"/>
<line x1="582.56" y1="273.40" x2="582.38" y2="292.76" stroke="#000" stroke-width="0.36" opacity="0.31"/>
<line x1="565.28" y1="273.40" x2="565.15" y2="281.25" stroke="#000" stroke-width="0.56" opacity="0.44"/>
<line x1="593.66" y1="273.40" x2="594.16" y2="292.23" stroke="#000" stroke-width="0.38" opacity="0.57"/>
<line x1="681.38" y1="273.40" x2="680.85" y2="286.43" stroke="#000" stroke-width="0.50" opacity="0.57"/>
<line x1="592.95" y1="273.40" x2="592.64" y2="285.67" stroke="#000" stroke-width="0.34" opacity="0.48"/>
<line x1="581.66" y1="273.40" x2="581.55" y2="298.06" stroke="#000" stroke-width="0.34" opacity="0.48"/>
<line x1="681.35" y1="273.40" x2="681.91" y2="281.99" stroke="#000" stroke-width="0.50" opacity="0.52"/>
<line x1="676.15" y1="273.40" x2="676.19" y2="290.36" stroke="#000" stroke-width="0.34" opacity="0.39"/>
<line x1="619.55" y1="273.40" x2="619.47" y2="284.70" stroke="#000" stroke-width="0.42" opacity="0.54"/>
<line x1="589.77" y1="273.40" x2="589.44" y2="297.32" stroke="#000" stroke-width="0.50" opacity="0.42"/>
<line x1="583.42" y1="273.40" x2="584.01" y2="294.99" stroke="#000" stroke-width="0.34" opacity="0.53"/>
<line x1="550.06" y1="273.40" x2="550.61" y2="286.50" stroke="#000" stroke-width="0.59" opacity="0.57"/>
<line x1="591.16" y1="273.40" x2="591.73" y2="294.21" stroke="#000" stroke-width="0.32" opacity="0.54"/>
<line x1="644.30" y1="273.40" x2="644.24" y2="298.04" stroke="#000" stroke-width="0.49" opacity="0.52"/>
<line x1="611.51" y1="273.40" x2="611.17" y2="293.76" stroke="#000" stroke-width="0.31" opacity="0.33"/>
<line x1="681.88" y1="273.40" x2="682.35" y2="288.03" stroke="#000" stroke-width="0.59" opacity="0.57"/>
<line x1="619.10" y1="273.40" x2="619.23" y2="285.17" stroke="#000" stroke-width="0.53" opacity="0.50"/>
<line x1="544.70" y1="273.40" x2="544.14" y2="280.53" stroke="#000" stroke-width="0.37" opacity="0.39"/>
<line x1="593.48" y1="273.40" x2="593.80" y2="294.59" stroke="#000" stroke-width="0.39" opacity="0.37"/>
<line x1="668.29" y1="273.40" x2="667.73" y2="293.23" stroke="#000" stroke-width="0.40" opacity="0.54"/>
<line x1="617.22" y1="273.40" x2="617.12" y2="283.42" stroke="#000" stroke-width="0.50" opacity="0.31"/>
<line x1="576.58" y1="273.40" x2="576.45" y2="296.22" stroke="#000" stroke-width="0.42" opacity="0.60"/>
<line x1="677.96" y1="273.40" x2="677.36" y2="285.47" stroke="#000" stroke-width="0.35" opacity="0.59"/>
<line x1="641.14" y1="273.40" x2="641.62" y2="284.04" stroke="#000" stroke-width="0.56" opacity="0.50"/>
<line x1="542.56" y1="273.40" x2="542.23" y2="289.97" stroke="#000" stroke-width="0.38" opacity="0.39"/>
<line x1="597.76" y1="273.40" x2="597.61" y2="297.08" stroke="#000" stroke-width="0.35" opacity="0.30"/>
<line x1="606.77" y1="273.40" x2="607.17" y2="284.95" stroke="#000" stroke-width="0.49" opacity="0.51"/>
<line x1="565.54" y1="273.40" x2="565.77" y2="290.74" stroke="#000" stroke-width="0.31" opacity="0.39"/>
<line x1="636.21" y1="273.40" x2="636.76" y2="282.47" stroke="#000" stroke-width="0.36" opacity="0.29"/>
<line x1="639.02" y1="273.40" x2="639.35" y2="299.11" stroke="#000" stroke-width="0.46" opacity="0.36"/>
<line x1="571.04" y1="273.40" x2="570.71" y2="280.69" stroke="#000" stroke-width="0.49" opacity="0.34"/>
<line x1="682.34" y1="273.40" x2="682.03" y2="282.53" stroke="#000" stroke-width="0.42" opacity="0.58"/>
<line x1="589.12" y1="273.40" x2="589.39" y2="283.09" stroke="#000" stroke-width="0.33" opacity="0.41"/>
<line x1="571.00" y1="273.40" x2="570.92" y2="298.92" stroke="#000" stroke-width="0.45" opacity="0.58"/>
<line x1="633.95" y1="273.40" x2="633.86" y2="299.25" stroke="#000" stroke-width="0.56" opacity="0.40"/>
<line x1="579.89" y1="273.40" x2="580.04" y2="298.62" stroke="#000" stroke-width="0.34" opacity="0.45"/>
<line x1="639.52" y1="273.40" x2="639.50" y2="282.12" stroke="#000" stroke-width="0.43" opacity="0.31"/>
<line x1="638.87" y1="273.40" x2="638.99" y2="289.14" stroke="#000" stroke-width="0.46" opacity="0.47"/>
<line x1="652.18" y1="273.40" x2="652.73" y2="289.08" stroke="#000" stroke-width="0.57" opacity="0.41"/>
<line x1="557.47" y1="273.40" x2="557.33" y2="289.20" stroke="#000" stroke-width="0.57" opacity="0.36"/>
<line x1="548.62" y1="273.40" x2="549.07" y2="283.31" stroke="#000" stroke-width="0.34" opacity="0.57"/>
<line x1="601.87" y1="273.40" x2="602.17" y2="290.22" stroke="#000" stroke-width="0.56" opacity="0.29"/>
<line x1="624.78" y1="273.40" x2="625.32" y2="283.18" stroke="#000" stroke-width="0.53" opacity="0.34"/>
<line x1="589.81" y1="273.40" x2="590.36" y2="298.92" stroke="#000" stroke-width="0.53" opacity="0.26"/>
<line x1="571.64" y1="273.40" x2="571.29" y2="291.47" stroke="#000" stroke-width="0.46" opacity="0.25"/>
<line x1="606.42" y1="273.40" x2="606.82" y2="288.93" stroke="#000" stroke-width="0.40" opacity="0.57"/>
<line x1="575.12" y1="273.40" x2="575.06" y2="279.75" stroke="#000" stroke-width="0.35" opacity="0.58"/>
<line x1="658.37" y1="273.40" x2="658.03" y2="298.12" stroke="#000" stroke-width="0.56" opacity="0.57"/>
<line x1="580.66" y1="273.40" x2="580.50" y2="295.70" stroke="#000" stroke-width="0.36" opacity="0.49"/>
<line x1="588.14" y1="273.40" x2="588.31" y2="285.43" stroke="#000" stroke-width="0.49" opacity="0.26"/>
<line x1="544.13" y1="273.40" x2="543.64" y2="290.12" stroke="#000" stroke-width="0.33" opacity="0.58"/>
<line x1="677.09" y1="273.40" x2="677.60" y2="293.63" stroke="#000" stroke-width="0.51" opacity="0.57"/>
<line x1="540.51" y1="273.40" x2="540.35" y2="286.85" stroke="#000" stroke-width="0.40" opacity="0.34"/>
<line x1="586.07" y1="273.40" x2="586.61" y2="294.27" stroke="#000" stroke-width="0.58" opacity="0.39"/>
<line x1="626.84" y1="273.40" x2="626.61" y2="284.02" stroke="#000" stroke-width="0.57" opacity="0.44"/>
<line x1="552.64" y1="273.40" x2="552.99" y2="289.04" stroke="#000" stroke-width="0.50" opacity="0.29"/>
<line x1="595.98" y1="273.40" x2="595.65" y2="285.82" stroke="#000" stroke-width="0.37" opacity="0.54"/>
<line x1="619.68" y1="273.40" x2="619.55" y2="295.46" stroke="#000" stroke-width="0.55" opacity="0.25"/>
<line x1="589.13" y1="273.40" x2="588.85" y2="283.21" stroke="#000" stroke-width="0.52" opacity="0.31"/>
<line x1="666.42" y1="273.40" x2="666.87" y2="290.98" stroke="#000" stroke-width="0.31" opacity="0.27"/>
<line x1="544.74" y1="273.40" x2="544.71" y2="299.14" stroke="#000" stroke-width="0.32" opacity="0.35"/>
<line x1="590.97" y1="273.40" x2="590.75" y2="284.58" stroke="#000" stroke-width="0.37" opacity="0.34"/>
<line x1="602.15" y1="273.40" x2="602.27" y2="281.66" stroke="#000" stroke-width="0.54" opacity="0.31"/>
<line x1="631.74" y1="273.40" x2="631.52" y2="293.12" stroke="#000" stroke-width="0.42" opacity="0.30"/>
<line x1="628.71" y1="273.40" x2="629.04" y2="298.96" stroke="#000" stroke-width="0.36" opacity="0.40"/>
<line x1="613.38" y1="273.40" x2="613.94" y2="285.02" stroke="#000" stroke-width="0.56" opacity="0.41"/>
<line x1="572.65" y1="273.40" x2="572.67" y2="294.45" stroke="#000" stroke-width="0.51" opacity="0.56"/>
<line x1="679.91" y1="273.40" x2="679.55" y2="295.10" stroke="#000" stroke-width="0.47" opacity="0.50"/>
<line x1="565.16" y1="273.40" x2="564.89" y2="299.18" stroke="#000" stroke-width="0.55" opacity="0.26"/>
<line x1="552.54" y1="273.40" x2="552.04" y2="279.71" stroke="#000" stroke-width="0.32" opacity="0.28"/>
<line x1="644.15" y1="273.40" x2="644.51" y2="297.81" stroke="#000" stroke-width="0.55" opacity="0.52"/>
<line x1="565.07" y1="273.40" x2="564.53" y2="287.11" stroke="#000" stroke-width="0.35" opacity="0.32"/>
<line x1="606.69" y1="273.40" x2="606.51" y2="297.87" stroke="#000" stroke-width="0.51" opacity="0.48"/>
<line x1="584.25" y1="273.40" x2="583.91" y2="280.25" stroke="#000" stroke-width="0.36" opacity="0.43"/>
<line x1="585.53" y1="273.40" x2="585.67" y2="292.44" stroke="#000" stroke-width="0.33" opacity="0.55"/>
<line x1="599.95" y1="273.40" x2="599.39" y2="283.63" stroke="#000" stroke-width="0.44" opacity="0.29"/>
<line x1="648.43" y1="273.40" x2="648.04" y2="283.44" stroke="#000" stroke-width="0.43" opacity="0.28"/>
<line x1="671.01" y1="273.40" x2="670.51" y2="296.52" stroke="#000" stroke-width="0.37" opacity="0.54"/>
<line x1="650.57" y1="273.40" x2="650.79" y2="290.11" stroke="#000" stroke-width="0.43" opacity="0.46"/>
<line x1="629.20" y1="273.40" x2="629.76" y2="294.28" stroke="#000" stroke-width="0.46" opacity="0.30"/>
<line x1="650.95" y1="273.40" x2="651.00" y2="298.88" stroke="#000" stroke-width="0.58" opacity="0.51"/>
<line x1="648.10" y1="273.40" x2="648.23" y2="295.26" stroke="#000" stroke-width="0.33" opacity="0.30"/>
<line x1="665.04" y1="273.40" x2="664.65" y2="292.25" stroke="#000" stroke-width="0.37" opacity="0.56"/>
<line x1="558.05" y1="273.40" x2="558.36" y2="291.11" stroke="#000" stroke-width="0.39" opacity="0.26"/>
<line x1="595.46" y1="273.40" x2="595.92" y2="292.82" stroke="#000" stroke-width="0.48" opacity="0.28"/>
<line x1="568.48" y1="273.40" x2="568.18" y2="289.58" stroke="#000" stroke-width="0.34" opacity="0.30"/>
<line x1="652.41" y1="273.40" x2="652.83" y2="286.38" stroke="#000" stroke-width="0.59" opacity="0.37"/>
<line x1="636.97" y1="273.40" x2="636.70" y2="283.59" stroke="#000" stroke-width="0.37" opacity="0.43"/>
<line x1="554.63" y1="273.40" x2="554.87" y2="295.53" stroke="#000" stroke-width="0.34" opacity="0.35"/>
<line x1="577.03" y1="273.40" x2="577.51" y2="298.28" stroke="#000" stroke-width="0.36" opacity="0.47"/>
<line x1="648.21" y1="273.40" x2="647.95" y2="289.84" stroke="#000" stroke-width="0.56" opacity="0.25"/>
<line x1="674.88" y1="273.40" x2="675.02" y2="294.47" stroke="#000" stroke-width="0.38" opacity="0.28"/>
<line x1="596.03" y1="273.40" x2="596.12" y2="289.66" stroke="#000" stroke-width="0.35" opacity="0.38"/>
<line x1="562.48" y1="273.40" x2="562.49" y2="279.89" stroke="#000" stroke-width="0.44" opacity="0.46"/>
<line x1="602.48" y1="273.40" x2="603.01" y2="292.70" stroke="#000" stroke-width="0.42" opacity="0.45"/>
<line x1="614.84" y1="273.40" x2="614.24" y2="289.13" stroke="#000" stroke-width="0.33" opacity="0.45"/>
<line x1="624.64" y1="273.40" x2="624.46" y2="286.77" stroke="#000" stroke-width="0.33" opacity="0.49"/>
<line x1="632.62" y1="273.40" x2="632.22" y2="281.79" stroke="#000" stroke-width="0.37" opacity="0.35"/>
<line x1="621.04" y1="273.40" x2="621.12" y2="295.35" stroke="#000" stroke-width="0.54" opacity="0.36"/>
<line x1="595.12" y1="273.40" x2="595.53" y2="292.78" stroke="#000" stroke-width="0.57" opacity="0.50"/>
<line x1="565.41" y1="273.40" x2="564.91" y2="291.20" stroke="#000" stroke-width="0.36" opacity="0.40"/>
<line x1="629.79" y1="273.40" x2="629.70" y2="283.59" stroke="#000" stroke-width="0.39" opacity="0.29"/>
<line x1="668.18" y1="273.40" x2="668.52" y2="295.96" stroke="#000" stroke-width="0.34" opacity="0.54"/>
<line x1="673.72" y1="273.40" x2="673.42" y2="280.78" stroke="#000" stroke-width="0.39" opacity="0.32"/>
<line x1="620.65" y1="273.40" x2="620.76" y2="294.03" stroke="#000" stroke-width="0.57" opacity="0.46"/>
<line x1="645.46" y1="273.40" x2="645.75" y2="288.37" stroke="#000" stroke-width="0.34" opacity="0.41"/>
<line x1="576.38" y1="273.40" x2="576.23" y2="286.88" stroke="#000" stroke-width="0.32" opacity="0.43"/>
<line x1="570.79" y1="273.40" x2="570.83" y2="289.80" stroke="#000" stroke-width="0.43" opacity="0.56"/>
<line x1="616.53" y1="273.40" x2="617.06" y2="292.89" stroke="#000" stroke-width="0.43" opacity="0.55"/>
<line x1="599.09" y1="273.40" x2="598.76" y2="279.77" stroke="#000" stroke-width="0.37" opacity="0.48"/>
<line x1="564.68" y1="273.40" x2="564.46" y2="292.37" stroke="#000" stroke-width="0.50" opacity="0.57"/>
<line x1="634.81" y1="273.40" x2="634.91" y2="293.34" stroke="#000" stroke-width="0.47" opacity="0.42"/>
<line x1="648.66" y1="273.40" x2="648.55" y2="287.66" stroke="#000" stroke-width="0.54" opacity="0.51"/>
<line x1="541.46" y1="273.40" x2="541.24" y2="285.71" stroke="#000" stroke-width="0.38" opacity="0.29"/>
<line x1="608.05" y1="273.40" x2="608.20" y2="288.60" stroke="#000" stroke-width="0.42" opacity="0.53"/>
<line x1="646.67" y1="273.40" x2="646.10" y2="298.06" stroke="#000" stroke-width="0.55" opacity="0.59"/>
<line x1="613.84" y1="273.40" x2="614.33" y2="289.86" stroke="#000" stroke-width="0.40" opacity="0.54"/>
<line x1="606.70" y1="273.40" x2="606.98" y2="296.46" stroke="#000" stroke-width="0.44" opacity="0.30"/>
<line x1="581.45" y1="273.40" x2="581.25" y2="292.08" stroke="#000" stroke-width="0.36" opacity="0.34"/>
<line x1="609.03" y1="273.40" x2="609.31" y2="291.00" stroke="#000" stroke-width="0.31" opacity="0.46"/>
<line x1="552.57" y1="273.40" x2="552.23" y2="290.00" stroke="#000" stroke-width="0.51" opacity="0.42"/>
<line x1="556.89" y1="273.40" x2="556.83" y2="289.40" stroke="#000" stroke-width="0.51" opacity="0.56"/>
<line x1="683.83" y1="273.40" x2="683.30" y2="298.79" stroke="#000" stroke-width="0.46" opacity="0.39"/>
<line x1="657.34" y1="273.40" x2="657.84" y2="284.48" stroke="#000" stroke-width="0.34" opacity="0.30"/>
<line x1="577.07" y1="273.40" x2="577.44" y2="286.35" stroke="#000" stroke-width="0.41" opacity="0.45"/>
<line x1="663.14" y1="273.40" x2="663.14" y2="281.33" stroke="#000" stroke-width="0.49" opacity="0.50"/>
<line x1="547.59" y1="273.40" x2="547.76" y2="286.80" stroke="#000" stroke-width="0.34" opacity="0.25"/>
<line x1="654.35" y1="273.40" x2="654.37" y2="282.05" stroke="#000" stroke-width="0.40" opacity="0.40"/>
<line x1="661.58" y1="273.40" x2="661.85" y2="295.02" stroke="#000" stroke-width="0.55" opacity="0.55"/>
<line x1="650.55" y1="273.40" x2="650.64" y2="280.74" stroke="#000" stroke-width="0.35" opacity="0.57"/>
<line x1="649.78" y1="273.40" x2="649.83" y2="295.59" stroke="#000" stroke-width="0.42" opacity="0.36"/>
<line x1="674.91" y1="273.40" x2="674.48" y2="297.14" stroke="#000" stroke-width="0.32" opacity="0.48"/>
<line x1="581.25" y1="273.40" x2="581.38" y2="290.04" stroke="#000" stroke-width="0.43" opacity="0.29"/>
<line x1="612.68" y1="273.40" x2="612.63" y2="297.47" stroke="#000" stroke-width="0.35" opacity="0.30"/>
<line x1="678.97" y1="273.40" x2="678.76" y2="293.14" stroke="#000" stroke-width="0.45" opacity="0.56"/>
<line x1="601.90" y1="273.40" x2="602.30" y2="283.66" stroke="#000" stroke-width="0.48" opacity="0.42"/>
<line x1="566.92" y1="273.40" x2="566.97" y2="292.25" stroke="#000" stroke-width="0.38" opacity="0.60"/>
<line x1="609.85" y1="273.40" x2="609.97" y2="291.99" stroke="#000" stroke-width="0.35" opacity="0.26"/>
<line x1="666.15" y1="273.40" x2="666.09" y2="286.29" stroke="#000" stroke-width="0.37" opacity="0.46"/>
<line x1="647.33" y1="273.40" x2="647.27" y2="287.07" stroke="#000" stroke-width="0.36" opacity="0.46"/>
<line x1="584.44" y1="273.40" x2="584.88" y2="295.17" stroke="#000" stroke-width="0.30" opacity="0.46"/>
<line x1="588.85" y1="273.40" x2="588.54" y2="284.47" stroke="#000" stroke-width="0.39" opacity="0.28"/>
<line x1="558.57" y1="273.40" x2="558.36" y2="280.43" stroke="#000" stroke-width="0.58" opacity="0.37"/>
<line x1="661.70" y1="273.40" x2="661.95" y2="283.03" stroke="#000" stroke-width="0.59" opacity="0.32"/>
<line x1="624.14" y1="273.40" x2="623.54" y2="293.92" stroke="#000" stroke-width="0.31" opacity="0.40"/>
<line x1="577.26" y1="273.40" x2="577.31" y2="286.82" stroke="#000" stroke-width="0.53" opacity="0.34"/>
<polygon points="556.70,269.20 557.90,269.20 557.60,275.40 557.20,275.40" fill="#fff"/>
<polygon points="565.90,269.20 567.10,269.20 566.80,274.40 566.40,274.40" fill="#fff"/>
<polygon points="649.60,269.20 650.80,269.20 650.50,275.40 650.10,275.40" fill="#fff"/>
<polygon points="662.10,269.20 663.30,269.20 663.00,274.40 662.60,274.40" fill="#fff"/>
<polygon points="664.60,269.20 665.80,269.20 665.50,273.40 665.10,273.40" fill="#fff"/>
<polygon points="588.40,269.20 589.60,269.20 589.30,272.40 588.90,272.40" fill="#fff"/>
<polygon points="639.40,269.20 640.60,269.20 640.30,272.40 639.90,272.40" fill="#fff"/>
<rect x="423.70" y="423.90" width="23.95" height="26.30" fill="#bebebe" />
<rect x="447.60" y="423.90" width="0.71" height="26.30" fill="#bebebe" />
<rect x="448.26" y="423.90" width="0.86" height="26.30" fill="#bebebe" />
<rect x="449.07" y="423.90" width="1.14" height="26.30" fill="#a6c5c1" />
<rect x="450.16" y="423.90" width="0.74" height="26.30" fill="#aec2c0" />
<rect x="450.84" y="423.90" width="1.37" height="26.30" fill="#bebebe" />
<rect x="452.16" y="423.90" width="1.15" height="26.30" fill="#a5c5c2" />
<rect x="453.27" y="423.90" width="1.03" height="26.30" fill="#bebebe" />
<rect x="454.24" y="423.90" width="1.19" height="26.30" fill="#abc3c1" />
<rect x="455.38" y="423.90" width="0.78" height="26.30" fill="#aec2c0" />
<rect x="456.11" y="423.90" width="1.24" height="26.30" fill="#bebebe" />
<rect x="457.30" y="423.90" width="1.24" height="26.30" fill="#bebebe" />
<rect x="458.49" y="423.90" width="0.88" height="26.30" fill="#bebebe" />
<rect x="459.32" y="423.90" width="0.94" height="26.30" fill="#bebebe" />
<rect x="460.21" y="423.90" width="1.42" height="26.30" fill="#b3c1c0" />
<rect x="461.58" y="423.90" width="1.51" height="26.30" fill="#bebebe" />
<rect x="463.04" y="423.90" width="1.14" height="26.30" fill="#afc2c0" />
<rect x="464.13" y="423.90" width="0.84" height="26.30" fill="#bebebe" />
<rect x="464.91" y="423.90" width="1.09" height="26.30" fill="#bebebe" />
<rect x="465.96" y="423.90" width="1.20" height="26.30" fill="#bebebe" />
<rect x="467.11" y="423.90" width="1.39" height="26.30" fill="#bebebe" />
<rect x="468.45" y="423.90" width="1.19" height="26.30" fill="#a3c5c2" />
<rect x="469.59" y="423.90" width="1.45" height="26.30" fill="#bebebe" />
<rect x="470.98" y="423.90" width="1.24" height="26.30" fill="#abc3c1" />
<rect x="472.17" y="423.90" width="0.76" height="26.30" fill="#a2c5c2" />
<rect x="472.88" y="423.90" width="0.55" height="26.30" fill="#bebebe" />
<rect x="473.38" y="423.90" width="0.90" height="26.30" fill="#a7c4c1" />
<rect x="474.23" y="423.90" width="1.41" height="26.30" fill="#b7c0bf" />
<rect x="475.59" y="423.90" width="1.24" height="26.30" fill="#a3c5c2" />
<rect x="476.78" y="423.90" width="0.07" height="26.30" fill="#bebebe" />
<rect x="476.80" y="423.90" width="7.25" height="26.30" fill="#ffff00" />
<rect x="484.00" y="423.90" width="0.79" height="26.30" fill="#a3c5c2" />
<rect x="484.74" y="423.90" width="0.67" height="26.30" fill="#9ec7c3" />
<rect x="485.36" y="423.90" width="0.50" height="26.30" fill="#bebebe" />
<rect x="485.80" y="423.90" width="0.80" height="26.30" fill="#bebebe" />
<rect x="486.55" y="423.90" width="1.44" height="26.30" fill="#8ecbc5" />
<rect x="487.94" y="423.90" width="1.16" height="26.30" fill="#89ccc6" />
<rect x="489.04" y="423.90" width="1.48" height="26.30" fill="#85cdc6" />
<rect x="490.48" y="423.90" width="0.71" height="26.30" fill="#b9a0a0" />
<rect x="491.14" y="423.90" width="1.05" height="26.30" fill="#8bccc5" />
<rect x="492.14" y="423.90" width="0.47" height="26.30" fill="#bebebe" />
<rect x="492.57" y="423.90" width="1.15" height="26.30" fill="#90cac5" />
<rect x="493.66" y="423.90" width="1.20" height="26.30" fill="#84cec6" />
<rect x="494.81" y="423.90" width="0.47" height="26.30" fill="#7ad0c8" />
<rect x="495.23" y="423.90" width="0.73" height="26.30" fill="#97c9c4" />
<rect x="495.91" y="423.90" width="0.85" height="26.30" fill="#8bccc5" />
<rect x="496.71" y="423.90" width="0.78" height="26.30" fill="#aaaac5" />
<rect x="497.44" y="423.90" width="1.08" height="26.30" fill="#bebebe" />
<rect x="498.47" y="423.90" width="0.79" height="26.30" fill="#a4a4c7" />
<rect x="499.21" y="423.90" width="0.66" height="26.30" fill="#a0c6c2" />
<rect x="499.81" y="423.90" width="0.80" height="26.30" fill="#9f9fc9" />
<rect x="500.57" y="423.90" width="1.39" height="26.30" fill="#88cdc6" />
<rect x="501.91" y="423.90" width="1.42" height="26.30" fill="#9fc6c2" />
<rect x="503.28" y="423.90" width="1.03" height="26.30" fill="#9393cd" />
<rect x="504.26" y="423.90" width="0.65" height="26.30" fill="#9999cb" />
<rect x="504.87" y="423.90" width="1.34" height="26.30" fill="#98c8c3" />
<rect x="506.15" y="423.90" width="1.32" height="26.30" fill="#92cac4" />
<rect x="507.43" y="423.90" width="0.91" height="26.30" fill="#a7a7c6" />
<rect x="508.29" y="423.90" width="0.46" height="26.30" fill="#bebebe" />
<rect x="508.69" y="423.90" width="1.42" height="26.30" fill="#bebebe" />
<rect x="510.06" y="423.90" width="0.93" height="26.30" fill="#bebebe" />
<rect x="510.94" y="423.90" width="1.47" height="26.30" fill="#80cfc7" />
<rect x="512.36" y="423.90" width="1.18" height="26.30" fill="#96c9c4" />
<rect x="513.49" y="423.90" width="0.70" height="26.30" fill="#98c8c3" />
<rect x="514.14" y="423.90" width="1.34" height="26.30" fill="#9797cb" />
<rect x="515.43" y="423.90" width="0.62" height="26.30" fill="#bebebe" />
<rect x="516.00" y="423.90" width="5.25" height="26.30" fill="#00ff00" />
<rect x="521.20" y="423.90" width="1.44" height="26.30" fill="#69d5ca" />
<rect x="522.59" y="423.90" width="0.64" height="26.30" fill="#8e8ecf" />
<rect x="523.18" y="423.90" width="0.91" height="26.30" fill="#bebebe" />
<rect x="524.03" y="423.90" width="1.12" height="26.30" fill="#62d7cb" />
<rect x="525.11" y="423.90" width="0.97" height="26.30" fill="#bebebe" />
<rect x="526.03" y="423.90" width="0.84" height="26.30" fill="#65d6cb" />
<rect x="526.82" y="423.90" width="0.64" height="26.30" fill="#bebebe" />
<rect x="527.41" y="423.90" width="1.46" height="26.30" fill="#bebebe" />
<rect x="528.82" y="423.90" width="1.36" height="26.30" fill="#8181d3" />
<rect x="530.13" y="423.90" width="0.50" height="26.30" fill="#77d1c8" />
<rect x="530.58" y="423.90" width="0.92" height="26.30" fill="#a1a1c8" />
<rect x="531.45" y="423.90" width="0.51" height="26.30" fill="#94c9c4" />
<rect x="531.91" y="423.90" width="1.52" height="26.30" fill="#bebebe" />
<rect x="533.38" y="423.90" width="0.54" height="26.30" fill="#84cec6" />
<rect x="533.87" y="423.90" width="0.84" height="26.30" fill="#81cec7" />
<rect x="534.66" y="423.90" width="0.66" height="26.30" fill="#75d2c8" />
<rect x="535.27" y="423.90" width="1.24" height="26.30" fill="#8dcbc5" />
<rect x="536.46" y="423.90" width="0.86" height="26.30" fill="#9393cd" />
<rect x="537.27" y="423.90" width="1.33" height="26.30" fill="#81cfc7" />
<rect x="538.55" y="423.90" width="1.00" height="26.30" fill="#bebebe" />
<rect x="539.50" y="423.90" width="0.15" height="26.30" fill="#89ccc6" />
<rect x="539.60" y="423.90" width="3.65" height="26.30" fill="#b05a50" />
<rect x="543.20" y="423.90" width="3.15" height="26.30" fill="#a0c8c4" />
<rect x="546.30" y="423.90" width="2.25" height="26.30" fill="#a098c0" />
<rect x="548.50" y="423.90" width="3.15" height="26.30" fill="#90d0c8" />
<rect x="551.60" y="423.90" width="4.35" height="26.30" fill="#60d8cc" />
<rect x="555.90" y="423.90" width="4.25" height="26.30" fill="#48dcd0" />
<rect x="560.10" y="423.90" width="4.95" height="26.30" fill="#bebebe" />
<rect x="565.00" y="423.90" width="2.15" height="26.30" fill="#5050d8" />
<rect x="567.10" y="423.90" width="1.55" height="26.30" fill="#9090c0" />
<rect x="568.60" y="423.90" width="1.45" height="26.30" fill="#98c8c8" />
<rect x="570.00" y="423.90" width="1.85" height="26.30" fill="#6060d0" />
<rect x="571.80" y="423.90" width="1.65" height="26.30" fill="#90c8c8" />
<rect x="573.40" y="423.90" width="1.55" height="26.30" fill="#7070b0" />
<rect x="574.90" y="423.90" width="1.55" height="26.30" fill="#88d0cc" />
<rect x="576.40" y="423.90" width="2.65" height="26.30" fill="#40e0d0" />
<rect x="579.00" y="423.90" width="3.05" height="26.30" fill="#58dcd0" />
<rect x="582.00" y="423.90" width="40.65" height="26.30" fill="#40e0d0" />
<rect x="622.60" y="423.90" width="2.15" height="26.30" fill="#8080c8" />
<rect x="624.70" y="423.90" width="3.25" height="26.30" fill="#3030e8" />
<rect x="627.90" y="423.90" width="2.15" height="26.30" fill="#5858e0" />
<rect x="630.00" y="423.90" width="3.15" height="26.30" fill="#2828f0" />
<rect x="633.10" y="423.90" width="1.75" height="26.30" fill="#6a6ad8" />
<rect x="634.80" y="423.90" width="4.75" height="26.30" fill="#2020f0" />
<rect x="639.50" y="423.90" width="1.75" height="26.30" fill="#8040a0" />
<rect x="641.20" y="423.90" width="2.95" height="26.30" fill="#2020f0" />
<rect x="644.10" y="423.90" width="1.15" height="26.30" fill="#8a3060" />
<rect x="645.20" y="423.90" width="6.65" height="26.30" fill="#a52a2a" />
<rect x="651.80" y="423.90" width="10.35" height="26.30" fill="#0000ff" />
<rect x="662.10" y="423.90" width="3.95" height="26.30" fill="#ff0000" />
<rect x="666.00" y="423.90" width="7.05" height="26.30" fill="#bebebe" />
<rect x="673.00" y="423.90" width="1.05" height="26.30" fill="#a8d0cc" />
<rect x="674.00" y="423.90" width="11.05" height="26.30" fill="#bebebe" />
<rect x="423.70" y="450.20" width="23.95" height="25.60" fill="#bebebe" />
<rect x="447.60" y="450.20" width="0.71" height="25.60" fill="#bebebe" />
<rect x="448.26" y="450.20" width="0.86" height="25.60" fill="#bebebe" />
<rect x="449.07" y="450.20" width="1.14" height="25.60" fill="#a6c5c1" />
<rect x="450.16" y="450.20" width="0.74" height="25.60" fill="#aec2c0" />
<rect x="450.84" y="450.20" width="1.37" height="25.60" fill="#bebebe" />
<rect x="452.16" y="450.20" width="1.15" height="25.60" fill="#a5c5c2" />
<rect x="453.27" y="450.20" width="1.03" height="25.60" fill="#bebebe" />
<rect x="454.24" y="450.20" width="1.19" height="25.60" fill="#abc3c1" />
<rect x="455.38" y="450.20" width="0.78" height="25.60" fill="#aec2c0" />
<rect x="456.11" y="450.20" width="1.24" height="25.60" fill="#bebebe" />
<rect x="457.30" y="450.20" width="1.24" height="25.60" fill="#bebebe" />
<rect x="458.49" y="450.20" width="0.88" height="25.60" fill="#bebebe" />
<rect x="459.32" y="450.20" width="0.94" height="25.60" fill="#bebebe" />
<rect x="460.21" y="450.20" width="1.42" height="25.60" fill="#b3c1c0" />
<rect x="461.58" y="450.20" width="1.51" height="25.60" fill="#bebebe" />
<rect x="463.04" y="450.20" width="1.14" height="25.60" fill="#afc2c0" />
<rect x="464.13" y="450.20" width="0.84" height="25.60" fill="#bebebe" />
<rect x="464.91" y="450.20" width="1.09" height="25.60" fill="#bebebe" />
<rect x="465.96" y="450.20" width="1.20" height="25.60" fill="#bebebe" />
<rect x="467.11" y="450.20" width="1.39" height="25.60" fill="#bebebe" />
<rect x="468.45" y="450.20" width="1.19" height="25.60" fill="#a3c5c2" />
<rect x="469.59" y="450.20" width="1.45" height="25.60" fill="#bebebe" />
<rect x="470.98" y="450.20" width="1.24" height="25.60" fill="#abc3c1" />
<rect x="472.17" y="450.20" width="0.76" height="25.60" fill="#a2c5c2" />
<rect x="472.88" y="450.20" width="0.55" height="25.60" fill="#bebebe" />
<rect x="473.38" y="450.20" width="0.90" height="25.60" fill="#a7c4c1" />
<rect x="474.23" y="450.20" width="1.41" height="25.60" fill="#b7c0bf" />
<rect x="475.59" y="450.20" width="1.24" height="25.60" fill="#a3c5c2" />
<rect x="476.78" y="450.20" width="0.07" height="25.60" fill="#bebebe" />
<rect x="476.80" y="450.20" width="7.25" height="25.60" fill="#ffff00" />
<rect x="484.00" y="450.20" width="0.79" height="25.60" fill="#a3c5c2" />
<rect x="484.74" y="450.20" width="0.67" height="25.60" fill="#9ec7c3" />
<rect x="485.36" y="450.20" width="0.50" height="25.60" fill="#bebebe" />
<rect x="485.80" y="450.20" width="0.80" height="25.60" fill="#bebebe" />
<rect x="486.55" y="450.20" width="1.44" height="25.60" fill="#8ecbc5" />
<rect x="487.94" y="450.20" width="1.16" height="25.60" fill="#89ccc6" />
<rect x="489.04" y="450.20" width="1.48" height="25.60" fill="#85cdc6" />
<rect x="490.48" y="450.20" width="0.71" height="25.60" fill="#b9a0a0" />
<rect x="491.14" y="450.20" width="1.05" height="25.60" fill="#8bccc5" />
<rect x="492.14" y="450.20" width="0.47" height="25.60" fill="#bebebe" />
<rect x="492.57" y="450.20" width="1.15" height="25.60" fill="#90cac5" />
<rect x="493.66" y="450.20" width="1.20" height="25.60" fill="#84cec6" />
<rect x="494.81" y="450.20" width="0.47" height="25.60" fill="#7ad0c8" />
<rect x="495.23" y="450.20" width="0.73" height="25.60" fill="#97c9c4" />
<rect x="495.91" y="450.20" width="0.85" height="25.60" fill="#8bccc5" />
<rect x="496.71" y="450.20" width="0.78" height="25.60" fill="#aaaac5" />
<rect x="497.44" y="450.20" width="1.08" height="25.60" fill="#bebebe" />
<rect x="498.47" y="450.20" width="0.79" height="25.60" fill="#a4a4c7" />
<rect x="499.21" y="450.20" width="0.66" height="25.60" fill="#a0c6c2" />
<rect x="499.81" y="450.20" width="0.80" height="25.60" fill="#9f9fc9" />
<rect x="500.57" y="450.20" width="1.39" height="25.60" fill="#88cdc6" />
<rect x="501.91" y="450.20" width="1.42" height="25.60" fill="#9fc6c2" />
<rect x="503.28" y="450.20" width="1.03" height="25.60" fill="#9393cd" />
<rect x="504.26" y="450.20" width="0.65" height="25.60" fill="#9999cb" />
<rect x="504.87" y="450.20" width="1.34" height="25.60" fill="#98c8c3" />
<rect x="506.15" y="450.20" width="1.32" height="25.60" fill="#92cac4" />
<rect x="507.43" y="450.20" width="0.91" height="25.60" fill="#a7a7c6" />
<rect x="508.29" y="450.20" width="0.46" height="25.60" fill="#bebebe" />
<rect x="508.69" y="450.20" width="1.42" height="25.60" fill="#bebebe" />
<rect x="510.06" y="450.20" width="0.93" height="25.60" fill="#bebebe" />
<rect x="510.94" y="450.20" width="1.47" height="25.60" fill="#80cfc7" />
<rect x="512.36" y="450.20" width="1.18" height="25.60" fill="#96c9c4" />
<rect x="513.49" y="450.20" width="0.70" height="25.60" fill="#98c8c3" />
<rect x="514.14" y="450.20" width="1.34" height="25.60" fill="#9797cb" />
<rect x="515.43" y="450.20" width="0.62" height="25.60" fill="#bebebe" />
<rect x="516.00" y="450.20" width="5.25" height="25.60" fill="#00ff00" />
<rect x="521.20" y="450.20" width="1.44" height="25.60" fill="#69d5ca" />
<rect x="522.59" y="450.20" width="0.64" height="25.60" fill="#8e8ecf" />
<rect x="523.18" y="450.20" width="0.91" height="25.60" fill="#bebebe" />
<rect x="524.03" y="450.20" width="1.12" height="25.60" fill="#62d7cb" />
<rect x="525.11" y="450.20" width="0.97" height="25.60" fill="#bebebe" />
<rect x="526.03" y="450.20" width="0.84" height="25.60" fill="#65d6cb" />
<rect x="526.82" y="450.20" width="0.64" height="25.60" fill="#bebebe" />
<rect x="527.41" y="450.20" width="1.46" height="25.60" fill="#bebebe" />
<rect x="528.82" y="450.20" width="1.36" height="25.60" fill="#8181d3" />
<rect x="530.13" y="450.20" width="0.50" height="25.60" fill="#77d1c8" />
<rect x="530.58" y="450.20" width="0.92" height="25.60" fill="#a1a1c8" />
<rect x="531.45" y="450.20" width="0.51" height="25.60" fill="#94c9c4" />
<rect x="531.91" y="450.20" width="1.52" height="25.60" fill="#bebebe" />
<rect x="533.38" y="450.20" width="0.54" height="25.60" fill="#84cec6" />
<rect x="533.87" y="450.20" width="0.84" height="25.60" fill="#81cec7" />
<rect x="534.66" y="450.20" width="0.66" height="25.60" fill="#75d2c8" />
<rect x="535.27" y="450.20" width="1.24" height="25.60" fill="#8dcbc5" />
<rect x="536.46" y="450.20" width="0.86" height="25.60" fill="#9393cd" />
<rect x="537.27" y="450.20" width="1.33" height="25.60" fill="#81cfc7" />
<rect x="538.55" y="450.20" width="1.00" height="25.60" fill="#bebebe" />
<rect x="539.50" y="450.20" width="0.15" height="25.60" fill="#89ccc6" />
<rect x="539.60" y="450.20" width="3.65" height="25.60" fill="#b05a50" />
<rect x="543.20" y="450.20" width="3.15" height="25.60" fill="#a0c8c4" />
<rect x="546.30" y="450.20" width="2.25" height="25.60" fill="#a098c0" />
<rect x="548.50" y="450.20" width="3.15" height="25.60" fill="#90d0c8" />
<rect x="551.60" y="450.20" width="4.35" height="25.60" fill="#60d8cc" />
<rect x="555.90" y="450.20" width="4.25" height="25.60" fill="#48dcd0" />
<rect x="560.10" y="450.20" width="4.95" height="25.60" fill="#bebebe" />
<rect x="565.00" y="450.20" width="2.15" height="25.60" fill="#5050d8" />
<rect x="567.10" y="450.20" width="1.55" height="25.60" fill="#9090c0" />
<rect x="568.60" y="450.20" width="1.45" height="25.60" fill="#98c8c8" />
<rect x="570.00" y="450.20" width="1.85" height="25.60" fill="#6060d0" />
<rect x="571.80" y="450.20" width="1.65" height="25.60" fill="#90c8c8" />
<rect x="573.40" y="450.20" width="1.55" height="25.60" fill="#7070b0" />
<rect x="574.90" y="450.20" width="1.55" height="25.60" fill="#88d0cc" />
<rect x="576.40" y="450.20" width="2.65" height="25.60" fill="#40e0d0" />
<rect x="579.00" y="450.20" width="3.05" height="25.60" fill="#58dcd0" />
<rect x="582.00" y="450.20" width="40.65" height="25.60" fill="#40e0d0" />
<rect x="622.60" y="450.20" width="2.15" height="25.60" fill="#8080c8" />
<rect x="624.70" y="450.20" width="3.25" height="25.60" fill="#3030e8" />
<rect x="627.90" y="450.20" width="2.15" height="25.60" fill="#5858e0" />
<rect x="630.00" y="450.20" width="3.15" height="25.60" fill="#2828f0" />
<rect x="633.10" y="450.20" width="1.75" height="25.60" fill="#6a6ad8" />
<rect x="634.80" y="450.20" width="4.75" height="25.60" fill="#2020f0" />
<rect x="639.50" y="450.20" width="1.75" height="25.60" fill="#8040a0" />
<rect x="641.20" y="450.20" width="2.95" height="25.60" fill="#2020f0" />
<rect x="644.10" y="450.20" width="1.15" height="25.60" fill="#8a3060" />
<rect x="645.20" y="450.20" width="6.65" height="25.60" fill="#a52a2a" />
<rect x="651.80" y="450.20" width="10.35" height="25.60" fill="#0000ff" />
<rect x="662.10" y="450.20" width="3.95" height="25.60" fill="#ff0000" />
<rect x="666.00" y="450.20" width="7.05" height="25.60" fill="#bebebe" />
<rect x="673.00" y="450.20" width="1.05" height="25.60" fill="#a8d0cc" />
<rect x="674.00" y="450.20" width="11.05" height="25.60" fill="#bebebe" />
<line x1="423.70" y1="423.90" x2="685.00" y2="423.90" stroke="#777" stroke-width="1.0" />
<line x1="423.70" y1="450.20" x2="685.00" y2="450.20" stroke="#666" stroke-width="1.2" />
<line x1="423.70" y1="475.90" x2="685.00" y2="475.90" stroke="#888" stroke-width="1.0" />
<text x="353.00" y="443.00" font-size="8.5" text-anchor="start" fill="#222" >Dynamic Tree Cut</text>
<text x="353.00" y="467.60" font-size="8.5" text-anchor="start" fill="#222" >Merged dynamic</text>
</svg>
</body></html>
